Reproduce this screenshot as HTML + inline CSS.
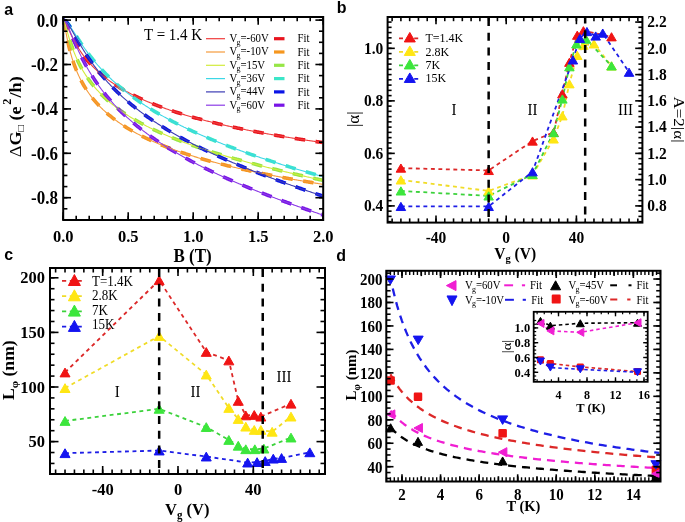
<!DOCTYPE html>
<html><head><meta charset="utf-8"><style>
html,body{margin:0;padding:0;background:#fff;overflow:hidden;}
svg{display:block;will-change:transform;}
</style></head><body>
<svg width="685" height="522" viewBox="0 0 685 522">
<rect width="685" height="522" fill="#fff"/>
<clipPath id="clipA"><rect x="64" y="18" width="258.5" height="201"/></clipPath>
<g clip-path="url(#clipA)">
<polyline points="63.27,20.1 64.13,20.6 65,21.78 65.87,23.37 66.74,25.18 67.61,27.09 68.48,29.03 69.35,30.96 70.22,32.85 71.09,34.7 71.96,36.5 72.83,38.25 73.7,39.93 74.57,41.57 75.44,43.15 76.31,44.67 77.17,46.15 78.04,47.58 78.91,48.97 79.78,50.31 80.65,51.61 81.52,52.88 82.39,54.1 83.26,55.3 84.13,56.46 85,57.58 85.87,58.68 86.74,59.75 87.61,60.79 88.48,61.81 89.35,62.8 90.21,63.77 91.08,64.72 91.95,65.64 92.82,66.54 93.69,67.43 94.56,68.29 95.43,69.14 96.3,69.97 97.17,70.78 98.04,71.58 98.91,72.36 99.78,73.13 100.65,73.88 101.52,74.62 102.39,75.34 103.25,76.05 104.12,76.75 104.99,77.44 105.86,78.11 106.73,78.78 107.6,79.43 108.47,80.07 109.34,80.71 110.21,81.33 111.08,81.94 111.95,82.55 112.82,83.14 113.69,83.73 114.56,84.3 115.43,84.87 116.3,85.43 117.16,85.99 118.03,86.53 118.9,87.07 119.77,87.6 120.64,88.13 121.51,88.64 122.38,89.15 123.25,89.66 124.12,90.15 124.99,90.65 125.86,91.13 126.73,91.61 127.6,92.08 128.47,92.55 129.34,93.01 130.2,93.47 131.07,93.92 131.94,94.37 132.81,94.81 133.68,95.25 134.55,95.68 135.42,96.1 136.29,96.53 137.16,96.94 138.03,97.36 138.9,97.77 139.77,98.17 140.64,98.57 141.51,98.97 142.38,99.36 143.25,99.75 144.11,100.13 144.98,100.52 145.85,100.89 146.72,101.27 147.59,101.64 148.46,102 149.33,102.37 150.2,102.73 151.07,103.08 151.94,103.44 152.81,103.79 153.68,104.13 154.55,104.48 155.42,104.82 156.29,105.16 157.15,105.49 158.02,105.82 158.89,106.15 159.76,106.48 160.63,106.8 161.5,107.12 162.37,107.44 163.24,107.76 164.11,108.07 164.98,108.38 165.85,108.69 166.72,109 167.59,109.3 168.46,109.6 169.33,109.9 170.19,110.19 171.06,110.49 171.93,110.78 172.8,111.07 173.67,111.36 174.54,111.64 175.41,111.92 176.28,112.21 177.15,112.48 178.02,112.76 178.89,113.04 179.76,113.31 180.63,113.58 181.5,113.85 182.37,114.12 183.24,114.38 184.1,114.64 184.97,114.91 185.84,115.17 186.71,115.42 187.58,115.68 188.45,115.94 189.32,116.19 190.19,116.44 191.06,116.69 191.93,116.94 192.8,117.18 193.67,117.43 194.54,117.67 195.41,117.91 196.28,118.15 197.14,118.39 198.01,118.63 198.88,118.86 199.75,119.1 200.62,119.33 201.49,119.56 202.36,119.79 203.23,120.02 204.1,120.24 204.97,120.47 205.84,120.69 206.71,120.92 207.58,121.14 208.45,121.36 209.32,121.58 210.18,121.8 211.05,122.01 211.92,122.23 212.79,122.44 213.66,122.65 214.53,122.86 215.4,123.07 216.27,123.28 217.14,123.49 218.01,123.7 218.88,123.9 219.75,124.11 220.62,124.31 221.49,124.51 222.36,124.71 223.23,124.91 224.09,125.11 224.96,125.31 225.83,125.51 226.7,125.7 227.57,125.9 228.44,126.09 229.31,126.28 230.18,126.47 231.05,126.66 231.92,126.85 232.79,127.04 233.66,127.23 234.53,127.42 235.4,127.6 236.27,127.79 237.13,127.97 238,128.15 238.87,128.33 239.74,128.51 240.61,128.69 241.48,128.87 242.35,129.05 243.22,129.23 244.09,129.41 244.96,129.58 245.83,129.76 246.7,129.93 247.57,130.1 248.44,130.28 249.31,130.45 250.17,130.62 251.04,130.79 251.91,130.96 252.78,131.12 253.65,131.29 254.52,131.46 255.39,131.62 256.26,131.79 257.13,131.95 258,132.12 258.87,132.28 259.74,132.44 260.61,132.6 261.48,132.76 262.35,132.92 263.21,133.08 264.08,133.24 264.95,133.4 265.82,133.55 266.69,133.71 267.56,133.87 268.43,134.02 269.3,134.17 270.17,134.33 271.04,134.48 271.91,134.63 272.78,134.78 273.65,134.93 274.52,135.08 275.39,135.23 276.26,135.38 277.12,135.53 277.99,135.68 278.86,135.83 279.73,135.97 280.6,136.12 281.47,136.26 282.34,136.41 283.21,136.55 284.08,136.69 284.95,136.84 285.82,136.98 286.69,137.12 287.56,137.26 288.43,137.4 289.3,137.54 290.16,137.68 291.03,137.82 291.9,137.96 292.77,138.09 293.64,138.23 294.51,138.37 295.38,138.5 296.25,138.64 297.12,138.77 297.99,138.91 298.86,139.04 299.73,139.17 300.6,139.3 301.47,139.44 302.34,139.57 303.2,139.7 304.07,139.83 304.94,139.96 305.81,140.09 306.68,140.22 307.55,140.35 308.42,140.47 309.29,140.6 310.16,140.73 311.03,140.85 311.9,140.98 312.77,141.11 313.64,141.23 314.51,141.36 315.38,141.48 316.25,141.6 317.11,141.73 317.98,141.85 318.85,141.97 319.72,142.09 320.59,142.21 321.46,142.33 322.33,142.45 323.2,142.57" fill="none" stroke="#e8141e" stroke-width="3.6" stroke-dasharray="10.5,10.5" stroke-linejoin="round" />
<polyline points="63.27,20.11 64.13,22.61 65,27.09 65.87,31.88 66.74,36.47 67.61,40.75 68.48,44.71 69.35,48.37 70.22,51.76 71.09,54.91 71.96,57.85 72.83,60.61 73.7,63.2 74.57,65.65 75.44,67.96 76.31,70.15 77.17,72.23 78.04,74.22 78.91,76.12 79.78,77.93 80.65,79.67 81.52,81.34 82.39,82.95 83.26,84.49 84.13,85.98 85,87.42 85.87,88.81 86.74,90.16 87.61,91.47 88.48,92.73 89.35,93.96 90.21,95.15 91.08,96.31 91.95,97.44 92.82,98.54 93.69,99.61 94.56,100.65 95.43,101.67 96.3,102.66 97.17,103.63 98.04,104.58 98.91,105.5 99.78,106.41 100.65,107.3 101.52,108.16 102.39,109.01 103.25,109.85 104.12,110.66 104.99,111.47 105.86,112.25 106.73,113.02 107.6,113.78 108.47,114.52 109.34,115.26 110.21,115.97 111.08,116.68 111.95,117.37 112.82,118.06 113.69,118.73 114.56,119.39 115.43,120.04 116.3,120.68 117.16,121.31 118.03,121.93 118.9,122.54 119.77,123.15 120.64,123.74 121.51,124.33 122.38,124.9 123.25,125.47 124.12,126.04 124.99,126.59 125.86,127.14 126.73,127.68 127.6,128.21 128.47,128.74 129.34,129.26 130.2,129.77 131.07,130.28 131.94,130.78 132.81,131.27 133.68,131.76 134.55,132.25 135.42,132.72 136.29,133.2 137.16,133.66 138.03,134.13 138.9,134.58 139.77,135.03 140.64,135.48 141.51,135.92 142.38,136.36 143.25,136.79 144.11,137.22 144.98,137.65 145.85,138.07 146.72,138.48 147.59,138.89 148.46,139.3 149.33,139.7 150.2,140.1 151.07,140.5 151.94,140.89 152.81,141.28 153.68,141.66 154.55,142.04 155.42,142.42 156.29,142.8 157.15,143.17 158.02,143.53 158.89,143.9 159.76,144.26 160.63,144.62 161.5,144.97 162.37,145.33 163.24,145.67 164.11,146.02 164.98,146.36 165.85,146.7 166.72,147.04 167.59,147.38 168.46,147.71 169.33,148.04 170.19,148.37 171.06,148.69 171.93,149.01 172.8,149.33 173.67,149.65 174.54,149.96 175.41,150.27 176.28,150.58 177.15,150.89 178.02,151.2 178.89,151.5 179.76,151.8 180.63,152.1 181.5,152.4 182.37,152.69 183.24,152.98 184.1,153.27 184.97,153.56 185.84,153.85 186.71,154.13 187.58,154.42 188.45,154.7 189.32,154.97 190.19,155.25 191.06,155.53 191.93,155.8 192.8,156.07 193.67,156.34 194.54,156.61 195.41,156.87 196.28,157.14 197.14,157.4 198.01,157.66 198.88,157.92 199.75,158.18 200.62,158.44 201.49,158.69 202.36,158.94 203.23,159.19 204.1,159.44 204.97,159.69 205.84,159.94 206.71,160.19 207.58,160.43 208.45,160.67 209.32,160.91 210.18,161.15 211.05,161.39 211.92,161.63 212.79,161.87 213.66,162.1 214.53,162.33 215.4,162.57 216.27,162.8 217.14,163.03 218.01,163.25 218.88,163.48 219.75,163.71 220.62,163.93 221.49,164.15 222.36,164.38 223.23,164.6 224.09,164.82 224.96,165.03 225.83,165.25 226.7,165.47 227.57,165.68 228.44,165.9 229.31,166.11 230.18,166.32 231.05,166.53 231.92,166.74 232.79,166.95 233.66,167.16 234.53,167.36 235.4,167.57 236.27,167.77 237.13,167.98 238,168.18 238.87,168.38 239.74,168.58 240.61,168.78 241.48,168.98 242.35,169.18 243.22,169.37 244.09,169.57 244.96,169.76 245.83,169.96 246.7,170.15 247.57,170.34 248.44,170.53 249.31,170.73 250.17,170.91 251.04,171.1 251.91,171.29 252.78,171.48 253.65,171.66 254.52,171.85 255.39,172.03 256.26,172.22 257.13,172.4 258,172.58 258.87,172.76 259.74,172.94 260.61,173.12 261.48,173.3 262.35,173.48 263.21,173.66 264.08,173.83 264.95,174.01 265.82,174.19 266.69,174.36 267.56,174.53 268.43,174.71 269.3,174.88 270.17,175.05 271.04,175.22 271.91,175.39 272.78,175.56 273.65,175.73 274.52,175.9 275.39,176.06 276.26,176.23 277.12,176.4 277.99,176.56 278.86,176.73 279.73,176.89 280.6,177.06 281.47,177.22 282.34,177.38 283.21,177.54 284.08,177.7 284.95,177.86 285.82,178.02 286.69,178.18 287.56,178.34 288.43,178.5 289.3,178.65 290.16,178.81 291.03,178.97 291.9,179.12 292.77,179.28 293.64,179.43 294.51,179.59 295.38,179.74 296.25,179.89 297.12,180.04 297.99,180.2 298.86,180.35 299.73,180.5 300.6,180.65 301.47,180.8 302.34,180.94 303.2,181.09 304.07,181.24 304.94,181.39 305.81,181.53 306.68,181.68 307.55,181.83 308.42,181.97 309.29,182.12 310.16,182.26 311.03,182.4 311.9,182.55 312.77,182.69 313.64,182.83 314.51,182.97 315.38,183.12 316.25,183.26 317.11,183.4 317.98,183.54 318.85,183.68 319.72,183.81 320.59,183.95 321.46,184.09 322.33,184.23 323.2,184.37" fill="none" stroke="#f5961e" stroke-width="3.6" stroke-dasharray="10.5,10.5" stroke-linejoin="round" />
<polyline points="63.27,20.11 64.13,21.22 65,23.62 65.87,26.57 66.74,29.69 67.61,32.79 68.48,35.81 69.35,38.72 70.22,41.49 71.09,44.14 71.96,46.66 72.83,49.06 73.7,51.35 74.57,53.54 75.44,55.63 76.31,57.64 77.17,59.56 78.04,61.41 78.91,63.18 79.78,64.89 80.65,66.54 81.52,68.13 82.39,69.67 83.26,71.16 84.13,72.6 85,73.99 85.87,75.35 86.74,76.66 87.61,77.94 88.48,79.18 89.35,80.39 90.21,81.57 91.08,82.72 91.95,83.84 92.82,84.93 93.69,86 94.56,87.04 95.43,88.06 96.3,89.06 97.17,90.03 98.04,90.98 98.91,91.92 99.78,92.83 100.65,93.73 101.52,94.61 102.39,95.48 103.25,96.32 104.12,97.15 104.99,97.97 105.86,98.77 106.73,99.56 107.6,100.34 108.47,101.1 109.34,101.85 110.21,102.59 111.08,103.31 111.95,104.03 112.82,104.73 113.69,105.42 114.56,106.11 115.43,106.78 116.3,107.44 117.16,108.1 118.03,108.74 118.9,109.38 119.77,110 120.64,110.62 121.51,111.23 122.38,111.84 123.25,112.43 124.12,113.02 124.99,113.6 125.86,114.17 126.73,114.74 127.6,115.3 128.47,115.85 129.34,116.4 130.2,116.94 131.07,117.47 131.94,118 132.81,118.52 133.68,119.04 134.55,119.55 135.42,120.06 136.29,120.56 137.16,121.05 138.03,121.54 138.9,122.03 139.77,122.51 140.64,122.98 141.51,123.46 142.38,123.92 143.25,124.38 144.11,124.84 144.98,125.3 145.85,125.74 146.72,126.19 147.59,126.63 148.46,127.07 149.33,127.5 150.2,127.93 151.07,128.36 151.94,128.78 152.81,129.2 153.68,129.61 154.55,130.03 155.42,130.43 156.29,130.84 157.15,131.24 158.02,131.64 158.89,132.03 159.76,132.43 160.63,132.82 161.5,133.2 162.37,133.59 163.24,133.97 164.11,134.35 164.98,134.72 165.85,135.09 166.72,135.46 167.59,135.83 168.46,136.19 169.33,136.56 170.19,136.92 171.06,137.27 171.93,137.63 172.8,137.98 173.67,138.33 174.54,138.68 175.41,139.02 176.28,139.37 177.15,139.71 178.02,140.05 178.89,140.38 179.76,140.72 180.63,141.05 181.5,141.38 182.37,141.71 183.24,142.04 184.1,142.36 184.97,142.68 185.84,143 186.71,143.32 187.58,143.64 188.45,143.95 189.32,144.27 190.19,144.58 191.06,144.89 191.93,145.2 192.8,145.5 193.67,145.81 194.54,146.11 195.41,146.41 196.28,146.71 197.14,147.01 198.01,147.31 198.88,147.61 199.75,147.9 200.62,148.19 201.49,148.48 202.36,148.77 203.23,149.06 204.1,149.35 204.97,149.63 205.84,149.92 206.71,150.2 207.58,150.48 208.45,150.76 209.32,151.04 210.18,151.32 211.05,151.59 211.92,151.87 212.79,152.14 213.66,152.41 214.53,152.68 215.4,152.95 216.27,153.22 217.14,153.49 218.01,153.76 218.88,154.02 219.75,154.29 220.62,154.55 221.49,154.81 222.36,155.07 223.23,155.33 224.09,155.59 224.96,155.85 225.83,156.11 226.7,156.36 227.57,156.62 228.44,156.87 229.31,157.12 230.18,157.38 231.05,157.63 231.92,157.88 232.79,158.13 233.66,158.37 234.53,158.62 235.4,158.87 236.27,159.11 237.13,159.36 238,159.6 238.87,159.84 239.74,160.09 240.61,160.33 241.48,160.57 242.35,160.81 243.22,161.04 244.09,161.28 244.96,161.52 245.83,161.76 246.7,161.99 247.57,162.23 248.44,162.46 249.31,162.69 250.17,162.92 251.04,163.16 251.91,163.39 252.78,163.62 253.65,163.85 254.52,164.08 255.39,164.3 256.26,164.53 257.13,164.76 258,164.98 258.87,165.21 259.74,165.43 260.61,165.66 261.48,165.88 262.35,166.1 263.21,166.33 264.08,166.55 264.95,166.77 265.82,166.99 266.69,167.21 267.56,167.43 268.43,167.64 269.3,167.86 270.17,168.08 271.04,168.3 271.91,168.51 272.78,168.73 273.65,168.94 274.52,169.16 275.39,169.37 276.26,169.58 277.12,169.8 277.99,170.01 278.86,170.22 279.73,170.43 280.6,170.64 281.47,170.85 282.34,171.06 283.21,171.27 284.08,171.48 284.95,171.69 285.82,171.9 286.69,172.1 287.56,172.31 288.43,172.52 289.3,172.72 290.16,172.93 291.03,173.13 291.9,173.34 292.77,173.54 293.64,173.74 294.51,173.95 295.38,174.15 296.25,174.35 297.12,174.55 297.99,174.75 298.86,174.95 299.73,175.16 300.6,175.36 301.47,175.56 302.34,175.75 303.2,175.95 304.07,176.15 304.94,176.35 305.81,176.55 306.68,176.74 307.55,176.94 308.42,177.14 309.29,177.33 310.16,177.53 311.03,177.73 311.9,177.92 312.77,178.12 313.64,178.31 314.51,178.5 315.38,178.7 316.25,178.89 317.11,179.08 317.98,179.28 318.85,179.47 319.72,179.66 320.59,179.85 321.46,180.04 322.33,180.24 323.2,180.43" fill="none" stroke="#96e646" stroke-width="3.6" stroke-dasharray="10.5,10.5" stroke-linejoin="round" />
<polyline points="63.27,20.1 64.13,20.26 65,20.67 65.87,21.31 66.74,22.13 67.61,23.1 68.48,24.18 69.35,25.35 70.22,26.59 71.09,27.88 71.96,29.2 72.83,30.54 73.7,31.9 74.57,33.26 75.44,34.62 76.31,35.99 77.17,37.34 78.04,38.69 78.91,40.02 79.78,41.35 80.65,42.66 81.52,43.95 82.39,45.23 83.26,46.49 84.13,47.74 85,48.97 85.87,50.18 86.74,51.38 87.61,52.55 88.48,53.72 89.35,54.86 90.21,55.99 91.08,57.11 91.95,58.21 92.82,59.29 93.69,60.36 94.56,61.41 95.43,62.45 96.3,63.48 97.17,64.49 98.04,65.49 98.91,66.47 99.78,67.44 100.65,68.4 101.52,69.35 102.39,70.28 103.25,71.2 104.12,72.11 104.99,73.01 105.86,73.9 106.73,74.77 107.6,75.64 108.47,76.5 109.34,77.34 110.21,78.18 111.08,79 111.95,79.82 112.82,80.62 113.69,81.42 114.56,82.21 115.43,82.99 116.3,83.76 117.16,84.53 118.03,85.28 118.9,86.03 119.77,86.77 120.64,87.5 121.51,88.22 122.38,88.94 123.25,89.65 124.12,90.35 124.99,91.05 125.86,91.73 126.73,92.42 127.6,93.09 128.47,93.76 129.34,94.42 130.2,95.08 131.07,95.73 131.94,96.37 132.81,97.01 133.68,97.64 134.55,98.27 135.42,98.89 136.29,99.51 137.16,100.12 138.03,100.73 138.9,101.33 139.77,101.92 140.64,102.51 141.51,103.1 142.38,103.68 143.25,104.26 144.11,104.83 144.98,105.39 145.85,105.96 146.72,106.52 147.59,107.07 148.46,107.62 149.33,108.16 150.2,108.71 151.07,109.24 151.94,109.78 152.81,110.31 153.68,110.83 154.55,111.35 155.42,111.87 156.29,112.39 157.15,112.9 158.02,113.4 158.89,113.91 159.76,114.41 160.63,114.9 161.5,115.4 162.37,115.89 163.24,116.38 164.11,116.86 164.98,117.34 165.85,117.82 166.72,118.29 167.59,118.76 168.46,119.23 169.33,119.7 170.19,120.16 171.06,120.62 171.93,121.08 172.8,121.53 173.67,121.98 174.54,122.43 175.41,122.88 176.28,123.32 177.15,123.76 178.02,124.2 178.89,124.63 179.76,125.07 180.63,125.5 181.5,125.93 182.37,126.35 183.24,126.77 184.1,127.2 184.97,127.61 185.84,128.03 186.71,128.45 187.58,128.86 188.45,129.27 189.32,129.68 190.19,130.08 191.06,130.48 191.93,130.89 192.8,131.28 193.67,131.68 194.54,132.08 195.41,132.47 196.28,132.86 197.14,133.25 198.01,133.64 198.88,134.02 199.75,134.41 200.62,134.79 201.49,135.17 202.36,135.55 203.23,135.93 204.1,136.3 204.97,136.67 205.84,137.04 206.71,137.41 207.58,137.78 208.45,138.15 209.32,138.51 210.18,138.88 211.05,139.24 211.92,139.6 212.79,139.95 213.66,140.31 214.53,140.67 215.4,141.02 216.27,141.37 217.14,141.72 218.01,142.07 218.88,142.42 219.75,142.77 220.62,143.11 221.49,143.45 222.36,143.8 223.23,144.14 224.09,144.47 224.96,144.81 225.83,145.15 226.7,145.48 227.57,145.82 228.44,146.15 229.31,146.48 230.18,146.81 231.05,147.14 231.92,147.47 232.79,147.79 233.66,148.12 234.53,148.44 235.4,148.77 236.27,149.09 237.13,149.41 238,149.73 238.87,150.05 239.74,150.36 240.61,150.68 241.48,150.99 242.35,151.31 243.22,151.62 244.09,151.93 244.96,152.24 245.83,152.55 246.7,152.86 247.57,153.16 248.44,153.47 249.31,153.78 250.17,154.08 251.04,154.38 251.91,154.68 252.78,154.99 253.65,155.29 254.52,155.59 255.39,155.88 256.26,156.18 257.13,156.48 258,156.77 258.87,157.07 259.74,157.36 260.61,157.65 261.48,157.95 262.35,158.24 263.21,158.53 264.08,158.82 264.95,159.1 265.82,159.39 266.69,159.68 267.56,159.96 268.43,160.25 269.3,160.53 270.17,160.82 271.04,161.1 271.91,161.38 272.78,161.66 273.65,161.94 274.52,162.22 275.39,162.5 276.26,162.78 277.12,163.05 277.99,163.33 278.86,163.6 279.73,163.88 280.6,164.15 281.47,164.43 282.34,164.7 283.21,164.97 284.08,165.24 284.95,165.51 285.82,165.78 286.69,166.05 287.56,166.32 288.43,166.59 289.3,166.85 290.16,167.12 291.03,167.39 291.9,167.65 292.77,167.92 293.64,168.18 294.51,168.44 295.38,168.71 296.25,168.97 297.12,169.23 297.99,169.49 298.86,169.75 299.73,170.01 300.6,170.27 301.47,170.53 302.34,170.78 303.2,171.04 304.07,171.3 304.94,171.55 305.81,171.81 306.68,172.06 307.55,172.32 308.42,172.57 309.29,172.82 310.16,173.08 311.03,173.33 311.9,173.58 312.77,173.83 313.64,174.08 314.51,174.33 315.38,174.58 316.25,174.83 317.11,175.08 317.98,175.32 318.85,175.57 319.72,175.82 320.59,176.06 321.46,176.31 322.33,176.55 323.2,176.8" fill="none" stroke="#3ce6c8" stroke-width="3.6" stroke-dasharray="10.5,10.5" stroke-linejoin="round" />
<polyline points="63.27,20.1 64.13,20.28 65,20.75 65.87,21.48 66.74,22.41 67.61,23.51 68.48,24.74 69.35,26.07 70.22,27.46 71.09,28.91 71.96,30.39 72.83,31.9 73.7,33.42 74.57,34.95 75.44,36.48 76.31,38 77.17,39.52 78.04,41.02 78.91,42.51 79.78,43.99 80.65,45.45 81.52,46.89 82.39,48.31 83.26,49.72 84.13,51.11 85,52.47 85.87,53.82 86.74,55.15 87.61,56.46 88.48,57.75 89.35,59.03 90.21,60.28 91.08,61.52 91.95,62.74 92.82,63.94 93.69,65.13 94.56,66.3 95.43,67.45 96.3,68.58 97.17,69.71 98.04,70.81 98.91,71.9 99.78,72.98 100.65,74.04 101.52,75.09 102.39,76.12 103.25,77.14 104.12,78.15 104.99,79.15 105.86,80.13 106.73,81.1 107.6,82.06 108.47,83.01 109.34,83.95 110.21,84.87 111.08,85.79 111.95,86.69 112.82,87.58 113.69,88.47 114.56,89.34 115.43,90.21 116.3,91.06 117.16,91.91 118.03,92.74 118.9,93.57 119.77,94.39 120.64,95.2 121.51,96 122.38,96.8 123.25,97.58 124.12,98.36 124.99,99.13 125.86,99.89 126.73,100.65 127.6,101.4 128.47,102.14 129.34,102.87 130.2,103.6 131.07,104.32 131.94,105.04 132.81,105.75 133.68,106.45 134.55,107.14 135.42,107.83 136.29,108.52 137.16,109.2 138.03,109.87 138.9,110.54 139.77,111.2 140.64,111.85 141.51,112.5 142.38,113.15 143.25,113.79 144.11,114.42 144.98,115.05 145.85,115.68 146.72,116.3 147.59,116.92 148.46,117.53 149.33,118.13 150.2,118.74 151.07,119.33 151.94,119.93 152.81,120.52 153.68,121.1 154.55,121.68 155.42,122.26 156.29,122.83 157.15,123.4 158.02,123.97 158.89,124.53 159.76,125.08 160.63,125.64 161.5,126.19 162.37,126.73 163.24,127.28 164.11,127.82 164.98,128.35 165.85,128.89 166.72,129.42 167.59,129.94 168.46,130.46 169.33,130.98 170.19,131.5 171.06,132.01 171.93,132.52 172.8,133.03 173.67,133.54 174.54,134.04 175.41,134.54 176.28,135.03 177.15,135.53 178.02,136.02 178.89,136.5 179.76,136.99 180.63,137.47 181.5,137.95 182.37,138.43 183.24,138.9 184.1,139.37 184.97,139.84 185.84,140.31 186.71,140.78 187.58,141.24 188.45,141.7 189.32,142.16 190.19,142.61 191.06,143.06 191.93,143.51 192.8,143.96 193.67,144.41 194.54,144.85 195.41,145.3 196.28,145.74 197.14,146.17 198.01,146.61 198.88,147.04 199.75,147.48 200.62,147.91 201.49,148.33 202.36,148.76 203.23,149.19 204.1,149.61 204.97,150.03 205.84,150.45 206.71,150.86 207.58,151.28 208.45,151.69 209.32,152.1 210.18,152.51 211.05,152.92 211.92,153.33 212.79,153.73 213.66,154.14 214.53,154.54 215.4,154.94 216.27,155.34 217.14,155.73 218.01,156.13 218.88,156.52 219.75,156.91 220.62,157.31 221.49,157.69 222.36,158.08 223.23,158.47 224.09,158.85 224.96,159.24 225.83,159.62 226.7,160 227.57,160.38 228.44,160.76 229.31,161.13 230.18,161.51 231.05,161.88 231.92,162.25 232.79,162.63 233.66,163 234.53,163.36 235.4,163.73 236.27,164.1 237.13,164.46 238,164.83 238.87,165.19 239.74,165.55 240.61,165.91 241.48,166.27 242.35,166.63 243.22,166.99 244.09,167.34 244.96,167.7 245.83,168.05 246.7,168.4 247.57,168.75 248.44,169.1 249.31,169.45 250.17,169.8 251.04,170.15 251.91,170.5 252.78,170.84 253.65,171.18 254.52,171.53 255.39,171.87 256.26,172.21 257.13,172.55 258,172.89 258.87,173.23 259.74,173.57 260.61,173.9 261.48,174.24 262.35,174.57 263.21,174.91 264.08,175.24 264.95,175.57 265.82,175.9 266.69,176.23 267.56,176.56 268.43,176.89 269.3,177.22 270.17,177.55 271.04,177.87 271.91,178.2 272.78,178.52 273.65,178.85 274.52,179.17 275.39,179.49 276.26,179.81 277.12,180.13 277.99,180.45 278.86,180.77 279.73,181.09 280.6,181.41 281.47,181.72 282.34,182.04 283.21,182.36 284.08,182.67 284.95,182.98 285.82,183.3 286.69,183.61 287.56,183.92 288.43,184.23 289.3,184.54 290.16,184.85 291.03,185.16 291.9,185.47 292.77,185.78 293.64,186.09 294.51,186.39 295.38,186.7 296.25,187 297.12,187.31 297.99,187.61 298.86,187.92 299.73,188.22 300.6,188.52 301.47,188.82 302.34,189.12 303.2,189.43 304.07,189.73 304.94,190.02 305.81,190.32 306.68,190.62 307.55,190.92 308.42,191.22 309.29,191.51 310.16,191.81 311.03,192.11 311.9,192.4 312.77,192.7 313.64,192.99 314.51,193.28 315.38,193.58 316.25,193.87 317.11,194.16 317.98,194.45 318.85,194.74 319.72,195.03 320.59,195.32 321.46,195.61 322.33,195.9 323.2,196.19" fill="none" stroke="#0a14e6" stroke-width="3.6" stroke-dasharray="10.5,10.5" stroke-linejoin="round" />
<polyline points="63.27,20.1 64.13,20.43 65,21.29 65.87,22.55 66.74,24.11 67.61,25.88 68.48,27.78 69.35,29.78 70.22,31.82 71.09,33.89 71.96,35.96 72.83,38.03 73.7,40.08 74.57,42.1 75.44,44.1 76.31,46.07 77.17,48 78.04,49.89 78.91,51.75 79.78,53.58 80.65,55.37 81.52,57.12 82.39,58.84 83.26,60.53 84.13,62.18 85,63.8 85.87,65.38 86.74,66.94 87.61,68.47 88.48,69.96 89.35,71.43 90.21,72.87 91.08,74.29 91.95,75.68 92.82,77.05 93.69,78.39 94.56,79.71 95.43,81 96.3,82.28 97.17,83.53 98.04,84.76 98.91,85.97 99.78,87.17 100.65,88.34 101.52,89.5 102.39,90.64 103.25,91.76 104.12,92.87 104.99,93.96 105.86,95.03 106.73,96.09 107.6,97.13 108.47,98.16 109.34,99.18 110.21,100.18 111.08,101.17 111.95,102.14 112.82,103.11 113.69,104.06 114.56,105 115.43,105.92 116.3,106.84 117.16,107.75 118.03,108.64 118.9,109.52 119.77,110.4 120.64,111.26 121.51,112.11 122.38,112.96 123.25,113.79 124.12,114.62 124.99,115.44 125.86,116.24 126.73,117.04 127.6,117.84 128.47,118.62 129.34,119.39 130.2,120.16 131.07,120.92 131.94,121.67 132.81,122.42 133.68,123.16 134.55,123.89 135.42,124.61 136.29,125.33 137.16,126.04 138.03,126.75 138.9,127.44 139.77,128.13 140.64,128.82 141.51,129.5 142.38,130.17 143.25,130.84 144.11,131.5 144.98,132.16 145.85,132.81 146.72,133.46 147.59,134.1 148.46,134.74 149.33,135.37 150.2,135.99 151.07,136.61 151.94,137.23 152.81,137.84 153.68,138.45 154.55,139.05 155.42,139.65 156.29,140.24 157.15,140.83 158.02,141.41 158.89,142 159.76,142.57 160.63,143.14 161.5,143.71 162.37,144.28 163.24,144.84 164.11,145.4 164.98,145.95 165.85,146.5 166.72,147.04 167.59,147.59 168.46,148.13 169.33,148.66 170.19,149.19 171.06,149.72 171.93,150.25 172.8,150.77 173.67,151.29 174.54,151.8 175.41,152.32 176.28,152.83 177.15,153.33 178.02,153.84 178.89,154.34 179.76,154.84 180.63,155.33 181.5,155.82 182.37,156.31 183.24,156.8 184.1,157.28 184.97,157.76 185.84,158.24 186.71,158.72 187.58,159.19 188.45,159.67 189.32,160.13 190.19,160.6 191.06,161.06 191.93,161.53 192.8,161.99 193.67,162.44 194.54,162.9 195.41,163.35 196.28,163.8 197.14,164.25 198.01,164.69 198.88,165.14 199.75,165.58 200.62,166.02 201.49,166.46 202.36,166.89 203.23,167.32 204.1,167.76 204.97,168.18 205.84,168.61 206.71,169.04 207.58,169.46 208.45,169.88 209.32,170.3 210.18,170.72 211.05,171.14 211.92,171.55 212.79,171.97 213.66,172.38 214.53,172.79 215.4,173.19 216.27,173.6 217.14,174.01 218.01,174.41 218.88,174.81 219.75,175.21 220.62,175.61 221.49,176 222.36,176.4 223.23,176.79 224.09,177.18 224.96,177.58 225.83,177.96 226.7,178.35 227.57,178.74 228.44,179.12 229.31,179.51 230.18,179.89 231.05,180.27 231.92,180.65 232.79,181.03 233.66,181.4 234.53,181.78 235.4,182.15 236.27,182.52 237.13,182.9 238,183.27 238.87,183.64 239.74,184 240.61,184.37 241.48,184.73 242.35,185.1 243.22,185.46 244.09,185.82 244.96,186.18 245.83,186.54 246.7,186.9 247.57,187.26 248.44,187.62 249.31,187.97 250.17,188.32 251.04,188.68 251.91,189.03 252.78,189.38 253.65,189.73 254.52,190.08 255.39,190.43 256.26,190.77 257.13,191.12 258,191.46 258.87,191.81 259.74,192.15 260.61,192.49 261.48,192.83 262.35,193.17 263.21,193.51 264.08,193.85 264.95,194.19 265.82,194.53 266.69,194.86 267.56,195.2 268.43,195.53 269.3,195.86 270.17,196.19 271.04,196.53 271.91,196.86 272.78,197.19 273.65,197.51 274.52,197.84 275.39,198.17 276.26,198.5 277.12,198.82 277.99,199.15 278.86,199.47 279.73,199.79 280.6,200.12 281.47,200.44 282.34,200.76 283.21,201.08 284.08,201.4 284.95,201.72 285.82,202.04 286.69,202.35 287.56,202.67 288.43,202.99 289.3,203.3 290.16,203.62 291.03,203.93 291.9,204.25 292.77,204.56 293.64,204.87 294.51,205.18 295.38,205.49 296.25,205.8 297.12,206.11 297.99,206.42 298.86,206.73 299.73,207.04 300.6,207.34 301.47,207.65 302.34,207.96 303.2,208.26 304.07,208.57 304.94,208.87 305.81,209.18 306.68,209.48 307.55,209.78 308.42,210.08 309.29,210.38 310.16,210.69 311.03,210.99 311.9,211.29 312.77,211.59 313.64,211.88 314.51,212.18 315.38,212.48 316.25,212.78 317.11,213.07 317.98,213.37 318.85,213.67 319.72,213.96 320.59,214.26 321.46,214.55 322.33,214.84 323.2,215.14" fill="none" stroke="#7814e6" stroke-width="3.6" stroke-dasharray="10.5,10.5" stroke-linejoin="round" />
<polyline points="63.27,20.1 64.13,20.6 65,21.78 65.87,23.37 66.74,25.18 67.61,27.09 68.48,29.03 69.35,30.96 70.22,32.85 71.09,34.7 71.96,36.5 72.83,38.25 73.7,39.93 74.57,41.57 75.44,43.15 76.31,44.67 77.17,46.15 78.04,47.58 78.91,48.97 79.78,50.31 80.65,51.61 81.52,52.88 82.39,54.1 83.26,55.3 84.13,56.46 85,57.58 85.87,58.68 86.74,59.75 87.61,60.79 88.48,61.81 89.35,62.8 90.21,63.77 91.08,64.72 91.95,65.64 92.82,66.54 93.69,67.43 94.56,68.29 95.43,69.14 96.3,69.97 97.17,70.78 98.04,71.58 98.91,72.36 99.78,73.13 100.65,73.88 101.52,74.62 102.39,75.34 103.25,76.05 104.12,76.75 104.99,77.44 105.86,78.11 106.73,78.78 107.6,79.43 108.47,80.07 109.34,80.71 110.21,81.33 111.08,81.94 111.95,82.55 112.82,83.14 113.69,83.73 114.56,84.3 115.43,84.87 116.3,85.43 117.16,85.99 118.03,86.53 118.9,87.07 119.77,87.6 120.64,88.13 121.51,88.64 122.38,89.15 123.25,89.66 124.12,90.15 124.99,90.65 125.86,91.13 126.73,91.61 127.6,92.08 128.47,92.55 129.34,93.01 130.2,93.47 131.07,93.92 131.94,94.37 132.81,94.81 133.68,95.25 134.55,95.68 135.42,96.1 136.29,96.53 137.16,96.94 138.03,97.36 138.9,97.77 139.77,98.17 140.64,98.57 141.51,98.97 142.38,99.36 143.25,99.75 144.11,100.13 144.98,100.52 145.85,100.89 146.72,101.27 147.59,101.64 148.46,102 149.33,102.37 150.2,102.73 151.07,103.08 151.94,103.44 152.81,103.79 153.68,104.13 154.55,104.48 155.42,104.82 156.29,105.16 157.15,105.49 158.02,105.82 158.89,106.15 159.76,106.48 160.63,106.8 161.5,107.12 162.37,107.44 163.24,107.76 164.11,108.07 164.98,108.38 165.85,108.69 166.72,109 167.59,109.3 168.46,109.6 169.33,109.9 170.19,110.19 171.06,110.49 171.93,110.78 172.8,111.07 173.67,111.36 174.54,111.64 175.41,111.92 176.28,112.21 177.15,112.48 178.02,112.76 178.89,113.04 179.76,113.31 180.63,113.58 181.5,113.85 182.37,114.12 183.24,114.38 184.1,114.64 184.97,114.91 185.84,115.17 186.71,115.42 187.58,115.68 188.45,115.94 189.32,116.19 190.19,116.44 191.06,116.69 191.93,116.94 192.8,117.18 193.67,117.43 194.54,117.67 195.41,117.91 196.28,118.15 197.14,118.39 198.01,118.63 198.88,118.86 199.75,119.1 200.62,119.33 201.49,119.56 202.36,119.79 203.23,120.02 204.1,120.24 204.97,120.47 205.84,120.69 206.71,120.92 207.58,121.14 208.45,121.36 209.32,121.58 210.18,121.8 211.05,122.01 211.92,122.23 212.79,122.44 213.66,122.65 214.53,122.86 215.4,123.07 216.27,123.28 217.14,123.49 218.01,123.7 218.88,123.9 219.75,124.11 220.62,124.31 221.49,124.51 222.36,124.71 223.23,124.91 224.09,125.11 224.96,125.31 225.83,125.51 226.7,125.7 227.57,125.9 228.44,126.09 229.31,126.28 230.18,126.47 231.05,126.66 231.92,126.85 232.79,127.04 233.66,127.23 234.53,127.42 235.4,127.6 236.27,127.79 237.13,127.97 238,128.15 238.87,128.33 239.74,128.51 240.61,128.69 241.48,128.87 242.35,129.05 243.22,129.23 244.09,129.41 244.96,129.58 245.83,129.76 246.7,129.93 247.57,130.1 248.44,130.28 249.31,130.45 250.17,130.62 251.04,130.79 251.91,130.96 252.78,131.12 253.65,131.29 254.52,131.46 255.39,131.62 256.26,131.79 257.13,131.95 258,132.12 258.87,132.28 259.74,132.44 260.61,132.6 261.48,132.76 262.35,132.92 263.21,133.08 264.08,133.24 264.95,133.4 265.82,133.55 266.69,133.71 267.56,133.87 268.43,134.02 269.3,134.17 270.17,134.33 271.04,134.48 271.91,134.63 272.78,134.78 273.65,134.93 274.52,135.08 275.39,135.23 276.26,135.38 277.12,135.53 277.99,135.68 278.86,135.83 279.73,135.97 280.6,136.12 281.47,136.26 282.34,136.41 283.21,136.55 284.08,136.69 284.95,136.84 285.82,136.98 286.69,137.12 287.56,137.26 288.43,137.4 289.3,137.54 290.16,137.68 291.03,137.82 291.9,137.96 292.77,138.09 293.64,138.23 294.51,138.37 295.38,138.5 296.25,138.64 297.12,138.77 297.99,138.91 298.86,139.04 299.73,139.17 300.6,139.3 301.47,139.44 302.34,139.57 303.2,139.7 304.07,139.83 304.94,139.96 305.81,140.09 306.68,140.22 307.55,140.35 308.42,140.47 309.29,140.6 310.16,140.73 311.03,140.85 311.9,140.98 312.77,141.11 313.64,141.23 314.51,141.36 315.38,141.48 316.25,141.6 317.11,141.73 317.98,141.85 318.85,141.97 319.72,142.09 320.59,142.21 321.46,142.33 322.33,142.45 323.2,142.57" fill="none" stroke="#f03c3c" stroke-width="1.1" stroke-linejoin="round" />
<polyline points="63.27,20.11 64.13,22.61 65,27.09 65.87,31.88 66.74,36.47 67.61,40.75 68.48,44.71 69.35,48.37 70.22,51.76 71.09,54.91 71.96,57.85 72.83,60.61 73.7,63.2 74.57,65.65 75.44,67.96 76.31,70.15 77.17,72.23 78.04,74.22 78.91,76.12 79.78,77.93 80.65,79.67 81.52,81.34 82.39,82.95 83.26,84.49 84.13,85.98 85,87.42 85.87,88.81 86.74,90.16 87.61,91.47 88.48,92.73 89.35,93.96 90.21,95.15 91.08,96.31 91.95,97.44 92.82,98.54 93.69,99.61 94.56,100.65 95.43,101.67 96.3,102.66 97.17,103.63 98.04,104.58 98.91,105.5 99.78,106.41 100.65,107.3 101.52,108.16 102.39,109.01 103.25,109.85 104.12,110.66 104.99,111.47 105.86,112.25 106.73,113.02 107.6,113.78 108.47,114.52 109.34,115.26 110.21,115.97 111.08,116.68 111.95,117.37 112.82,118.06 113.69,118.73 114.56,119.39 115.43,120.04 116.3,120.68 117.16,121.31 118.03,121.93 118.9,122.54 119.77,123.15 120.64,123.74 121.51,124.33 122.38,124.9 123.25,125.47 124.12,126.04 124.99,126.59 125.86,127.14 126.73,127.68 127.6,128.21 128.47,128.74 129.34,129.26 130.2,129.77 131.07,130.28 131.94,130.78 132.81,131.27 133.68,131.76 134.55,132.25 135.42,132.72 136.29,133.2 137.16,133.66 138.03,134.13 138.9,134.58 139.77,135.03 140.64,135.48 141.51,135.92 142.38,136.36 143.25,136.79 144.11,137.22 144.98,137.65 145.85,138.07 146.72,138.48 147.59,138.89 148.46,139.3 149.33,139.7 150.2,140.1 151.07,140.5 151.94,140.89 152.81,141.28 153.68,141.66 154.55,142.04 155.42,142.42 156.29,142.8 157.15,143.17 158.02,143.53 158.89,143.9 159.76,144.26 160.63,144.62 161.5,144.97 162.37,145.33 163.24,145.67 164.11,146.02 164.98,146.36 165.85,146.7 166.72,147.04 167.59,147.38 168.46,147.71 169.33,148.04 170.19,148.37 171.06,148.69 171.93,149.01 172.8,149.33 173.67,149.65 174.54,149.96 175.41,150.27 176.28,150.58 177.15,150.89 178.02,151.2 178.89,151.5 179.76,151.8 180.63,152.1 181.5,152.4 182.37,152.69 183.24,152.98 184.1,153.27 184.97,153.56 185.84,153.85 186.71,154.13 187.58,154.42 188.45,154.7 189.32,154.97 190.19,155.25 191.06,155.53 191.93,155.8 192.8,156.07 193.67,156.34 194.54,156.61 195.41,156.87 196.28,157.14 197.14,157.4 198.01,157.66 198.88,157.92 199.75,158.18 200.62,158.44 201.49,158.69 202.36,158.94 203.23,159.19 204.1,159.44 204.97,159.69 205.84,159.94 206.71,160.19 207.58,160.43 208.45,160.67 209.32,160.91 210.18,161.15 211.05,161.39 211.92,161.63 212.79,161.87 213.66,162.1 214.53,162.33 215.4,162.57 216.27,162.8 217.14,163.03 218.01,163.25 218.88,163.48 219.75,163.71 220.62,163.93 221.49,164.15 222.36,164.38 223.23,164.6 224.09,164.82 224.96,165.03 225.83,165.25 226.7,165.47 227.57,165.68 228.44,165.9 229.31,166.11 230.18,166.32 231.05,166.53 231.92,166.74 232.79,166.95 233.66,167.16 234.53,167.36 235.4,167.57 236.27,167.77 237.13,167.98 238,168.18 238.87,168.38 239.74,168.58 240.61,168.78 241.48,168.98 242.35,169.18 243.22,169.37 244.09,169.57 244.96,169.76 245.83,169.96 246.7,170.15 247.57,170.34 248.44,170.53 249.31,170.73 250.17,170.91 251.04,171.1 251.91,171.29 252.78,171.48 253.65,171.66 254.52,171.85 255.39,172.03 256.26,172.22 257.13,172.4 258,172.58 258.87,172.76 259.74,172.94 260.61,173.12 261.48,173.3 262.35,173.48 263.21,173.66 264.08,173.83 264.95,174.01 265.82,174.19 266.69,174.36 267.56,174.53 268.43,174.71 269.3,174.88 270.17,175.05 271.04,175.22 271.91,175.39 272.78,175.56 273.65,175.73 274.52,175.9 275.39,176.06 276.26,176.23 277.12,176.4 277.99,176.56 278.86,176.73 279.73,176.89 280.6,177.06 281.47,177.22 282.34,177.38 283.21,177.54 284.08,177.7 284.95,177.86 285.82,178.02 286.69,178.18 287.56,178.34 288.43,178.5 289.3,178.65 290.16,178.81 291.03,178.97 291.9,179.12 292.77,179.28 293.64,179.43 294.51,179.59 295.38,179.74 296.25,179.89 297.12,180.04 297.99,180.2 298.86,180.35 299.73,180.5 300.6,180.65 301.47,180.8 302.34,180.94 303.2,181.09 304.07,181.24 304.94,181.39 305.81,181.53 306.68,181.68 307.55,181.83 308.42,181.97 309.29,182.12 310.16,182.26 311.03,182.4 311.9,182.55 312.77,182.69 313.64,182.83 314.51,182.97 315.38,183.12 316.25,183.26 317.11,183.4 317.98,183.54 318.85,183.68 319.72,183.81 320.59,183.95 321.46,184.09 322.33,184.23 323.2,184.37" fill="none" stroke="#f59b3c" stroke-width="1.1" stroke-linejoin="round" />
<polyline points="63.27,20.11 64.13,21.22 65,23.62 65.87,26.57 66.74,29.69 67.61,32.79 68.48,35.81 69.35,38.72 70.22,41.49 71.09,44.14 71.96,46.66 72.83,49.06 73.7,51.35 74.57,53.54 75.44,55.63 76.31,57.64 77.17,59.56 78.04,61.41 78.91,63.18 79.78,64.89 80.65,66.54 81.52,68.13 82.39,69.67 83.26,71.16 84.13,72.6 85,73.99 85.87,75.35 86.74,76.66 87.61,77.94 88.48,79.18 89.35,80.39 90.21,81.57 91.08,82.72 91.95,83.84 92.82,84.93 93.69,86 94.56,87.04 95.43,88.06 96.3,89.06 97.17,90.03 98.04,90.98 98.91,91.92 99.78,92.83 100.65,93.73 101.52,94.61 102.39,95.48 103.25,96.32 104.12,97.15 104.99,97.97 105.86,98.77 106.73,99.56 107.6,100.34 108.47,101.1 109.34,101.85 110.21,102.59 111.08,103.31 111.95,104.03 112.82,104.73 113.69,105.42 114.56,106.11 115.43,106.78 116.3,107.44 117.16,108.1 118.03,108.74 118.9,109.38 119.77,110 120.64,110.62 121.51,111.23 122.38,111.84 123.25,112.43 124.12,113.02 124.99,113.6 125.86,114.17 126.73,114.74 127.6,115.3 128.47,115.85 129.34,116.4 130.2,116.94 131.07,117.47 131.94,118 132.81,118.52 133.68,119.04 134.55,119.55 135.42,120.06 136.29,120.56 137.16,121.05 138.03,121.54 138.9,122.03 139.77,122.51 140.64,122.98 141.51,123.46 142.38,123.92 143.25,124.38 144.11,124.84 144.98,125.3 145.85,125.74 146.72,126.19 147.59,126.63 148.46,127.07 149.33,127.5 150.2,127.93 151.07,128.36 151.94,128.78 152.81,129.2 153.68,129.61 154.55,130.03 155.42,130.43 156.29,130.84 157.15,131.24 158.02,131.64 158.89,132.03 159.76,132.43 160.63,132.82 161.5,133.2 162.37,133.59 163.24,133.97 164.11,134.35 164.98,134.72 165.85,135.09 166.72,135.46 167.59,135.83 168.46,136.19 169.33,136.56 170.19,136.92 171.06,137.27 171.93,137.63 172.8,137.98 173.67,138.33 174.54,138.68 175.41,139.02 176.28,139.37 177.15,139.71 178.02,140.05 178.89,140.38 179.76,140.72 180.63,141.05 181.5,141.38 182.37,141.71 183.24,142.04 184.1,142.36 184.97,142.68 185.84,143 186.71,143.32 187.58,143.64 188.45,143.95 189.32,144.27 190.19,144.58 191.06,144.89 191.93,145.2 192.8,145.5 193.67,145.81 194.54,146.11 195.41,146.41 196.28,146.71 197.14,147.01 198.01,147.31 198.88,147.61 199.75,147.9 200.62,148.19 201.49,148.48 202.36,148.77 203.23,149.06 204.1,149.35 204.97,149.63 205.84,149.92 206.71,150.2 207.58,150.48 208.45,150.76 209.32,151.04 210.18,151.32 211.05,151.59 211.92,151.87 212.79,152.14 213.66,152.41 214.53,152.68 215.4,152.95 216.27,153.22 217.14,153.49 218.01,153.76 218.88,154.02 219.75,154.29 220.62,154.55 221.49,154.81 222.36,155.07 223.23,155.33 224.09,155.59 224.96,155.85 225.83,156.11 226.7,156.36 227.57,156.62 228.44,156.87 229.31,157.12 230.18,157.38 231.05,157.63 231.92,157.88 232.79,158.13 233.66,158.37 234.53,158.62 235.4,158.87 236.27,159.11 237.13,159.36 238,159.6 238.87,159.84 239.74,160.09 240.61,160.33 241.48,160.57 242.35,160.81 243.22,161.04 244.09,161.28 244.96,161.52 245.83,161.76 246.7,161.99 247.57,162.23 248.44,162.46 249.31,162.69 250.17,162.92 251.04,163.16 251.91,163.39 252.78,163.62 253.65,163.85 254.52,164.08 255.39,164.3 256.26,164.53 257.13,164.76 258,164.98 258.87,165.21 259.74,165.43 260.61,165.66 261.48,165.88 262.35,166.1 263.21,166.33 264.08,166.55 264.95,166.77 265.82,166.99 266.69,167.21 267.56,167.43 268.43,167.64 269.3,167.86 270.17,168.08 271.04,168.3 271.91,168.51 272.78,168.73 273.65,168.94 274.52,169.16 275.39,169.37 276.26,169.58 277.12,169.8 277.99,170.01 278.86,170.22 279.73,170.43 280.6,170.64 281.47,170.85 282.34,171.06 283.21,171.27 284.08,171.48 284.95,171.69 285.82,171.9 286.69,172.1 287.56,172.31 288.43,172.52 289.3,172.72 290.16,172.93 291.03,173.13 291.9,173.34 292.77,173.54 293.64,173.74 294.51,173.95 295.38,174.15 296.25,174.35 297.12,174.55 297.99,174.75 298.86,174.95 299.73,175.16 300.6,175.36 301.47,175.56 302.34,175.75 303.2,175.95 304.07,176.15 304.94,176.35 305.81,176.55 306.68,176.74 307.55,176.94 308.42,177.14 309.29,177.33 310.16,177.53 311.03,177.73 311.9,177.92 312.77,178.12 313.64,178.31 314.51,178.5 315.38,178.7 316.25,178.89 317.11,179.08 317.98,179.28 318.85,179.47 319.72,179.66 320.59,179.85 321.46,180.04 322.33,180.24 323.2,180.43" fill="none" stroke="#d2eb3c" stroke-width="1.1" stroke-linejoin="round" />
<polyline points="63.27,20.1 64.13,20.26 65,20.67 65.87,21.31 66.74,22.13 67.61,23.1 68.48,24.18 69.35,25.35 70.22,26.59 71.09,27.88 71.96,29.2 72.83,30.54 73.7,31.9 74.57,33.26 75.44,34.62 76.31,35.99 77.17,37.34 78.04,38.69 78.91,40.02 79.78,41.35 80.65,42.66 81.52,43.95 82.39,45.23 83.26,46.49 84.13,47.74 85,48.97 85.87,50.18 86.74,51.38 87.61,52.55 88.48,53.72 89.35,54.86 90.21,55.99 91.08,57.11 91.95,58.21 92.82,59.29 93.69,60.36 94.56,61.41 95.43,62.45 96.3,63.48 97.17,64.49 98.04,65.49 98.91,66.47 99.78,67.44 100.65,68.4 101.52,69.35 102.39,70.28 103.25,71.2 104.12,72.11 104.99,73.01 105.86,73.9 106.73,74.77 107.6,75.64 108.47,76.5 109.34,77.34 110.21,78.18 111.08,79 111.95,79.82 112.82,80.62 113.69,81.42 114.56,82.21 115.43,82.99 116.3,83.76 117.16,84.53 118.03,85.28 118.9,86.03 119.77,86.77 120.64,87.5 121.51,88.22 122.38,88.94 123.25,89.65 124.12,90.35 124.99,91.05 125.86,91.73 126.73,92.42 127.6,93.09 128.47,93.76 129.34,94.42 130.2,95.08 131.07,95.73 131.94,96.37 132.81,97.01 133.68,97.64 134.55,98.27 135.42,98.89 136.29,99.51 137.16,100.12 138.03,100.73 138.9,101.33 139.77,101.92 140.64,102.51 141.51,103.1 142.38,103.68 143.25,104.26 144.11,104.83 144.98,105.39 145.85,105.96 146.72,106.52 147.59,107.07 148.46,107.62 149.33,108.16 150.2,108.71 151.07,109.24 151.94,109.78 152.81,110.31 153.68,110.83 154.55,111.35 155.42,111.87 156.29,112.39 157.15,112.9 158.02,113.4 158.89,113.91 159.76,114.41 160.63,114.9 161.5,115.4 162.37,115.89 163.24,116.38 164.11,116.86 164.98,117.34 165.85,117.82 166.72,118.29 167.59,118.76 168.46,119.23 169.33,119.7 170.19,120.16 171.06,120.62 171.93,121.08 172.8,121.53 173.67,121.98 174.54,122.43 175.41,122.88 176.28,123.32 177.15,123.76 178.02,124.2 178.89,124.63 179.76,125.07 180.63,125.5 181.5,125.93 182.37,126.35 183.24,126.77 184.1,127.2 184.97,127.61 185.84,128.03 186.71,128.45 187.58,128.86 188.45,129.27 189.32,129.68 190.19,130.08 191.06,130.48 191.93,130.89 192.8,131.28 193.67,131.68 194.54,132.08 195.41,132.47 196.28,132.86 197.14,133.25 198.01,133.64 198.88,134.02 199.75,134.41 200.62,134.79 201.49,135.17 202.36,135.55 203.23,135.93 204.1,136.3 204.97,136.67 205.84,137.04 206.71,137.41 207.58,137.78 208.45,138.15 209.32,138.51 210.18,138.88 211.05,139.24 211.92,139.6 212.79,139.95 213.66,140.31 214.53,140.67 215.4,141.02 216.27,141.37 217.14,141.72 218.01,142.07 218.88,142.42 219.75,142.77 220.62,143.11 221.49,143.45 222.36,143.8 223.23,144.14 224.09,144.47 224.96,144.81 225.83,145.15 226.7,145.48 227.57,145.82 228.44,146.15 229.31,146.48 230.18,146.81 231.05,147.14 231.92,147.47 232.79,147.79 233.66,148.12 234.53,148.44 235.4,148.77 236.27,149.09 237.13,149.41 238,149.73 238.87,150.05 239.74,150.36 240.61,150.68 241.48,150.99 242.35,151.31 243.22,151.62 244.09,151.93 244.96,152.24 245.83,152.55 246.7,152.86 247.57,153.16 248.44,153.47 249.31,153.78 250.17,154.08 251.04,154.38 251.91,154.68 252.78,154.99 253.65,155.29 254.52,155.59 255.39,155.88 256.26,156.18 257.13,156.48 258,156.77 258.87,157.07 259.74,157.36 260.61,157.65 261.48,157.95 262.35,158.24 263.21,158.53 264.08,158.82 264.95,159.1 265.82,159.39 266.69,159.68 267.56,159.96 268.43,160.25 269.3,160.53 270.17,160.82 271.04,161.1 271.91,161.38 272.78,161.66 273.65,161.94 274.52,162.22 275.39,162.5 276.26,162.78 277.12,163.05 277.99,163.33 278.86,163.6 279.73,163.88 280.6,164.15 281.47,164.43 282.34,164.7 283.21,164.97 284.08,165.24 284.95,165.51 285.82,165.78 286.69,166.05 287.56,166.32 288.43,166.59 289.3,166.85 290.16,167.12 291.03,167.39 291.9,167.65 292.77,167.92 293.64,168.18 294.51,168.44 295.38,168.71 296.25,168.97 297.12,169.23 297.99,169.49 298.86,169.75 299.73,170.01 300.6,170.27 301.47,170.53 302.34,170.78 303.2,171.04 304.07,171.3 304.94,171.55 305.81,171.81 306.68,172.06 307.55,172.32 308.42,172.57 309.29,172.82 310.16,173.08 311.03,173.33 311.9,173.58 312.77,173.83 313.64,174.08 314.51,174.33 315.38,174.58 316.25,174.83 317.11,175.08 317.98,175.32 318.85,175.57 319.72,175.82 320.59,176.06 321.46,176.31 322.33,176.55 323.2,176.8" fill="none" stroke="#3cd7e6" stroke-width="1.1" stroke-linejoin="round" />
<polyline points="63.27,20.1 64.13,20.28 65,20.75 65.87,21.48 66.74,22.41 67.61,23.51 68.48,24.74 69.35,26.07 70.22,27.46 71.09,28.91 71.96,30.39 72.83,31.9 73.7,33.42 74.57,34.95 75.44,36.48 76.31,38 77.17,39.52 78.04,41.02 78.91,42.51 79.78,43.99 80.65,45.45 81.52,46.89 82.39,48.31 83.26,49.72 84.13,51.11 85,52.47 85.87,53.82 86.74,55.15 87.61,56.46 88.48,57.75 89.35,59.03 90.21,60.28 91.08,61.52 91.95,62.74 92.82,63.94 93.69,65.13 94.56,66.3 95.43,67.45 96.3,68.58 97.17,69.71 98.04,70.81 98.91,71.9 99.78,72.98 100.65,74.04 101.52,75.09 102.39,76.12 103.25,77.14 104.12,78.15 104.99,79.15 105.86,80.13 106.73,81.1 107.6,82.06 108.47,83.01 109.34,83.95 110.21,84.87 111.08,85.79 111.95,86.69 112.82,87.58 113.69,88.47 114.56,89.34 115.43,90.21 116.3,91.06 117.16,91.91 118.03,92.74 118.9,93.57 119.77,94.39 120.64,95.2 121.51,96 122.38,96.8 123.25,97.58 124.12,98.36 124.99,99.13 125.86,99.89 126.73,100.65 127.6,101.4 128.47,102.14 129.34,102.87 130.2,103.6 131.07,104.32 131.94,105.04 132.81,105.75 133.68,106.45 134.55,107.14 135.42,107.83 136.29,108.52 137.16,109.2 138.03,109.87 138.9,110.54 139.77,111.2 140.64,111.85 141.51,112.5 142.38,113.15 143.25,113.79 144.11,114.42 144.98,115.05 145.85,115.68 146.72,116.3 147.59,116.92 148.46,117.53 149.33,118.13 150.2,118.74 151.07,119.33 151.94,119.93 152.81,120.52 153.68,121.1 154.55,121.68 155.42,122.26 156.29,122.83 157.15,123.4 158.02,123.97 158.89,124.53 159.76,125.08 160.63,125.64 161.5,126.19 162.37,126.73 163.24,127.28 164.11,127.82 164.98,128.35 165.85,128.89 166.72,129.42 167.59,129.94 168.46,130.46 169.33,130.98 170.19,131.5 171.06,132.01 171.93,132.52 172.8,133.03 173.67,133.54 174.54,134.04 175.41,134.54 176.28,135.03 177.15,135.53 178.02,136.02 178.89,136.5 179.76,136.99 180.63,137.47 181.5,137.95 182.37,138.43 183.24,138.9 184.1,139.37 184.97,139.84 185.84,140.31 186.71,140.78 187.58,141.24 188.45,141.7 189.32,142.16 190.19,142.61 191.06,143.06 191.93,143.51 192.8,143.96 193.67,144.41 194.54,144.85 195.41,145.3 196.28,145.74 197.14,146.17 198.01,146.61 198.88,147.04 199.75,147.48 200.62,147.91 201.49,148.33 202.36,148.76 203.23,149.19 204.1,149.61 204.97,150.03 205.84,150.45 206.71,150.86 207.58,151.28 208.45,151.69 209.32,152.1 210.18,152.51 211.05,152.92 211.92,153.33 212.79,153.73 213.66,154.14 214.53,154.54 215.4,154.94 216.27,155.34 217.14,155.73 218.01,156.13 218.88,156.52 219.75,156.91 220.62,157.31 221.49,157.69 222.36,158.08 223.23,158.47 224.09,158.85 224.96,159.24 225.83,159.62 226.7,160 227.57,160.38 228.44,160.76 229.31,161.13 230.18,161.51 231.05,161.88 231.92,162.25 232.79,162.63 233.66,163 234.53,163.36 235.4,163.73 236.27,164.1 237.13,164.46 238,164.83 238.87,165.19 239.74,165.55 240.61,165.91 241.48,166.27 242.35,166.63 243.22,166.99 244.09,167.34 244.96,167.7 245.83,168.05 246.7,168.4 247.57,168.75 248.44,169.1 249.31,169.45 250.17,169.8 251.04,170.15 251.91,170.5 252.78,170.84 253.65,171.18 254.52,171.53 255.39,171.87 256.26,172.21 257.13,172.55 258,172.89 258.87,173.23 259.74,173.57 260.61,173.9 261.48,174.24 262.35,174.57 263.21,174.91 264.08,175.24 264.95,175.57 265.82,175.9 266.69,176.23 267.56,176.56 268.43,176.89 269.3,177.22 270.17,177.55 271.04,177.87 271.91,178.2 272.78,178.52 273.65,178.85 274.52,179.17 275.39,179.49 276.26,179.81 277.12,180.13 277.99,180.45 278.86,180.77 279.73,181.09 280.6,181.41 281.47,181.72 282.34,182.04 283.21,182.36 284.08,182.67 284.95,182.98 285.82,183.3 286.69,183.61 287.56,183.92 288.43,184.23 289.3,184.54 290.16,184.85 291.03,185.16 291.9,185.47 292.77,185.78 293.64,186.09 294.51,186.39 295.38,186.7 296.25,187 297.12,187.31 297.99,187.61 298.86,187.92 299.73,188.22 300.6,188.52 301.47,188.82 302.34,189.12 303.2,189.43 304.07,189.73 304.94,190.02 305.81,190.32 306.68,190.62 307.55,190.92 308.42,191.22 309.29,191.51 310.16,191.81 311.03,192.11 311.9,192.4 312.77,192.7 313.64,192.99 314.51,193.28 315.38,193.58 316.25,193.87 317.11,194.16 317.98,194.45 318.85,194.74 319.72,195.03 320.59,195.32 321.46,195.61 322.33,195.9 323.2,196.19" fill="none" stroke="#3c3cb4" stroke-width="1.1" stroke-linejoin="round" />
<polyline points="63.27,20.1 64.13,20.43 65,21.29 65.87,22.55 66.74,24.11 67.61,25.88 68.48,27.78 69.35,29.78 70.22,31.82 71.09,33.89 71.96,35.96 72.83,38.03 73.7,40.08 74.57,42.1 75.44,44.1 76.31,46.07 77.17,48 78.04,49.89 78.91,51.75 79.78,53.58 80.65,55.37 81.52,57.12 82.39,58.84 83.26,60.53 84.13,62.18 85,63.8 85.87,65.38 86.74,66.94 87.61,68.47 88.48,69.96 89.35,71.43 90.21,72.87 91.08,74.29 91.95,75.68 92.82,77.05 93.69,78.39 94.56,79.71 95.43,81 96.3,82.28 97.17,83.53 98.04,84.76 98.91,85.97 99.78,87.17 100.65,88.34 101.52,89.5 102.39,90.64 103.25,91.76 104.12,92.87 104.99,93.96 105.86,95.03 106.73,96.09 107.6,97.13 108.47,98.16 109.34,99.18 110.21,100.18 111.08,101.17 111.95,102.14 112.82,103.11 113.69,104.06 114.56,105 115.43,105.92 116.3,106.84 117.16,107.75 118.03,108.64 118.9,109.52 119.77,110.4 120.64,111.26 121.51,112.11 122.38,112.96 123.25,113.79 124.12,114.62 124.99,115.44 125.86,116.24 126.73,117.04 127.6,117.84 128.47,118.62 129.34,119.39 130.2,120.16 131.07,120.92 131.94,121.67 132.81,122.42 133.68,123.16 134.55,123.89 135.42,124.61 136.29,125.33 137.16,126.04 138.03,126.75 138.9,127.44 139.77,128.13 140.64,128.82 141.51,129.5 142.38,130.17 143.25,130.84 144.11,131.5 144.98,132.16 145.85,132.81 146.72,133.46 147.59,134.1 148.46,134.74 149.33,135.37 150.2,135.99 151.07,136.61 151.94,137.23 152.81,137.84 153.68,138.45 154.55,139.05 155.42,139.65 156.29,140.24 157.15,140.83 158.02,141.41 158.89,142 159.76,142.57 160.63,143.14 161.5,143.71 162.37,144.28 163.24,144.84 164.11,145.4 164.98,145.95 165.85,146.5 166.72,147.04 167.59,147.59 168.46,148.13 169.33,148.66 170.19,149.19 171.06,149.72 171.93,150.25 172.8,150.77 173.67,151.29 174.54,151.8 175.41,152.32 176.28,152.83 177.15,153.33 178.02,153.84 178.89,154.34 179.76,154.84 180.63,155.33 181.5,155.82 182.37,156.31 183.24,156.8 184.1,157.28 184.97,157.76 185.84,158.24 186.71,158.72 187.58,159.19 188.45,159.67 189.32,160.13 190.19,160.6 191.06,161.06 191.93,161.53 192.8,161.99 193.67,162.44 194.54,162.9 195.41,163.35 196.28,163.8 197.14,164.25 198.01,164.69 198.88,165.14 199.75,165.58 200.62,166.02 201.49,166.46 202.36,166.89 203.23,167.32 204.1,167.76 204.97,168.18 205.84,168.61 206.71,169.04 207.58,169.46 208.45,169.88 209.32,170.3 210.18,170.72 211.05,171.14 211.92,171.55 212.79,171.97 213.66,172.38 214.53,172.79 215.4,173.19 216.27,173.6 217.14,174.01 218.01,174.41 218.88,174.81 219.75,175.21 220.62,175.61 221.49,176 222.36,176.4 223.23,176.79 224.09,177.18 224.96,177.58 225.83,177.96 226.7,178.35 227.57,178.74 228.44,179.12 229.31,179.51 230.18,179.89 231.05,180.27 231.92,180.65 232.79,181.03 233.66,181.4 234.53,181.78 235.4,182.15 236.27,182.52 237.13,182.9 238,183.27 238.87,183.64 239.74,184 240.61,184.37 241.48,184.73 242.35,185.1 243.22,185.46 244.09,185.82 244.96,186.18 245.83,186.54 246.7,186.9 247.57,187.26 248.44,187.62 249.31,187.97 250.17,188.32 251.04,188.68 251.91,189.03 252.78,189.38 253.65,189.73 254.52,190.08 255.39,190.43 256.26,190.77 257.13,191.12 258,191.46 258.87,191.81 259.74,192.15 260.61,192.49 261.48,192.83 262.35,193.17 263.21,193.51 264.08,193.85 264.95,194.19 265.82,194.53 266.69,194.86 267.56,195.2 268.43,195.53 269.3,195.86 270.17,196.19 271.04,196.53 271.91,196.86 272.78,197.19 273.65,197.51 274.52,197.84 275.39,198.17 276.26,198.5 277.12,198.82 277.99,199.15 278.86,199.47 279.73,199.79 280.6,200.12 281.47,200.44 282.34,200.76 283.21,201.08 284.08,201.4 284.95,201.72 285.82,202.04 286.69,202.35 287.56,202.67 288.43,202.99 289.3,203.3 290.16,203.62 291.03,203.93 291.9,204.25 292.77,204.56 293.64,204.87 294.51,205.18 295.38,205.49 296.25,205.8 297.12,206.11 297.99,206.42 298.86,206.73 299.73,207.04 300.6,207.34 301.47,207.65 302.34,207.96 303.2,208.26 304.07,208.57 304.94,208.87 305.81,209.18 306.68,209.48 307.55,209.78 308.42,210.08 309.29,210.38 310.16,210.69 311.03,210.99 311.9,211.29 312.77,211.59 313.64,211.88 314.51,212.18 315.38,212.48 316.25,212.78 317.11,213.07 317.98,213.37 318.85,213.67 319.72,213.96 320.59,214.26 321.46,214.55 322.33,214.84 323.2,215.14" fill="none" stroke="#8c3ce6" stroke-width="1.1" stroke-linejoin="round" />
</g>
<rect x="63.2" y="17" width="260" height="203" fill="none" stroke="#000" stroke-width="2"/>
<line x1="63.2" y1="220" x2="63.2" y2="215.8" stroke="#000" stroke-width="1.6" />
<line x1="63.2" y1="17" x2="63.2" y2="21.2" stroke="#000" stroke-width="1.6" />
<line x1="76.2" y1="220" x2="76.2" y2="215.8" stroke="#000" stroke-width="1.6" />
<line x1="76.2" y1="17" x2="76.2" y2="21.2" stroke="#000" stroke-width="1.6" />
<line x1="89.2" y1="220" x2="89.2" y2="215.8" stroke="#000" stroke-width="1.6" />
<line x1="89.2" y1="17" x2="89.2" y2="21.2" stroke="#000" stroke-width="1.6" />
<line x1="102.2" y1="220" x2="102.2" y2="215.8" stroke="#000" stroke-width="1.6" />
<line x1="102.2" y1="17" x2="102.2" y2="21.2" stroke="#000" stroke-width="1.6" />
<line x1="115.2" y1="220" x2="115.2" y2="215.8" stroke="#000" stroke-width="1.6" />
<line x1="115.2" y1="17" x2="115.2" y2="21.2" stroke="#000" stroke-width="1.6" />
<line x1="128.2" y1="220" x2="128.2" y2="215.8" stroke="#000" stroke-width="1.6" />
<line x1="128.2" y1="17" x2="128.2" y2="21.2" stroke="#000" stroke-width="1.6" />
<line x1="141.2" y1="220" x2="141.2" y2="215.8" stroke="#000" stroke-width="1.6" />
<line x1="141.2" y1="17" x2="141.2" y2="21.2" stroke="#000" stroke-width="1.6" />
<line x1="154.2" y1="220" x2="154.2" y2="215.8" stroke="#000" stroke-width="1.6" />
<line x1="154.2" y1="17" x2="154.2" y2="21.2" stroke="#000" stroke-width="1.6" />
<line x1="167.2" y1="220" x2="167.2" y2="215.8" stroke="#000" stroke-width="1.6" />
<line x1="167.2" y1="17" x2="167.2" y2="21.2" stroke="#000" stroke-width="1.6" />
<line x1="180.2" y1="220" x2="180.2" y2="215.8" stroke="#000" stroke-width="1.6" />
<line x1="180.2" y1="17" x2="180.2" y2="21.2" stroke="#000" stroke-width="1.6" />
<line x1="193.2" y1="220" x2="193.2" y2="215.8" stroke="#000" stroke-width="1.6" />
<line x1="193.2" y1="17" x2="193.2" y2="21.2" stroke="#000" stroke-width="1.6" />
<line x1="206.2" y1="220" x2="206.2" y2="215.8" stroke="#000" stroke-width="1.6" />
<line x1="206.2" y1="17" x2="206.2" y2="21.2" stroke="#000" stroke-width="1.6" />
<line x1="219.2" y1="220" x2="219.2" y2="215.8" stroke="#000" stroke-width="1.6" />
<line x1="219.2" y1="17" x2="219.2" y2="21.2" stroke="#000" stroke-width="1.6" />
<line x1="232.2" y1="220" x2="232.2" y2="215.8" stroke="#000" stroke-width="1.6" />
<line x1="232.2" y1="17" x2="232.2" y2="21.2" stroke="#000" stroke-width="1.6" />
<line x1="245.2" y1="220" x2="245.2" y2="215.8" stroke="#000" stroke-width="1.6" />
<line x1="245.2" y1="17" x2="245.2" y2="21.2" stroke="#000" stroke-width="1.6" />
<line x1="258.2" y1="220" x2="258.2" y2="215.8" stroke="#000" stroke-width="1.6" />
<line x1="258.2" y1="17" x2="258.2" y2="21.2" stroke="#000" stroke-width="1.6" />
<line x1="271.2" y1="220" x2="271.2" y2="215.8" stroke="#000" stroke-width="1.6" />
<line x1="271.2" y1="17" x2="271.2" y2="21.2" stroke="#000" stroke-width="1.6" />
<line x1="284.2" y1="220" x2="284.2" y2="215.8" stroke="#000" stroke-width="1.6" />
<line x1="284.2" y1="17" x2="284.2" y2="21.2" stroke="#000" stroke-width="1.6" />
<line x1="297.2" y1="220" x2="297.2" y2="215.8" stroke="#000" stroke-width="1.6" />
<line x1="297.2" y1="17" x2="297.2" y2="21.2" stroke="#000" stroke-width="1.6" />
<line x1="310.2" y1="220" x2="310.2" y2="215.8" stroke="#000" stroke-width="1.6" />
<line x1="310.2" y1="17" x2="310.2" y2="21.2" stroke="#000" stroke-width="1.6" />
<line x1="323.2" y1="220" x2="323.2" y2="215.8" stroke="#000" stroke-width="1.6" />
<line x1="323.2" y1="17" x2="323.2" y2="21.2" stroke="#000" stroke-width="1.6" />
<line x1="63.2" y1="220" x2="63.2" y2="212.2" stroke="#000" stroke-width="1.6" />
<line x1="63.2" y1="17" x2="63.2" y2="24.8" stroke="#000" stroke-width="1.6" />
<line x1="128.2" y1="220" x2="128.2" y2="212.2" stroke="#000" stroke-width="1.6" />
<line x1="128.2" y1="17" x2="128.2" y2="24.8" stroke="#000" stroke-width="1.6" />
<line x1="193.2" y1="220" x2="193.2" y2="212.2" stroke="#000" stroke-width="1.6" />
<line x1="193.2" y1="17" x2="193.2" y2="24.8" stroke="#000" stroke-width="1.6" />
<line x1="258.2" y1="220" x2="258.2" y2="212.2" stroke="#000" stroke-width="1.6" />
<line x1="258.2" y1="17" x2="258.2" y2="24.8" stroke="#000" stroke-width="1.6" />
<line x1="323.2" y1="220" x2="323.2" y2="212.2" stroke="#000" stroke-width="1.6" />
<line x1="323.2" y1="17" x2="323.2" y2="24.8" stroke="#000" stroke-width="1.6" />
<line x1="63.2" y1="219.9" x2="67.4" y2="219.9" stroke="#000" stroke-width="1.6" />
<line x1="323.2" y1="219.9" x2="319" y2="219.9" stroke="#000" stroke-width="1.6" />
<line x1="63.2" y1="208.8" x2="67.4" y2="208.8" stroke="#000" stroke-width="1.6" />
<line x1="323.2" y1="208.8" x2="319" y2="208.8" stroke="#000" stroke-width="1.6" />
<line x1="63.2" y1="197.7" x2="67.4" y2="197.7" stroke="#000" stroke-width="1.6" />
<line x1="323.2" y1="197.7" x2="319" y2="197.7" stroke="#000" stroke-width="1.6" />
<line x1="63.2" y1="186.6" x2="67.4" y2="186.6" stroke="#000" stroke-width="1.6" />
<line x1="323.2" y1="186.6" x2="319" y2="186.6" stroke="#000" stroke-width="1.6" />
<line x1="63.2" y1="175.5" x2="67.4" y2="175.5" stroke="#000" stroke-width="1.6" />
<line x1="323.2" y1="175.5" x2="319" y2="175.5" stroke="#000" stroke-width="1.6" />
<line x1="63.2" y1="164.4" x2="67.4" y2="164.4" stroke="#000" stroke-width="1.6" />
<line x1="323.2" y1="164.4" x2="319" y2="164.4" stroke="#000" stroke-width="1.6" />
<line x1="63.2" y1="153.3" x2="67.4" y2="153.3" stroke="#000" stroke-width="1.6" />
<line x1="323.2" y1="153.3" x2="319" y2="153.3" stroke="#000" stroke-width="1.6" />
<line x1="63.2" y1="142.2" x2="67.4" y2="142.2" stroke="#000" stroke-width="1.6" />
<line x1="323.2" y1="142.2" x2="319" y2="142.2" stroke="#000" stroke-width="1.6" />
<line x1="63.2" y1="131.1" x2="67.4" y2="131.1" stroke="#000" stroke-width="1.6" />
<line x1="323.2" y1="131.1" x2="319" y2="131.1" stroke="#000" stroke-width="1.6" />
<line x1="63.2" y1="120" x2="67.4" y2="120" stroke="#000" stroke-width="1.6" />
<line x1="323.2" y1="120" x2="319" y2="120" stroke="#000" stroke-width="1.6" />
<line x1="63.2" y1="108.9" x2="67.4" y2="108.9" stroke="#000" stroke-width="1.6" />
<line x1="323.2" y1="108.9" x2="319" y2="108.9" stroke="#000" stroke-width="1.6" />
<line x1="63.2" y1="97.8" x2="67.4" y2="97.8" stroke="#000" stroke-width="1.6" />
<line x1="323.2" y1="97.8" x2="319" y2="97.8" stroke="#000" stroke-width="1.6" />
<line x1="63.2" y1="86.7" x2="67.4" y2="86.7" stroke="#000" stroke-width="1.6" />
<line x1="323.2" y1="86.7" x2="319" y2="86.7" stroke="#000" stroke-width="1.6" />
<line x1="63.2" y1="75.6" x2="67.4" y2="75.6" stroke="#000" stroke-width="1.6" />
<line x1="323.2" y1="75.6" x2="319" y2="75.6" stroke="#000" stroke-width="1.6" />
<line x1="63.2" y1="64.5" x2="67.4" y2="64.5" stroke="#000" stroke-width="1.6" />
<line x1="323.2" y1="64.5" x2="319" y2="64.5" stroke="#000" stroke-width="1.6" />
<line x1="63.2" y1="53.4" x2="67.4" y2="53.4" stroke="#000" stroke-width="1.6" />
<line x1="323.2" y1="53.4" x2="319" y2="53.4" stroke="#000" stroke-width="1.6" />
<line x1="63.2" y1="42.3" x2="67.4" y2="42.3" stroke="#000" stroke-width="1.6" />
<line x1="323.2" y1="42.3" x2="319" y2="42.3" stroke="#000" stroke-width="1.6" />
<line x1="63.2" y1="31.2" x2="67.4" y2="31.2" stroke="#000" stroke-width="1.6" />
<line x1="323.2" y1="31.2" x2="319" y2="31.2" stroke="#000" stroke-width="1.6" />
<line x1="63.2" y1="20.1" x2="67.4" y2="20.1" stroke="#000" stroke-width="1.6" />
<line x1="323.2" y1="20.1" x2="319" y2="20.1" stroke="#000" stroke-width="1.6" />
<line x1="63.2" y1="197.7" x2="71" y2="197.7" stroke="#000" stroke-width="1.6" />
<line x1="323.2" y1="197.7" x2="315.4" y2="197.7" stroke="#000" stroke-width="1.6" />
<line x1="63.2" y1="153.3" x2="71" y2="153.3" stroke="#000" stroke-width="1.6" />
<line x1="323.2" y1="153.3" x2="315.4" y2="153.3" stroke="#000" stroke-width="1.6" />
<line x1="63.2" y1="108.9" x2="71" y2="108.9" stroke="#000" stroke-width="1.6" />
<line x1="323.2" y1="108.9" x2="315.4" y2="108.9" stroke="#000" stroke-width="1.6" />
<line x1="63.2" y1="64.5" x2="71" y2="64.5" stroke="#000" stroke-width="1.6" />
<line x1="323.2" y1="64.5" x2="315.4" y2="64.5" stroke="#000" stroke-width="1.6" />
<line x1="63.2" y1="20.1" x2="71" y2="20.1" stroke="#000" stroke-width="1.6" />
<line x1="323.2" y1="20.1" x2="315.4" y2="20.1" stroke="#000" stroke-width="1.6" />
<text transform="translate(58,26.6) scale(1,1.07)" font-family="'Liberation Serif', serif" font-size="17" font-weight="bold" text-anchor="end" fill="#000" >0.0</text>
<text transform="translate(58,71) scale(1,1.07)" font-family="'Liberation Serif', serif" font-size="17" font-weight="bold" text-anchor="end" fill="#000" >-0.2</text>
<text transform="translate(58,115.4) scale(1,1.07)" font-family="'Liberation Serif', serif" font-size="17" font-weight="bold" text-anchor="end" fill="#000" >-0.4</text>
<text transform="translate(58,159.8) scale(1,1.07)" font-family="'Liberation Serif', serif" font-size="17" font-weight="bold" text-anchor="end" fill="#000" >-0.6</text>
<text transform="translate(58,204.2) scale(1,1.07)" font-family="'Liberation Serif', serif" font-size="17" font-weight="bold" text-anchor="end" fill="#000" >-0.8</text>
<text transform="translate(63.2,241.6) scale(1,1.07)" font-family="'Liberation Serif', serif" font-size="16.5" font-weight="bold" text-anchor="middle" fill="#000" >0.0</text>
<text transform="translate(128.2,241.6) scale(1,1.07)" font-family="'Liberation Serif', serif" font-size="16.5" font-weight="bold" text-anchor="middle" fill="#000" >0.5</text>
<text transform="translate(193.2,241.6) scale(1,1.07)" font-family="'Liberation Serif', serif" font-size="16.5" font-weight="bold" text-anchor="middle" fill="#000" >1.0</text>
<text transform="translate(258.2,241.6) scale(1,1.07)" font-family="'Liberation Serif', serif" font-size="16.5" font-weight="bold" text-anchor="middle" fill="#000" >1.5</text>
<text transform="translate(323.2,241.6) scale(1,1.07)" font-family="'Liberation Serif', serif" font-size="16.5" font-weight="bold" text-anchor="middle" fill="#000" >2.0</text>
<text transform="translate(192.6,262) scale(1,1.07)" font-family="'Liberation Serif', serif" font-size="17" font-weight="bold" text-anchor="middle" fill="#000" >B (T)</text>
<text transform="translate(20.8,116.8) rotate(-90) scale(1.07,1)" font-family="'Liberation Serif', serif" font-size="17" font-weight="bold" text-anchor="middle"><tspan font-weight="normal">&#916;</tspan>G<tspan font-size="10" dy="3" font-weight="normal">&#9633;</tspan><tspan dy="-3"> (e</tspan><tspan font-size="11.5" dy="-10" dx="1.5">2</tspan><tspan dy="10" dx="1">/h)</tspan></text>
<text transform="translate(144,40.2) scale(1,1.07)" font-family="'Liberation Serif', serif" font-size="15" font-weight="normal" text-anchor="start" fill="#000" >T = 1.4 K</text>
<line x1="206" y1="38.7" x2="225" y2="38.7" stroke="#f03c3c" stroke-width="1.2" />
<text transform="translate(229.5,42.1) scale(1,1.07)" font-family="'Liberation Serif', serif" font-size="10.8">V<tspan font-size="8" dy="2.5" dx="-0.8">g</tspan><tspan dy="-2.5">=-60V</tspan></text>
<line x1="274" y1="38.7" x2="284.5" y2="38.7" stroke="#e8141e" stroke-width="3.2" />
<text transform="translate(297.5,42.3) scale(1,1.07)" font-family="'Liberation Serif', serif" font-size="10.8" font-weight="normal" text-anchor="start" fill="#000" >Fit</text>
<line x1="206" y1="52" x2="225" y2="52" stroke="#f59b3c" stroke-width="1.2" />
<text transform="translate(229.5,55.4) scale(1,1.07)" font-family="'Liberation Serif', serif" font-size="10.8">V<tspan font-size="8" dy="2.5" dx="-0.8">g</tspan><tspan dy="-2.5">=-10V</tspan></text>
<line x1="274" y1="52" x2="284.5" y2="52" stroke="#f5961e" stroke-width="3.2" />
<text transform="translate(297.5,55.6) scale(1,1.07)" font-family="'Liberation Serif', serif" font-size="10.8" font-weight="normal" text-anchor="start" fill="#000" >Fit</text>
<line x1="206" y1="65.3" x2="225" y2="65.3" stroke="#d2eb3c" stroke-width="1.2" />
<text transform="translate(229.5,68.7) scale(1,1.07)" font-family="'Liberation Serif', serif" font-size="10.8">V<tspan font-size="8" dy="2.5" dx="-0.8">g</tspan><tspan dy="-2.5">=15V</tspan></text>
<line x1="274" y1="65.3" x2="284.5" y2="65.3" stroke="#96e646" stroke-width="3.2" />
<text transform="translate(297.5,68.9) scale(1,1.07)" font-family="'Liberation Serif', serif" font-size="10.8" font-weight="normal" text-anchor="start" fill="#000" >Fit</text>
<line x1="206" y1="78.6" x2="225" y2="78.6" stroke="#3cd7e6" stroke-width="1.2" />
<text transform="translate(229.5,82) scale(1,1.07)" font-family="'Liberation Serif', serif" font-size="10.8">V<tspan font-size="8" dy="2.5" dx="-0.8">g</tspan><tspan dy="-2.5">=36V</tspan></text>
<line x1="274" y1="78.6" x2="284.5" y2="78.6" stroke="#3ce6c8" stroke-width="3.2" />
<text transform="translate(297.5,82.2) scale(1,1.07)" font-family="'Liberation Serif', serif" font-size="10.8" font-weight="normal" text-anchor="start" fill="#000" >Fit</text>
<line x1="206" y1="91.9" x2="225" y2="91.9" stroke="#3c3cb4" stroke-width="1.2" />
<text transform="translate(229.5,95.3) scale(1,1.07)" font-family="'Liberation Serif', serif" font-size="10.8">V<tspan font-size="8" dy="2.5" dx="-0.8">g</tspan><tspan dy="-2.5">=44V</tspan></text>
<line x1="274" y1="91.9" x2="284.5" y2="91.9" stroke="#0a14e6" stroke-width="3.2" />
<text transform="translate(297.5,95.5) scale(1,1.07)" font-family="'Liberation Serif', serif" font-size="10.8" font-weight="normal" text-anchor="start" fill="#000" >Fit</text>
<line x1="206" y1="105.2" x2="225" y2="105.2" stroke="#8c3ce6" stroke-width="1.2" />
<text transform="translate(229.5,108.6) scale(1,1.07)" font-family="'Liberation Serif', serif" font-size="10.8">V<tspan font-size="8" dy="2.5" dx="-0.8">g</tspan><tspan dy="-2.5">=60V</tspan></text>
<line x1="274" y1="105.2" x2="284.5" y2="105.2" stroke="#7814e6" stroke-width="3.2" />
<text transform="translate(297.5,108.8) scale(1,1.07)" font-family="'Liberation Serif', serif" font-size="10.8" font-weight="normal" text-anchor="start" fill="#000" >Fit</text>
<polyline points="400.9,168.09 488.65,170.45 532.52,141.04 553.59,132.37 562.36,93.77 569.38,62.26 577.28,35.21 583.42,30.75 611.5,36.79" fill="none" stroke="#dc2828" stroke-width="1.8" stroke-dasharray="3.9,3.6" stroke-linejoin="round" />
<polyline points="400.9,179.9 488.65,190.93 532.52,174.91 553.59,138.94 562.36,115.83 569.38,83.79 577.28,55.43 583.42,45.19 593.95,43.88 611.5,65.93" fill="none" stroke="#f0dc28" stroke-width="1.8" stroke-dasharray="3.9,3.6" stroke-linejoin="round" />
<polyline points="400.9,190.93 488.65,195.92 532.52,174.39 553.59,132.63 562.36,99.02 569.38,66.72 576.4,43.88 586.05,39.15 611.5,65.93" fill="none" stroke="#3cd23c" stroke-width="1.8" stroke-dasharray="3.9,3.6" stroke-linejoin="round" />
<polyline points="400.9,206.43 488.65,206.43 532.52,171.76 572.89,59.89 579.91,38.36 586.93,31.53 595.7,36 602.73,33.11 629.05,72.24" fill="none" stroke="#1e1ee6" stroke-width="1.8" stroke-dasharray="3.9,3.6" stroke-linejoin="round" />
<polygon points="396.15,172.19 405.65,172.19 400.9,163.99" fill="#f01414" stroke="#f01414" stroke-width="1" stroke-linejoin="round"/>
<polygon points="483.9,174.55 493.4,174.55 488.65,166.35" fill="#f01414" stroke="#f01414" stroke-width="1" stroke-linejoin="round"/>
<polygon points="527.77,145.14 537.27,145.14 532.52,136.94" fill="#f01414" stroke="#f01414" stroke-width="1" stroke-linejoin="round"/>
<polygon points="548.84,136.47 558.34,136.47 553.59,128.27" fill="#f01414" stroke="#f01414" stroke-width="1" stroke-linejoin="round"/>
<polygon points="557.61,97.87 567.11,97.87 562.36,89.67" fill="#f01414" stroke="#f01414" stroke-width="1" stroke-linejoin="round"/>
<polygon points="564.63,66.36 574.13,66.36 569.38,58.16" fill="#f01414" stroke="#f01414" stroke-width="1" stroke-linejoin="round"/>
<polygon points="572.53,39.31 582.03,39.31 577.28,31.11" fill="#f01414" stroke="#f01414" stroke-width="1" stroke-linejoin="round"/>
<polygon points="578.67,34.85 588.17,34.85 583.42,26.65" fill="#f01414" stroke="#f01414" stroke-width="1" stroke-linejoin="round"/>
<polygon points="606.75,40.89 616.25,40.89 611.5,32.69" fill="#f01414" stroke="#f01414" stroke-width="1" stroke-linejoin="round"/>
<polygon points="396.15,184 405.65,184 400.9,175.8" fill="#ffe614" stroke="#ffe614" stroke-width="1" stroke-linejoin="round"/>
<polygon points="483.9,195.03 493.4,195.03 488.65,186.83" fill="#ffe614" stroke="#ffe614" stroke-width="1" stroke-linejoin="round"/>
<polygon points="527.77,179.01 537.27,179.01 532.52,170.81" fill="#ffe614" stroke="#ffe614" stroke-width="1" stroke-linejoin="round"/>
<polygon points="548.84,143.04 558.34,143.04 553.59,134.84" fill="#ffe614" stroke="#ffe614" stroke-width="1" stroke-linejoin="round"/>
<polygon points="557.61,119.93 567.11,119.93 562.36,111.73" fill="#ffe614" stroke="#ffe614" stroke-width="1" stroke-linejoin="round"/>
<polygon points="564.63,87.89 574.13,87.89 569.38,79.69" fill="#ffe614" stroke="#ffe614" stroke-width="1" stroke-linejoin="round"/>
<polygon points="572.53,59.53 582.03,59.53 577.28,51.33" fill="#ffe614" stroke="#ffe614" stroke-width="1" stroke-linejoin="round"/>
<polygon points="578.67,49.29 588.17,49.29 583.42,41.09" fill="#ffe614" stroke="#ffe614" stroke-width="1" stroke-linejoin="round"/>
<polygon points="589.2,47.98 598.7,47.98 593.95,39.78" fill="#ffe614" stroke="#ffe614" stroke-width="1" stroke-linejoin="round"/>
<polygon points="606.75,70.03 616.25,70.03 611.5,61.83" fill="#ffe614" stroke="#ffe614" stroke-width="1" stroke-linejoin="round"/>
<polygon points="396.15,195.03 405.65,195.03 400.9,186.83" fill="#3ce63c" stroke="#3ce63c" stroke-width="1" stroke-linejoin="round"/>
<polygon points="483.9,200.02 493.4,200.02 488.65,191.82" fill="#3ce63c" stroke="#3ce63c" stroke-width="1" stroke-linejoin="round"/>
<polygon points="527.77,178.49 537.27,178.49 532.52,170.29" fill="#3ce63c" stroke="#3ce63c" stroke-width="1" stroke-linejoin="round"/>
<polygon points="548.84,136.73 558.34,136.73 553.59,128.53" fill="#3ce63c" stroke="#3ce63c" stroke-width="1" stroke-linejoin="round"/>
<polygon points="557.61,103.12 567.11,103.12 562.36,94.92" fill="#3ce63c" stroke="#3ce63c" stroke-width="1" stroke-linejoin="round"/>
<polygon points="564.63,70.82 574.13,70.82 569.38,62.62" fill="#3ce63c" stroke="#3ce63c" stroke-width="1" stroke-linejoin="round"/>
<polygon points="571.65,47.98 581.15,47.98 576.4,39.78" fill="#3ce63c" stroke="#3ce63c" stroke-width="1" stroke-linejoin="round"/>
<polygon points="581.3,43.25 590.8,43.25 586.05,35.05" fill="#3ce63c" stroke="#3ce63c" stroke-width="1" stroke-linejoin="round"/>
<polygon points="606.75,70.03 616.25,70.03 611.5,61.83" fill="#3ce63c" stroke="#3ce63c" stroke-width="1" stroke-linejoin="round"/>
<polygon points="396.15,210.53 405.65,210.53 400.9,202.33" fill="#1414f0" stroke="#1414f0" stroke-width="1" stroke-linejoin="round"/>
<polygon points="483.9,210.53 493.4,210.53 488.65,202.33" fill="#1414f0" stroke="#1414f0" stroke-width="1" stroke-linejoin="round"/>
<polygon points="527.77,175.86 537.27,175.86 532.52,167.66" fill="#1414f0" stroke="#1414f0" stroke-width="1" stroke-linejoin="round"/>
<polygon points="568.14,63.99 577.64,63.99 572.89,55.79" fill="#1414f0" stroke="#1414f0" stroke-width="1" stroke-linejoin="round"/>
<polygon points="575.16,42.46 584.66,42.46 579.91,34.26" fill="#1414f0" stroke="#1414f0" stroke-width="1" stroke-linejoin="round"/>
<polygon points="582.18,35.63 591.68,35.63 586.93,27.43" fill="#1414f0" stroke="#1414f0" stroke-width="1" stroke-linejoin="round"/>
<polygon points="590.95,40.1 600.45,40.1 595.7,31.9" fill="#1414f0" stroke="#1414f0" stroke-width="1" stroke-linejoin="round"/>
<polygon points="597.98,37.21 607.48,37.21 602.73,29.01" fill="#1414f0" stroke="#1414f0" stroke-width="1" stroke-linejoin="round"/>
<polygon points="624.3,76.34 633.8,76.34 629.05,68.14" fill="#1414f0" stroke="#1414f0" stroke-width="1" stroke-linejoin="round"/>
<line x1="488.65" y1="18" x2="488.65" y2="221.6" stroke="#000" stroke-width="2.5" stroke-dasharray="8,6.7"/>
<line x1="585.17" y1="18" x2="585.17" y2="221.6" stroke="#000" stroke-width="2.5" stroke-dasharray="8,6.7" stroke-dashoffset="2.5"/>
<rect x="387.6" y="17" width="254.8" height="205.6" fill="none" stroke="#000" stroke-width="2"/>
<line x1="392.12" y1="222.6" x2="392.12" y2="218.4" stroke="#000" stroke-width="1.6" />
<line x1="392.12" y1="17" x2="392.12" y2="21.2" stroke="#000" stroke-width="1.6" />
<line x1="400.9" y1="222.6" x2="400.9" y2="218.4" stroke="#000" stroke-width="1.6" />
<line x1="400.9" y1="17" x2="400.9" y2="21.2" stroke="#000" stroke-width="1.6" />
<line x1="409.68" y1="222.6" x2="409.68" y2="218.4" stroke="#000" stroke-width="1.6" />
<line x1="409.68" y1="17" x2="409.68" y2="21.2" stroke="#000" stroke-width="1.6" />
<line x1="418.45" y1="222.6" x2="418.45" y2="218.4" stroke="#000" stroke-width="1.6" />
<line x1="418.45" y1="17" x2="418.45" y2="21.2" stroke="#000" stroke-width="1.6" />
<line x1="427.23" y1="222.6" x2="427.23" y2="218.4" stroke="#000" stroke-width="1.6" />
<line x1="427.23" y1="17" x2="427.23" y2="21.2" stroke="#000" stroke-width="1.6" />
<line x1="436" y1="222.6" x2="436" y2="218.4" stroke="#000" stroke-width="1.6" />
<line x1="436" y1="17" x2="436" y2="21.2" stroke="#000" stroke-width="1.6" />
<line x1="444.77" y1="222.6" x2="444.77" y2="218.4" stroke="#000" stroke-width="1.6" />
<line x1="444.77" y1="17" x2="444.77" y2="21.2" stroke="#000" stroke-width="1.6" />
<line x1="453.55" y1="222.6" x2="453.55" y2="218.4" stroke="#000" stroke-width="1.6" />
<line x1="453.55" y1="17" x2="453.55" y2="21.2" stroke="#000" stroke-width="1.6" />
<line x1="462.32" y1="222.6" x2="462.32" y2="218.4" stroke="#000" stroke-width="1.6" />
<line x1="462.32" y1="17" x2="462.32" y2="21.2" stroke="#000" stroke-width="1.6" />
<line x1="471.1" y1="222.6" x2="471.1" y2="218.4" stroke="#000" stroke-width="1.6" />
<line x1="471.1" y1="17" x2="471.1" y2="21.2" stroke="#000" stroke-width="1.6" />
<line x1="479.88" y1="222.6" x2="479.88" y2="218.4" stroke="#000" stroke-width="1.6" />
<line x1="479.88" y1="17" x2="479.88" y2="21.2" stroke="#000" stroke-width="1.6" />
<line x1="488.65" y1="222.6" x2="488.65" y2="218.4" stroke="#000" stroke-width="1.6" />
<line x1="488.65" y1="17" x2="488.65" y2="21.2" stroke="#000" stroke-width="1.6" />
<line x1="497.43" y1="222.6" x2="497.43" y2="218.4" stroke="#000" stroke-width="1.6" />
<line x1="497.43" y1="17" x2="497.43" y2="21.2" stroke="#000" stroke-width="1.6" />
<line x1="506.2" y1="222.6" x2="506.2" y2="218.4" stroke="#000" stroke-width="1.6" />
<line x1="506.2" y1="17" x2="506.2" y2="21.2" stroke="#000" stroke-width="1.6" />
<line x1="514.98" y1="222.6" x2="514.98" y2="218.4" stroke="#000" stroke-width="1.6" />
<line x1="514.98" y1="17" x2="514.98" y2="21.2" stroke="#000" stroke-width="1.6" />
<line x1="523.75" y1="222.6" x2="523.75" y2="218.4" stroke="#000" stroke-width="1.6" />
<line x1="523.75" y1="17" x2="523.75" y2="21.2" stroke="#000" stroke-width="1.6" />
<line x1="532.52" y1="222.6" x2="532.52" y2="218.4" stroke="#000" stroke-width="1.6" />
<line x1="532.52" y1="17" x2="532.52" y2="21.2" stroke="#000" stroke-width="1.6" />
<line x1="541.3" y1="222.6" x2="541.3" y2="218.4" stroke="#000" stroke-width="1.6" />
<line x1="541.3" y1="17" x2="541.3" y2="21.2" stroke="#000" stroke-width="1.6" />
<line x1="550.08" y1="222.6" x2="550.08" y2="218.4" stroke="#000" stroke-width="1.6" />
<line x1="550.08" y1="17" x2="550.08" y2="21.2" stroke="#000" stroke-width="1.6" />
<line x1="558.85" y1="222.6" x2="558.85" y2="218.4" stroke="#000" stroke-width="1.6" />
<line x1="558.85" y1="17" x2="558.85" y2="21.2" stroke="#000" stroke-width="1.6" />
<line x1="567.62" y1="222.6" x2="567.62" y2="218.4" stroke="#000" stroke-width="1.6" />
<line x1="567.62" y1="17" x2="567.62" y2="21.2" stroke="#000" stroke-width="1.6" />
<line x1="576.4" y1="222.6" x2="576.4" y2="218.4" stroke="#000" stroke-width="1.6" />
<line x1="576.4" y1="17" x2="576.4" y2="21.2" stroke="#000" stroke-width="1.6" />
<line x1="585.17" y1="222.6" x2="585.17" y2="218.4" stroke="#000" stroke-width="1.6" />
<line x1="585.17" y1="17" x2="585.17" y2="21.2" stroke="#000" stroke-width="1.6" />
<line x1="593.95" y1="222.6" x2="593.95" y2="218.4" stroke="#000" stroke-width="1.6" />
<line x1="593.95" y1="17" x2="593.95" y2="21.2" stroke="#000" stroke-width="1.6" />
<line x1="602.73" y1="222.6" x2="602.73" y2="218.4" stroke="#000" stroke-width="1.6" />
<line x1="602.73" y1="17" x2="602.73" y2="21.2" stroke="#000" stroke-width="1.6" />
<line x1="611.5" y1="222.6" x2="611.5" y2="218.4" stroke="#000" stroke-width="1.6" />
<line x1="611.5" y1="17" x2="611.5" y2="21.2" stroke="#000" stroke-width="1.6" />
<line x1="620.27" y1="222.6" x2="620.27" y2="218.4" stroke="#000" stroke-width="1.6" />
<line x1="620.27" y1="17" x2="620.27" y2="21.2" stroke="#000" stroke-width="1.6" />
<line x1="629.05" y1="222.6" x2="629.05" y2="218.4" stroke="#000" stroke-width="1.6" />
<line x1="629.05" y1="17" x2="629.05" y2="21.2" stroke="#000" stroke-width="1.6" />
<line x1="637.83" y1="222.6" x2="637.83" y2="218.4" stroke="#000" stroke-width="1.6" />
<line x1="637.83" y1="17" x2="637.83" y2="21.2" stroke="#000" stroke-width="1.6" />
<line x1="436" y1="222.6" x2="436" y2="215.4" stroke="#000" stroke-width="1.6" />
<line x1="436" y1="17" x2="436" y2="24.2" stroke="#000" stroke-width="1.6" />
<line x1="506.2" y1="222.6" x2="506.2" y2="215.4" stroke="#000" stroke-width="1.6" />
<line x1="506.2" y1="17" x2="506.2" y2="24.2" stroke="#000" stroke-width="1.6" />
<line x1="576.4" y1="222.6" x2="576.4" y2="215.4" stroke="#000" stroke-width="1.6" />
<line x1="576.4" y1="17" x2="576.4" y2="24.2" stroke="#000" stroke-width="1.6" />
<line x1="387.6" y1="221.66" x2="391.6" y2="221.66" stroke="#000" stroke-width="1.6" />
<line x1="642.4" y1="221.66" x2="638.4" y2="221.66" stroke="#000" stroke-width="1.6" />
<line x1="387.6" y1="216.4" x2="391.6" y2="216.4" stroke="#000" stroke-width="1.6" />
<line x1="642.4" y1="216.4" x2="638.4" y2="216.4" stroke="#000" stroke-width="1.6" />
<line x1="387.6" y1="211.15" x2="391.6" y2="211.15" stroke="#000" stroke-width="1.6" />
<line x1="642.4" y1="211.15" x2="638.4" y2="211.15" stroke="#000" stroke-width="1.6" />
<line x1="387.6" y1="205.9" x2="391.6" y2="205.9" stroke="#000" stroke-width="1.6" />
<line x1="642.4" y1="205.9" x2="638.4" y2="205.9" stroke="#000" stroke-width="1.6" />
<line x1="387.6" y1="200.65" x2="391.6" y2="200.65" stroke="#000" stroke-width="1.6" />
<line x1="642.4" y1="200.65" x2="638.4" y2="200.65" stroke="#000" stroke-width="1.6" />
<line x1="387.6" y1="195.4" x2="391.6" y2="195.4" stroke="#000" stroke-width="1.6" />
<line x1="642.4" y1="195.4" x2="638.4" y2="195.4" stroke="#000" stroke-width="1.6" />
<line x1="387.6" y1="190.14" x2="391.6" y2="190.14" stroke="#000" stroke-width="1.6" />
<line x1="642.4" y1="190.14" x2="638.4" y2="190.14" stroke="#000" stroke-width="1.6" />
<line x1="387.6" y1="184.89" x2="391.6" y2="184.89" stroke="#000" stroke-width="1.6" />
<line x1="642.4" y1="184.89" x2="638.4" y2="184.89" stroke="#000" stroke-width="1.6" />
<line x1="387.6" y1="179.64" x2="391.6" y2="179.64" stroke="#000" stroke-width="1.6" />
<line x1="642.4" y1="179.64" x2="638.4" y2="179.64" stroke="#000" stroke-width="1.6" />
<line x1="387.6" y1="174.39" x2="391.6" y2="174.39" stroke="#000" stroke-width="1.6" />
<line x1="642.4" y1="174.39" x2="638.4" y2="174.39" stroke="#000" stroke-width="1.6" />
<line x1="387.6" y1="169.14" x2="391.6" y2="169.14" stroke="#000" stroke-width="1.6" />
<line x1="642.4" y1="169.14" x2="638.4" y2="169.14" stroke="#000" stroke-width="1.6" />
<line x1="387.6" y1="163.88" x2="391.6" y2="163.88" stroke="#000" stroke-width="1.6" />
<line x1="642.4" y1="163.88" x2="638.4" y2="163.88" stroke="#000" stroke-width="1.6" />
<line x1="387.6" y1="158.63" x2="391.6" y2="158.63" stroke="#000" stroke-width="1.6" />
<line x1="642.4" y1="158.63" x2="638.4" y2="158.63" stroke="#000" stroke-width="1.6" />
<line x1="387.6" y1="153.38" x2="391.6" y2="153.38" stroke="#000" stroke-width="1.6" />
<line x1="642.4" y1="153.38" x2="638.4" y2="153.38" stroke="#000" stroke-width="1.6" />
<line x1="387.6" y1="148.13" x2="391.6" y2="148.13" stroke="#000" stroke-width="1.6" />
<line x1="642.4" y1="148.13" x2="638.4" y2="148.13" stroke="#000" stroke-width="1.6" />
<line x1="387.6" y1="142.88" x2="391.6" y2="142.88" stroke="#000" stroke-width="1.6" />
<line x1="642.4" y1="142.88" x2="638.4" y2="142.88" stroke="#000" stroke-width="1.6" />
<line x1="387.6" y1="137.62" x2="391.6" y2="137.62" stroke="#000" stroke-width="1.6" />
<line x1="642.4" y1="137.62" x2="638.4" y2="137.62" stroke="#000" stroke-width="1.6" />
<line x1="387.6" y1="132.37" x2="391.6" y2="132.37" stroke="#000" stroke-width="1.6" />
<line x1="642.4" y1="132.37" x2="638.4" y2="132.37" stroke="#000" stroke-width="1.6" />
<line x1="387.6" y1="127.12" x2="391.6" y2="127.12" stroke="#000" stroke-width="1.6" />
<line x1="642.4" y1="127.12" x2="638.4" y2="127.12" stroke="#000" stroke-width="1.6" />
<line x1="387.6" y1="121.87" x2="391.6" y2="121.87" stroke="#000" stroke-width="1.6" />
<line x1="642.4" y1="121.87" x2="638.4" y2="121.87" stroke="#000" stroke-width="1.6" />
<line x1="387.6" y1="116.62" x2="391.6" y2="116.62" stroke="#000" stroke-width="1.6" />
<line x1="642.4" y1="116.62" x2="638.4" y2="116.62" stroke="#000" stroke-width="1.6" />
<line x1="387.6" y1="111.36" x2="391.6" y2="111.36" stroke="#000" stroke-width="1.6" />
<line x1="642.4" y1="111.36" x2="638.4" y2="111.36" stroke="#000" stroke-width="1.6" />
<line x1="387.6" y1="106.11" x2="391.6" y2="106.11" stroke="#000" stroke-width="1.6" />
<line x1="642.4" y1="106.11" x2="638.4" y2="106.11" stroke="#000" stroke-width="1.6" />
<line x1="387.6" y1="100.86" x2="391.6" y2="100.86" stroke="#000" stroke-width="1.6" />
<line x1="642.4" y1="100.86" x2="638.4" y2="100.86" stroke="#000" stroke-width="1.6" />
<line x1="387.6" y1="95.61" x2="391.6" y2="95.61" stroke="#000" stroke-width="1.6" />
<line x1="642.4" y1="95.61" x2="638.4" y2="95.61" stroke="#000" stroke-width="1.6" />
<line x1="387.6" y1="90.36" x2="391.6" y2="90.36" stroke="#000" stroke-width="1.6" />
<line x1="642.4" y1="90.36" x2="638.4" y2="90.36" stroke="#000" stroke-width="1.6" />
<line x1="387.6" y1="85.1" x2="391.6" y2="85.1" stroke="#000" stroke-width="1.6" />
<line x1="642.4" y1="85.1" x2="638.4" y2="85.1" stroke="#000" stroke-width="1.6" />
<line x1="387.6" y1="79.85" x2="391.6" y2="79.85" stroke="#000" stroke-width="1.6" />
<line x1="642.4" y1="79.85" x2="638.4" y2="79.85" stroke="#000" stroke-width="1.6" />
<line x1="387.6" y1="74.6" x2="391.6" y2="74.6" stroke="#000" stroke-width="1.6" />
<line x1="642.4" y1="74.6" x2="638.4" y2="74.6" stroke="#000" stroke-width="1.6" />
<line x1="387.6" y1="69.35" x2="391.6" y2="69.35" stroke="#000" stroke-width="1.6" />
<line x1="642.4" y1="69.35" x2="638.4" y2="69.35" stroke="#000" stroke-width="1.6" />
<line x1="387.6" y1="64.1" x2="391.6" y2="64.1" stroke="#000" stroke-width="1.6" />
<line x1="642.4" y1="64.1" x2="638.4" y2="64.1" stroke="#000" stroke-width="1.6" />
<line x1="387.6" y1="58.84" x2="391.6" y2="58.84" stroke="#000" stroke-width="1.6" />
<line x1="642.4" y1="58.84" x2="638.4" y2="58.84" stroke="#000" stroke-width="1.6" />
<line x1="387.6" y1="53.59" x2="391.6" y2="53.59" stroke="#000" stroke-width="1.6" />
<line x1="642.4" y1="53.59" x2="638.4" y2="53.59" stroke="#000" stroke-width="1.6" />
<line x1="387.6" y1="48.34" x2="391.6" y2="48.34" stroke="#000" stroke-width="1.6" />
<line x1="642.4" y1="48.34" x2="638.4" y2="48.34" stroke="#000" stroke-width="1.6" />
<line x1="387.6" y1="43.09" x2="391.6" y2="43.09" stroke="#000" stroke-width="1.6" />
<line x1="642.4" y1="43.09" x2="638.4" y2="43.09" stroke="#000" stroke-width="1.6" />
<line x1="387.6" y1="37.84" x2="391.6" y2="37.84" stroke="#000" stroke-width="1.6" />
<line x1="642.4" y1="37.84" x2="638.4" y2="37.84" stroke="#000" stroke-width="1.6" />
<line x1="387.6" y1="32.58" x2="391.6" y2="32.58" stroke="#000" stroke-width="1.6" />
<line x1="642.4" y1="32.58" x2="638.4" y2="32.58" stroke="#000" stroke-width="1.6" />
<line x1="387.6" y1="27.33" x2="391.6" y2="27.33" stroke="#000" stroke-width="1.6" />
<line x1="642.4" y1="27.33" x2="638.4" y2="27.33" stroke="#000" stroke-width="1.6" />
<line x1="387.6" y1="22.08" x2="391.6" y2="22.08" stroke="#000" stroke-width="1.6" />
<line x1="642.4" y1="22.08" x2="638.4" y2="22.08" stroke="#000" stroke-width="1.6" />
<line x1="387.6" y1="205.9" x2="394.8" y2="205.9" stroke="#000" stroke-width="1.6" />
<line x1="387.6" y1="153.38" x2="394.8" y2="153.38" stroke="#000" stroke-width="1.6" />
<line x1="387.6" y1="100.86" x2="394.8" y2="100.86" stroke="#000" stroke-width="1.6" />
<line x1="387.6" y1="48.34" x2="394.8" y2="48.34" stroke="#000" stroke-width="1.6" />
<line x1="642.4" y1="205.9" x2="635.2" y2="205.9" stroke="#000" stroke-width="1.6" />
<line x1="642.4" y1="179.64" x2="635.2" y2="179.64" stroke="#000" stroke-width="1.6" />
<line x1="642.4" y1="153.38" x2="635.2" y2="153.38" stroke="#000" stroke-width="1.6" />
<line x1="642.4" y1="127.12" x2="635.2" y2="127.12" stroke="#000" stroke-width="1.6" />
<line x1="642.4" y1="100.86" x2="635.2" y2="100.86" stroke="#000" stroke-width="1.6" />
<line x1="642.4" y1="74.6" x2="635.2" y2="74.6" stroke="#000" stroke-width="1.6" />
<line x1="642.4" y1="48.34" x2="635.2" y2="48.34" stroke="#000" stroke-width="1.6" />
<line x1="642.4" y1="22.08" x2="635.2" y2="22.08" stroke="#000" stroke-width="1.6" />
<text transform="translate(383.3,211.1) scale(1,1.07)" font-family="'Liberation Serif', serif" font-size="15.5" font-weight="bold" text-anchor="end" fill="#000" >0.4</text>
<text transform="translate(383.3,158.58) scale(1,1.07)" font-family="'Liberation Serif', serif" font-size="15.5" font-weight="bold" text-anchor="end" fill="#000" >0.6</text>
<text transform="translate(383.3,106.06) scale(1,1.07)" font-family="'Liberation Serif', serif" font-size="15.5" font-weight="bold" text-anchor="end" fill="#000" >0.8</text>
<text transform="translate(383.3,53.54) scale(1,1.07)" font-family="'Liberation Serif', serif" font-size="15.5" font-weight="bold" text-anchor="end" fill="#000" >1.0</text>
<text transform="translate(647.3,211.1) scale(1,1.07)" font-family="'Liberation Serif', serif" font-size="15.5" font-weight="bold" text-anchor="start" fill="#000" >0.8</text>
<text transform="translate(647.3,184.84) scale(1,1.07)" font-family="'Liberation Serif', serif" font-size="15.5" font-weight="bold" text-anchor="start" fill="#000" >1.0</text>
<text transform="translate(647.3,158.58) scale(1,1.07)" font-family="'Liberation Serif', serif" font-size="15.5" font-weight="bold" text-anchor="start" fill="#000" >1.2</text>
<text transform="translate(647.3,132.32) scale(1,1.07)" font-family="'Liberation Serif', serif" font-size="15.5" font-weight="bold" text-anchor="start" fill="#000" >1.4</text>
<text transform="translate(647.3,106.06) scale(1,1.07)" font-family="'Liberation Serif', serif" font-size="15.5" font-weight="bold" text-anchor="start" fill="#000" >1.6</text>
<text transform="translate(647.3,79.8) scale(1,1.07)" font-family="'Liberation Serif', serif" font-size="15.5" font-weight="bold" text-anchor="start" fill="#000" >1.8</text>
<text transform="translate(647.3,53.54) scale(1,1.07)" font-family="'Liberation Serif', serif" font-size="15.5" font-weight="bold" text-anchor="start" fill="#000" >2.0</text>
<text transform="translate(647.3,27.28) scale(1,1.07)" font-family="'Liberation Serif', serif" font-size="15.5" font-weight="bold" text-anchor="start" fill="#000" >2.2</text>
<text transform="translate(436,242.5) scale(1,1.07)" font-family="'Liberation Serif', serif" font-size="15.5" font-weight="bold" text-anchor="middle" fill="#000" >-40</text>
<text transform="translate(506.2,242.5) scale(1,1.07)" font-family="'Liberation Serif', serif" font-size="15.5" font-weight="bold" text-anchor="middle" fill="#000" >0</text>
<text transform="translate(576.4,242.5) scale(1,1.07)" font-family="'Liberation Serif', serif" font-size="15.5" font-weight="bold" text-anchor="middle" fill="#000" >40</text>
<text transform="translate(515.2,258.7) scale(1,1.07)" font-family="'Liberation Serif', serif" font-size="15.5" font-weight="bold" text-anchor="middle">V<tspan font-size="10.5" dy="3.5">g</tspan><tspan dy="-3.5"> (V)</tspan></text>
<text transform="translate(358.5,119.2) rotate(-90) scale(1.07,1)" font-family="'Liberation Serif', serif" font-size="16" font-weight="normal" text-anchor="middle">|&#945;|</text>
<text transform="translate(674.3,119.5) rotate(90) scale(1.1,1)" font-family="'Liberation Serif', serif" font-size="15.5" font-weight="normal" text-anchor="middle">A=2|&#945;|</text>
<text transform="translate(454.1,114.8) scale(1,1.07)" font-family="'Liberation Serif', serif" font-size="15" font-weight="normal" text-anchor="middle" fill="#000" >I</text>
<text transform="translate(532.6,114.8) scale(1,1.07)" font-family="'Liberation Serif', serif" font-size="15" font-weight="normal" text-anchor="middle" fill="#000" >II</text>
<text transform="translate(625.6,114.8) scale(1,1.07)" font-family="'Liberation Serif', serif" font-size="15" font-weight="normal" text-anchor="middle" fill="#000" >III</text>
<line x1="399" y1="38.3" x2="418.5" y2="38.3" stroke="#dc2828" stroke-width="1.8" stroke-dasharray="4,3.6"/>
<polygon points="404.3,41.95 415.3,41.95 409.8,32.45" fill="#f01414" stroke="#f01414" stroke-width="1" stroke-linejoin="round"/>
<text transform="translate(425.5,42.4) scale(1,1.07)" font-family="'Liberation Serif', serif" font-size="12" font-weight="normal" text-anchor="start" fill="#000" >T=1.4K</text>
<line x1="399" y1="51.8" x2="418.5" y2="51.8" stroke="#f0dc28" stroke-width="1.8" stroke-dasharray="4,3.6"/>
<polygon points="404.3,55.45 415.3,55.45 409.8,45.95" fill="#ffe614" stroke="#ffe614" stroke-width="1" stroke-linejoin="round"/>
<text transform="translate(425.5,55.6) scale(1,1.07)" font-family="'Liberation Serif', serif" font-size="12" font-weight="normal" text-anchor="start" fill="#000" >2.8K</text>
<line x1="399" y1="65.3" x2="418.5" y2="65.3" stroke="#3cd23c" stroke-width="1.8" stroke-dasharray="4,3.6"/>
<polygon points="404.3,68.95 415.3,68.95 409.8,59.45" fill="#3ce63c" stroke="#3ce63c" stroke-width="1" stroke-linejoin="round"/>
<text transform="translate(425.5,68.8) scale(1,1.07)" font-family="'Liberation Serif', serif" font-size="12" font-weight="normal" text-anchor="start" fill="#000" >7K</text>
<line x1="399" y1="78.8" x2="418.5" y2="78.8" stroke="#1e1ee6" stroke-width="1.8" stroke-dasharray="4,3.6"/>
<polygon points="404.3,82.45 415.3,82.45 409.8,72.95" fill="#1414f0" stroke="#1414f0" stroke-width="1" stroke-linejoin="round"/>
<text transform="translate(425.5,82) scale(1,1.07)" font-family="'Liberation Serif', serif" font-size="12" font-weight="normal" text-anchor="start" fill="#000" >15K</text>
<polyline points="65.02,372.48 159.17,280.2 206.25,351.95 228.84,360.46 238.26,400.87 245.79,415.39 254.26,414.96 260.85,416.59 290.98,403.71" fill="none" stroke="#dc2828" stroke-width="1.8" stroke-dasharray="3.9,3.6" stroke-linejoin="round" />
<polyline points="65.02,388.09 159.17,336 206.25,374.55 228.84,407.97 238.26,419 245.79,426.64 254.26,429.92 260.85,429.92 272.15,431.77 290.98,416.59" fill="none" stroke="#f0dc28" stroke-width="1.8" stroke-dasharray="3.9,3.6" stroke-linejoin="round" />
<polyline points="65.02,420.96 159.17,408.84 206.25,427.08 228.84,439.96 238.26,445.75 245.79,449.24 254.83,449.24 263.86,448.59 290.98,437.56" fill="none" stroke="#3cd23c" stroke-width="1.8" stroke-dasharray="3.9,3.6" stroke-linejoin="round" />
<polyline points="65.02,453.18 159.17,450.55 206.25,456.56 247.67,462.57 257.09,462.13 265.18,461.04 273.28,458.64 281.56,457.98 309.81,452.3" fill="none" stroke="#1e1ee6" stroke-width="1.8" stroke-dasharray="3.9,3.6" stroke-linejoin="round" />
<polygon points="60.02,376.88 70.02,376.88 65.02,368.08" fill="#f01414" stroke="#f01414" stroke-width="1" stroke-linejoin="round"/>
<polygon points="154.17,284.6 164.17,284.6 159.17,275.8" fill="#f01414" stroke="#f01414" stroke-width="1" stroke-linejoin="round"/>
<polygon points="201.25,356.35 211.25,356.35 206.25,347.55" fill="#f01414" stroke="#f01414" stroke-width="1" stroke-linejoin="round"/>
<polygon points="223.84,364.86 233.84,364.86 228.84,356.06" fill="#f01414" stroke="#f01414" stroke-width="1" stroke-linejoin="round"/>
<polygon points="233.26,405.27 243.26,405.27 238.26,396.47" fill="#f01414" stroke="#f01414" stroke-width="1" stroke-linejoin="round"/>
<polygon points="240.79,419.79 250.79,419.79 245.79,410.99" fill="#f01414" stroke="#f01414" stroke-width="1" stroke-linejoin="round"/>
<polygon points="249.26,419.36 259.26,419.36 254.26,410.56" fill="#f01414" stroke="#f01414" stroke-width="1" stroke-linejoin="round"/>
<polygon points="255.85,420.99 265.85,420.99 260.85,412.19" fill="#f01414" stroke="#f01414" stroke-width="1" stroke-linejoin="round"/>
<polygon points="285.98,408.11 295.98,408.11 290.98,399.31" fill="#f01414" stroke="#f01414" stroke-width="1" stroke-linejoin="round"/>
<polygon points="60.02,392.49 70.02,392.49 65.02,383.69" fill="#ffe614" stroke="#ffe614" stroke-width="1" stroke-linejoin="round"/>
<polygon points="154.17,340.4 164.17,340.4 159.17,331.6" fill="#ffe614" stroke="#ffe614" stroke-width="1" stroke-linejoin="round"/>
<polygon points="201.25,378.95 211.25,378.95 206.25,370.15" fill="#ffe614" stroke="#ffe614" stroke-width="1" stroke-linejoin="round"/>
<polygon points="223.84,412.37 233.84,412.37 228.84,403.57" fill="#ffe614" stroke="#ffe614" stroke-width="1" stroke-linejoin="round"/>
<polygon points="233.26,423.4 243.26,423.4 238.26,414.6" fill="#ffe614" stroke="#ffe614" stroke-width="1" stroke-linejoin="round"/>
<polygon points="240.79,431.04 250.79,431.04 245.79,422.24" fill="#ffe614" stroke="#ffe614" stroke-width="1" stroke-linejoin="round"/>
<polygon points="249.26,434.32 259.26,434.32 254.26,425.52" fill="#ffe614" stroke="#ffe614" stroke-width="1" stroke-linejoin="round"/>
<polygon points="255.85,434.32 265.85,434.32 260.85,425.52" fill="#ffe614" stroke="#ffe614" stroke-width="1" stroke-linejoin="round"/>
<polygon points="267.15,436.17 277.15,436.17 272.15,427.37" fill="#ffe614" stroke="#ffe614" stroke-width="1" stroke-linejoin="round"/>
<polygon points="285.98,420.99 295.98,420.99 290.98,412.19" fill="#ffe614" stroke="#ffe614" stroke-width="1" stroke-linejoin="round"/>
<polygon points="60.02,425.36 70.02,425.36 65.02,416.56" fill="#3ce63c" stroke="#3ce63c" stroke-width="1" stroke-linejoin="round"/>
<polygon points="154.17,413.24 164.17,413.24 159.17,404.44" fill="#3ce63c" stroke="#3ce63c" stroke-width="1" stroke-linejoin="round"/>
<polygon points="201.25,431.48 211.25,431.48 206.25,422.68" fill="#3ce63c" stroke="#3ce63c" stroke-width="1" stroke-linejoin="round"/>
<polygon points="223.84,444.36 233.84,444.36 228.84,435.56" fill="#3ce63c" stroke="#3ce63c" stroke-width="1" stroke-linejoin="round"/>
<polygon points="233.26,450.15 243.26,450.15 238.26,441.35" fill="#3ce63c" stroke="#3ce63c" stroke-width="1" stroke-linejoin="round"/>
<polygon points="240.79,453.64 250.79,453.64 245.79,444.84" fill="#3ce63c" stroke="#3ce63c" stroke-width="1" stroke-linejoin="round"/>
<polygon points="249.83,453.64 259.83,453.64 254.83,444.84" fill="#3ce63c" stroke="#3ce63c" stroke-width="1" stroke-linejoin="round"/>
<polygon points="258.86,452.99 268.86,452.99 263.86,444.19" fill="#3ce63c" stroke="#3ce63c" stroke-width="1" stroke-linejoin="round"/>
<polygon points="285.98,441.96 295.98,441.96 290.98,433.16" fill="#3ce63c" stroke="#3ce63c" stroke-width="1" stroke-linejoin="round"/>
<polygon points="60.02,457.58 70.02,457.58 65.02,448.78" fill="#1414f0" stroke="#1414f0" stroke-width="1" stroke-linejoin="round"/>
<polygon points="154.17,454.95 164.17,454.95 159.17,446.15" fill="#1414f0" stroke="#1414f0" stroke-width="1" stroke-linejoin="round"/>
<polygon points="201.25,460.96 211.25,460.96 206.25,452.16" fill="#1414f0" stroke="#1414f0" stroke-width="1" stroke-linejoin="round"/>
<polygon points="242.67,466.97 252.67,466.97 247.67,458.17" fill="#1414f0" stroke="#1414f0" stroke-width="1" stroke-linejoin="round"/>
<polygon points="252.09,466.53 262.09,466.53 257.09,457.73" fill="#1414f0" stroke="#1414f0" stroke-width="1" stroke-linejoin="round"/>
<polygon points="260.18,465.44 270.18,465.44 265.18,456.64" fill="#1414f0" stroke="#1414f0" stroke-width="1" stroke-linejoin="round"/>
<polygon points="268.28,463.04 278.28,463.04 273.28,454.24" fill="#1414f0" stroke="#1414f0" stroke-width="1" stroke-linejoin="round"/>
<polygon points="276.56,462.38 286.56,462.38 281.56,453.58" fill="#1414f0" stroke="#1414f0" stroke-width="1" stroke-linejoin="round"/>
<polygon points="304.81,456.7 314.81,456.7 309.81,447.9" fill="#1414f0" stroke="#1414f0" stroke-width="1" stroke-linejoin="round"/>
<line x1="159.17" y1="269" x2="159.17" y2="473" stroke="#000" stroke-width="2.5" stroke-dasharray="8,6.7"/>
<line x1="262.74" y1="269" x2="262.74" y2="473" stroke="#000" stroke-width="2.5" stroke-dasharray="8,6.7"/>
<rect x="50" y="268" width="275" height="206" fill="none" stroke="#000" stroke-width="2"/>
<line x1="55.61" y1="474" x2="55.61" y2="469.5" stroke="#000" stroke-width="1.6" />
<line x1="55.61" y1="268" x2="55.61" y2="272.5" stroke="#000" stroke-width="1.6" />
<line x1="65.02" y1="474" x2="65.02" y2="469.5" stroke="#000" stroke-width="1.6" />
<line x1="65.02" y1="268" x2="65.02" y2="272.5" stroke="#000" stroke-width="1.6" />
<line x1="74.44" y1="474" x2="74.44" y2="469.5" stroke="#000" stroke-width="1.6" />
<line x1="74.44" y1="268" x2="74.44" y2="272.5" stroke="#000" stroke-width="1.6" />
<line x1="83.85" y1="474" x2="83.85" y2="469.5" stroke="#000" stroke-width="1.6" />
<line x1="83.85" y1="268" x2="83.85" y2="272.5" stroke="#000" stroke-width="1.6" />
<line x1="93.27" y1="474" x2="93.27" y2="469.5" stroke="#000" stroke-width="1.6" />
<line x1="93.27" y1="268" x2="93.27" y2="272.5" stroke="#000" stroke-width="1.6" />
<line x1="102.68" y1="474" x2="102.68" y2="469.5" stroke="#000" stroke-width="1.6" />
<line x1="102.68" y1="268" x2="102.68" y2="272.5" stroke="#000" stroke-width="1.6" />
<line x1="112.09" y1="474" x2="112.09" y2="469.5" stroke="#000" stroke-width="1.6" />
<line x1="112.09" y1="268" x2="112.09" y2="272.5" stroke="#000" stroke-width="1.6" />
<line x1="121.51" y1="474" x2="121.51" y2="469.5" stroke="#000" stroke-width="1.6" />
<line x1="121.51" y1="268" x2="121.51" y2="272.5" stroke="#000" stroke-width="1.6" />
<line x1="130.93" y1="474" x2="130.93" y2="469.5" stroke="#000" stroke-width="1.6" />
<line x1="130.93" y1="268" x2="130.93" y2="272.5" stroke="#000" stroke-width="1.6" />
<line x1="140.34" y1="474" x2="140.34" y2="469.5" stroke="#000" stroke-width="1.6" />
<line x1="140.34" y1="268" x2="140.34" y2="272.5" stroke="#000" stroke-width="1.6" />
<line x1="149.75" y1="474" x2="149.75" y2="469.5" stroke="#000" stroke-width="1.6" />
<line x1="149.75" y1="268" x2="149.75" y2="272.5" stroke="#000" stroke-width="1.6" />
<line x1="159.17" y1="474" x2="159.17" y2="469.5" stroke="#000" stroke-width="1.6" />
<line x1="159.17" y1="268" x2="159.17" y2="272.5" stroke="#000" stroke-width="1.6" />
<line x1="168.59" y1="474" x2="168.59" y2="469.5" stroke="#000" stroke-width="1.6" />
<line x1="168.59" y1="268" x2="168.59" y2="272.5" stroke="#000" stroke-width="1.6" />
<line x1="178" y1="474" x2="178" y2="469.5" stroke="#000" stroke-width="1.6" />
<line x1="178" y1="268" x2="178" y2="272.5" stroke="#000" stroke-width="1.6" />
<line x1="187.41" y1="474" x2="187.41" y2="469.5" stroke="#000" stroke-width="1.6" />
<line x1="187.41" y1="268" x2="187.41" y2="272.5" stroke="#000" stroke-width="1.6" />
<line x1="196.83" y1="474" x2="196.83" y2="469.5" stroke="#000" stroke-width="1.6" />
<line x1="196.83" y1="268" x2="196.83" y2="272.5" stroke="#000" stroke-width="1.6" />
<line x1="206.25" y1="474" x2="206.25" y2="469.5" stroke="#000" stroke-width="1.6" />
<line x1="206.25" y1="268" x2="206.25" y2="272.5" stroke="#000" stroke-width="1.6" />
<line x1="215.66" y1="474" x2="215.66" y2="469.5" stroke="#000" stroke-width="1.6" />
<line x1="215.66" y1="268" x2="215.66" y2="272.5" stroke="#000" stroke-width="1.6" />
<line x1="225.07" y1="474" x2="225.07" y2="469.5" stroke="#000" stroke-width="1.6" />
<line x1="225.07" y1="268" x2="225.07" y2="272.5" stroke="#000" stroke-width="1.6" />
<line x1="234.49" y1="474" x2="234.49" y2="469.5" stroke="#000" stroke-width="1.6" />
<line x1="234.49" y1="268" x2="234.49" y2="272.5" stroke="#000" stroke-width="1.6" />
<line x1="243.91" y1="474" x2="243.91" y2="469.5" stroke="#000" stroke-width="1.6" />
<line x1="243.91" y1="268" x2="243.91" y2="272.5" stroke="#000" stroke-width="1.6" />
<line x1="253.32" y1="474" x2="253.32" y2="469.5" stroke="#000" stroke-width="1.6" />
<line x1="253.32" y1="268" x2="253.32" y2="272.5" stroke="#000" stroke-width="1.6" />
<line x1="262.74" y1="474" x2="262.74" y2="469.5" stroke="#000" stroke-width="1.6" />
<line x1="262.74" y1="268" x2="262.74" y2="272.5" stroke="#000" stroke-width="1.6" />
<line x1="272.15" y1="474" x2="272.15" y2="469.5" stroke="#000" stroke-width="1.6" />
<line x1="272.15" y1="268" x2="272.15" y2="272.5" stroke="#000" stroke-width="1.6" />
<line x1="281.56" y1="474" x2="281.56" y2="469.5" stroke="#000" stroke-width="1.6" />
<line x1="281.56" y1="268" x2="281.56" y2="272.5" stroke="#000" stroke-width="1.6" />
<line x1="290.98" y1="474" x2="290.98" y2="469.5" stroke="#000" stroke-width="1.6" />
<line x1="290.98" y1="268" x2="290.98" y2="272.5" stroke="#000" stroke-width="1.6" />
<line x1="300.39" y1="474" x2="300.39" y2="469.5" stroke="#000" stroke-width="1.6" />
<line x1="300.39" y1="268" x2="300.39" y2="272.5" stroke="#000" stroke-width="1.6" />
<line x1="309.81" y1="474" x2="309.81" y2="469.5" stroke="#000" stroke-width="1.6" />
<line x1="309.81" y1="268" x2="309.81" y2="272.5" stroke="#000" stroke-width="1.6" />
<line x1="319.23" y1="474" x2="319.23" y2="469.5" stroke="#000" stroke-width="1.6" />
<line x1="319.23" y1="268" x2="319.23" y2="272.5" stroke="#000" stroke-width="1.6" />
<line x1="102.68" y1="474" x2="102.68" y2="466" stroke="#000" stroke-width="1.6" />
<line x1="102.68" y1="268" x2="102.68" y2="276" stroke="#000" stroke-width="1.6" />
<line x1="178" y1="474" x2="178" y2="466" stroke="#000" stroke-width="1.6" />
<line x1="178" y1="268" x2="178" y2="276" stroke="#000" stroke-width="1.6" />
<line x1="253.32" y1="474" x2="253.32" y2="466" stroke="#000" stroke-width="1.6" />
<line x1="253.32" y1="268" x2="253.32" y2="276" stroke="#000" stroke-width="1.6" />
<line x1="50" y1="463.44" x2="54.5" y2="463.44" stroke="#000" stroke-width="1.6" />
<line x1="325" y1="463.44" x2="320.5" y2="463.44" stroke="#000" stroke-width="1.6" />
<line x1="50" y1="452.52" x2="54.5" y2="452.52" stroke="#000" stroke-width="1.6" />
<line x1="325" y1="452.52" x2="320.5" y2="452.52" stroke="#000" stroke-width="1.6" />
<line x1="50" y1="441.6" x2="54.5" y2="441.6" stroke="#000" stroke-width="1.6" />
<line x1="325" y1="441.6" x2="320.5" y2="441.6" stroke="#000" stroke-width="1.6" />
<line x1="50" y1="430.68" x2="54.5" y2="430.68" stroke="#000" stroke-width="1.6" />
<line x1="325" y1="430.68" x2="320.5" y2="430.68" stroke="#000" stroke-width="1.6" />
<line x1="50" y1="419.76" x2="54.5" y2="419.76" stroke="#000" stroke-width="1.6" />
<line x1="325" y1="419.76" x2="320.5" y2="419.76" stroke="#000" stroke-width="1.6" />
<line x1="50" y1="408.84" x2="54.5" y2="408.84" stroke="#000" stroke-width="1.6" />
<line x1="325" y1="408.84" x2="320.5" y2="408.84" stroke="#000" stroke-width="1.6" />
<line x1="50" y1="397.92" x2="54.5" y2="397.92" stroke="#000" stroke-width="1.6" />
<line x1="325" y1="397.92" x2="320.5" y2="397.92" stroke="#000" stroke-width="1.6" />
<line x1="50" y1="387" x2="54.5" y2="387" stroke="#000" stroke-width="1.6" />
<line x1="325" y1="387" x2="320.5" y2="387" stroke="#000" stroke-width="1.6" />
<line x1="50" y1="376.08" x2="54.5" y2="376.08" stroke="#000" stroke-width="1.6" />
<line x1="325" y1="376.08" x2="320.5" y2="376.08" stroke="#000" stroke-width="1.6" />
<line x1="50" y1="365.16" x2="54.5" y2="365.16" stroke="#000" stroke-width="1.6" />
<line x1="325" y1="365.16" x2="320.5" y2="365.16" stroke="#000" stroke-width="1.6" />
<line x1="50" y1="354.24" x2="54.5" y2="354.24" stroke="#000" stroke-width="1.6" />
<line x1="325" y1="354.24" x2="320.5" y2="354.24" stroke="#000" stroke-width="1.6" />
<line x1="50" y1="343.32" x2="54.5" y2="343.32" stroke="#000" stroke-width="1.6" />
<line x1="325" y1="343.32" x2="320.5" y2="343.32" stroke="#000" stroke-width="1.6" />
<line x1="50" y1="332.4" x2="54.5" y2="332.4" stroke="#000" stroke-width="1.6" />
<line x1="325" y1="332.4" x2="320.5" y2="332.4" stroke="#000" stroke-width="1.6" />
<line x1="50" y1="321.48" x2="54.5" y2="321.48" stroke="#000" stroke-width="1.6" />
<line x1="325" y1="321.48" x2="320.5" y2="321.48" stroke="#000" stroke-width="1.6" />
<line x1="50" y1="310.56" x2="54.5" y2="310.56" stroke="#000" stroke-width="1.6" />
<line x1="325" y1="310.56" x2="320.5" y2="310.56" stroke="#000" stroke-width="1.6" />
<line x1="50" y1="299.64" x2="54.5" y2="299.64" stroke="#000" stroke-width="1.6" />
<line x1="325" y1="299.64" x2="320.5" y2="299.64" stroke="#000" stroke-width="1.6" />
<line x1="50" y1="288.72" x2="54.5" y2="288.72" stroke="#000" stroke-width="1.6" />
<line x1="325" y1="288.72" x2="320.5" y2="288.72" stroke="#000" stroke-width="1.6" />
<line x1="50" y1="277.8" x2="54.5" y2="277.8" stroke="#000" stroke-width="1.6" />
<line x1="325" y1="277.8" x2="320.5" y2="277.8" stroke="#000" stroke-width="1.6" />
<line x1="50" y1="441.6" x2="58.5" y2="441.6" stroke="#000" stroke-width="1.6" />
<line x1="325" y1="441.6" x2="316.5" y2="441.6" stroke="#000" stroke-width="1.6" />
<line x1="50" y1="387" x2="58.5" y2="387" stroke="#000" stroke-width="1.6" />
<line x1="325" y1="387" x2="316.5" y2="387" stroke="#000" stroke-width="1.6" />
<line x1="50" y1="332.4" x2="58.5" y2="332.4" stroke="#000" stroke-width="1.6" />
<line x1="325" y1="332.4" x2="316.5" y2="332.4" stroke="#000" stroke-width="1.6" />
<line x1="50" y1="277.8" x2="58.5" y2="277.8" stroke="#000" stroke-width="1.6" />
<line x1="325" y1="277.8" x2="316.5" y2="277.8" stroke="#000" stroke-width="1.6" />
<text transform="translate(45,447.2) scale(1,1.07)" font-family="'Liberation Serif', serif" font-size="16.5" font-weight="bold" text-anchor="end" fill="#000" >50</text>
<text transform="translate(45,392.6) scale(1,1.07)" font-family="'Liberation Serif', serif" font-size="16.5" font-weight="bold" text-anchor="end" fill="#000" >100</text>
<text transform="translate(45,338) scale(1,1.07)" font-family="'Liberation Serif', serif" font-size="16.5" font-weight="bold" text-anchor="end" fill="#000" >150</text>
<text transform="translate(45,283.4) scale(1,1.07)" font-family="'Liberation Serif', serif" font-size="16.5" font-weight="bold" text-anchor="end" fill="#000" >200</text>
<text transform="translate(102.68,494.8) scale(1,1.07)" font-family="'Liberation Serif', serif" font-size="16.5" font-weight="bold" text-anchor="middle" fill="#000" >-40</text>
<text transform="translate(178,494.8) scale(1,1.07)" font-family="'Liberation Serif', serif" font-size="16.5" font-weight="bold" text-anchor="middle" fill="#000" >0</text>
<text transform="translate(253.32,494.8) scale(1,1.07)" font-family="'Liberation Serif', serif" font-size="16.5" font-weight="bold" text-anchor="middle" fill="#000" >40</text>
<text transform="translate(187.2,515) scale(1,1.07)" font-family="'Liberation Serif', serif" font-size="16.5" font-weight="bold" text-anchor="middle">V<tspan font-size="11" dy="3.8">g</tspan><tspan dy="-3.8"> (V)</tspan></text>
<text transform="translate(14,370.2) rotate(-90) scale(1.07,1)" font-family="'Liberation Serif', serif" font-size="16.5" font-weight="bold" text-anchor="middle">L<tspan font-size="11" dy="4">&#966;</tspan><tspan dy="-4"> (nm)</tspan></text>
<text transform="translate(117.2,396.7) scale(1,1.07)" font-family="'Liberation Serif', serif" font-size="15" font-weight="normal" text-anchor="middle" fill="#000" >I</text>
<text transform="translate(195.4,396.7) scale(1,1.07)" font-family="'Liberation Serif', serif" font-size="15" font-weight="normal" text-anchor="middle" fill="#000" >II</text>
<text transform="translate(284,381.6) scale(1,1.07)" font-family="'Liberation Serif', serif" font-size="15" font-weight="normal" text-anchor="middle" fill="#000" >III</text>
<line x1="62" y1="280.8" x2="83.3" y2="280.8" stroke="#dc2828" stroke-width="1.8" stroke-dasharray="4.2,3.6"/>
<polygon points="68.4,285.5 80.4,285.5 74.4,274.5" fill="#f01414" stroke="#f01414" stroke-width="1" stroke-linejoin="round"/>
<text transform="translate(92,285.5) scale(1,1.07)" font-family="'Liberation Serif', serif" font-size="13" font-weight="normal" text-anchor="start" fill="#000" >T=1.4K</text>
<line x1="62" y1="296.1" x2="83.3" y2="296.1" stroke="#f0dc28" stroke-width="1.8" stroke-dasharray="4.2,3.6"/>
<polygon points="68.4,300.8 80.4,300.8 74.4,289.8" fill="#ffe614" stroke="#ffe614" stroke-width="1" stroke-linejoin="round"/>
<text transform="translate(92,300.1) scale(1,1.07)" font-family="'Liberation Serif', serif" font-size="13" font-weight="normal" text-anchor="start" fill="#000" >2.8K</text>
<line x1="62" y1="311.4" x2="83.3" y2="311.4" stroke="#3cd23c" stroke-width="1.8" stroke-dasharray="4.2,3.6"/>
<polygon points="68.4,316.1 80.4,316.1 74.4,305.1" fill="#3ce63c" stroke="#3ce63c" stroke-width="1" stroke-linejoin="round"/>
<text transform="translate(92,314.7) scale(1,1.07)" font-family="'Liberation Serif', serif" font-size="13" font-weight="normal" text-anchor="start" fill="#000" >7K</text>
<line x1="62" y1="326.7" x2="83.3" y2="326.7" stroke="#1e1ee6" stroke-width="1.8" stroke-dasharray="4.2,3.6"/>
<polygon points="68.4,331.4 80.4,331.4 74.4,320.4" fill="#1414f0" stroke="#1414f0" stroke-width="1" stroke-linejoin="round"/>
<text transform="translate(92,329.3) scale(1,1.07)" font-family="'Liberation Serif', serif" font-size="13" font-weight="normal" text-anchor="start" fill="#000" >15K</text>
<clipPath id="clipD"><rect x="387.5" y="272" width="272" height="208.5"/></clipPath>
<g clip-path="url(#clipD)">
<polyline points="392.75,288.54 395,297.81 397.26,306.1 399.52,313.56 401.77,320.33 404.03,326.5 406.29,332.15 408.54,337.36 410.8,342.17 413.06,346.64 415.31,350.8 417.57,354.68 419.83,358.32 422.09,361.74 424.34,364.95 426.6,367.99 428.86,370.86 431.11,373.58 433.37,376.16 435.63,378.61 437.88,380.95 440.14,383.18 442.4,385.31 444.65,387.34 446.91,389.29 449.17,391.15 451.42,392.95 453.68,394.67 455.94,396.32 458.2,397.91 460.45,399.45 462.71,400.93 464.97,402.35 467.22,403.73 469.48,405.06 471.74,406.35 473.99,407.6 476.25,408.81 478.51,409.98 480.76,411.11 483.02,412.21 485.28,413.28 487.54,414.32 489.79,415.33 492.05,416.31 494.31,417.27 496.56,418.2 498.82,419.1 501.08,419.99 503.33,420.85 505.59,421.68 507.85,422.5 510.1,423.3 512.36,424.08 514.62,424.84 516.87,425.58 519.13,426.31 521.39,427.02 523.65,427.71 525.9,428.39 528.16,429.05 530.42,429.7 532.67,430.34 534.93,430.96 537.19,431.57 539.44,432.17 541.7,432.76 543.96,433.33 546.21,433.9 548.47,434.45 550.73,434.99 552.99,435.52 555.24,436.05 557.5,436.56 559.76,437.06 562.01,437.56 564.27,438.04 566.53,438.52 568.78,438.99 571.04,439.45 573.3,439.9 575.55,440.35 577.81,440.79 580.07,441.22 582.32,441.64 584.58,442.06 586.84,442.47 589.1,442.88 591.35,443.27 593.61,443.67 595.87,444.05 598.12,444.43 600.38,444.81 602.64,445.18 604.89,445.54 607.15,445.9 609.41,446.25 611.66,446.6 613.92,446.94 616.18,447.28 618.44,447.61 620.69,447.94 622.95,448.27 625.21,448.59 627.46,448.9 629.72,449.21 631.98,449.52 634.23,449.82 636.49,450.12 638.75,450.42 641,450.71 643.26,451 645.52,451.28 647.77,451.57 650.03,451.84 652.29,452.12 654.55,452.39 656.8,452.66 659.06,452.92 661.32,453.18" fill="none" stroke="#1e1ee6" stroke-width="2.3" stroke-dasharray="8,6" stroke-linejoin="round" />
<polyline points="390.43,374.27 392.71,378.49 394.98,382.28 397.26,385.72 399.54,388.84 401.81,391.71 404.09,394.35 406.37,396.79 408.64,399.07 410.92,401.18 413.2,403.17 415.47,405.03 417.75,406.78 420.02,408.44 422.3,410 424.58,411.48 426.85,412.89 429.13,414.23 431.41,415.51 433.68,416.73 435.96,417.9 438.24,419.02 440.51,420.09 442.79,421.12 445.06,422.11 447.34,423.06 449.62,423.98 451.89,424.86 454.17,425.71 456.45,426.54 458.72,427.33 461,428.1 463.27,428.85 465.55,429.57 467.83,430.27 470.1,430.95 472.38,431.61 474.66,432.26 476.93,432.88 479.21,433.49 481.49,434.08 483.76,434.65 486.04,435.21 488.31,435.76 490.59,436.29 492.87,436.81 495.14,437.32 497.42,437.82 499.7,438.3 501.97,438.77 504.25,439.23 506.53,439.69 508.8,440.13 511.08,440.56 513.35,440.98 515.63,441.4 517.91,441.81 520.18,442.2 522.46,442.59 524.74,442.98 527.01,443.35 529.29,443.72 531.56,444.08 533.84,444.43 536.12,444.78 538.39,445.12 540.67,445.46 542.95,445.79 545.22,446.11 547.5,446.43 549.78,446.75 552.05,447.05 554.33,447.36 556.6,447.65 558.88,447.95 561.16,448.24 563.43,448.52 565.71,448.8 567.99,449.07 570.26,449.34 572.54,449.61 574.82,449.87 577.09,450.13 579.37,450.39 581.64,450.64 583.92,450.89 586.2,451.13 588.47,451.37 590.75,451.61 593.03,451.84 595.3,452.08 597.58,452.3 599.85,452.53 602.13,452.75 604.41,452.97 606.68,453.19 608.96,453.4 611.24,453.61 613.51,453.82 615.79,454.02 618.07,454.23 620.34,454.43 622.62,454.63 624.89,454.82 627.17,455.02 629.45,455.21 631.72,455.4 634,455.58 636.28,455.77 638.55,455.95 640.83,456.13 643.11,456.31 645.38,456.48 647.66,456.66 649.93,456.83 652.21,457 654.49,457.17 656.76,457.34 659.04,457.5 661.32,457.66" fill="none" stroke="#dc2828" stroke-width="2.3" stroke-dasharray="8,6" stroke-linejoin="round" />
<polyline points="390.43,410.81 392.71,413.61 394.98,416.13 397.26,418.42 399.54,420.51 401.81,422.44 404.09,424.21 406.37,425.86 408.64,427.39 410.92,428.82 413.2,430.17 415.47,431.43 417.75,432.62 420.02,433.75 422.3,434.81 424.58,435.83 426.85,436.79 429.13,437.71 431.41,438.59 433.68,439.42 435.96,440.23 438.24,441 440.51,441.73 442.79,442.44 445.06,443.13 447.34,443.79 449.62,444.42 451.89,445.03 454.17,445.62 456.45,446.2 458.72,446.75 461,447.29 463.27,447.81 465.55,448.31 467.83,448.8 470.1,449.27 472.38,449.74 474.66,450.18 476.93,450.62 479.21,451.05 481.49,451.46 483.76,451.86 486.04,452.26 488.31,452.64 490.59,453.02 492.87,453.38 495.14,453.74 497.42,454.09 499.7,454.43 501.97,454.76 504.25,455.09 506.53,455.41 508.8,455.72 511.08,456.03 513.35,456.33 515.63,456.62 517.91,456.91 520.18,457.19 522.46,457.47 524.74,457.74 527.01,458 529.29,458.27 531.56,458.52 533.84,458.77 536.12,459.02 538.39,459.27 540.67,459.5 542.95,459.74 545.22,459.97 547.5,460.2 549.78,460.42 552.05,460.64 554.33,460.86 556.6,461.07 558.88,461.28 561.16,461.49 563.43,461.69 565.71,461.89 567.99,462.09 570.26,462.28 572.54,462.47 574.82,462.66 577.09,462.85 579.37,463.03 581.64,463.21 583.92,463.39 586.2,463.56 588.47,463.74 590.75,463.91 593.03,464.08 595.3,464.24 597.58,464.41 599.85,464.57 602.13,464.73 604.41,464.89 606.68,465.04 608.96,465.2 611.24,465.35 613.51,465.5 615.79,465.65 618.07,465.79 620.34,465.94 622.62,466.08 624.89,466.22 627.17,466.36 629.45,466.5 631.72,466.64 634,466.77 636.28,466.91 638.55,467.04 640.83,467.17 643.11,467.3 645.38,467.43 647.66,467.55 649.93,467.68 652.21,467.8 654.49,467.93 656.76,468.05 659.04,468.17 661.32,468.29" fill="none" stroke="#f01ed2" stroke-width="2.3" stroke-dasharray="8,6" stroke-linejoin="round" />
<polyline points="390.43,427.41 392.71,429.8 394.98,431.95 397.26,433.9 399.54,435.68 401.81,437.32 404.09,438.83 406.37,440.23 408.64,441.53 410.92,442.75 413.2,443.89 415.47,444.97 417.75,445.98 420.02,446.94 422.3,447.84 424.58,448.7 426.85,449.52 429.13,450.3 431.41,451.04 433.68,451.76 435.96,452.44 438.24,453.09 440.51,453.72 442.79,454.32 445.06,454.9 447.34,455.45 449.62,455.99 451.89,456.51 454.17,457.01 456.45,457.5 458.72,457.97 461,458.42 463.27,458.86 465.55,459.29 467.83,459.7 470.1,460.1 472.38,460.49 474.66,460.87 476.93,461.24 479.21,461.6 481.49,461.95 483.76,462.29 486.04,462.63 488.31,462.95 490.59,463.27 492.87,463.58 495.14,463.88 497.42,464.17 499.7,464.46 501.97,464.74 504.25,465.02 506.53,465.29 508.8,465.55 511.08,465.81 513.35,466.07 515.63,466.31 517.91,466.56 520.18,466.79 522.46,467.03 524.74,467.26 527.01,467.48 529.29,467.7 531.56,467.92 533.84,468.13 536.12,468.34 538.39,468.55 540.67,468.75 542.95,468.95 545.22,469.14 547.5,469.33 549.78,469.52 552.05,469.71 554.33,469.89 556.6,470.07 558.88,470.25 561.16,470.42 563.43,470.59 565.71,470.76 567.99,470.93 570.26,471.09 572.54,471.25 574.82,471.41 577.09,471.57 579.37,471.72 581.64,471.87 583.92,472.02 586.2,472.17 588.47,472.32 590.75,472.46 593.03,472.6 595.3,472.74 597.58,472.88 599.85,473.02 602.13,473.15 604.41,473.29 606.68,473.42 608.96,473.55 611.24,473.68 613.51,473.8 615.79,473.93 618.07,474.05 620.34,474.17 622.62,474.29 624.89,474.41 627.17,474.53 629.45,474.65 631.72,474.76 634,474.88 636.28,474.99 638.55,475.1 640.83,475.21 643.11,475.32 645.38,475.43 647.66,475.53 649.93,475.64 652.21,475.74 654.49,475.84 656.76,475.95 659.04,476.05 661.32,476.15" fill="none" stroke="#000" stroke-width="2.3" stroke-dasharray="8,6" stroke-linejoin="round" />
</g>
<polygon points="386.12,431.76 395.12,431.76 390.62,423.76" fill="#000000" stroke="#000000" stroke-width="1" stroke-linejoin="round"/>
<polygon points="413.5,445.36 422.5,445.36 418,437.36" fill="#000000" stroke="#000000" stroke-width="1" stroke-linejoin="round"/>
<polygon points="498.14,464.95 507.14,464.95 502.64,456.95" fill="#000000" stroke="#000000" stroke-width="1" stroke-linejoin="round"/>
<polygon points="651.42,481.26 660.42,481.26 655.92,473.26" fill="#000000" stroke="#000000" stroke-width="1" stroke-linejoin="round"/>
<rect x="386.37" y="376.23" width="8.5" height="8.5" rx="1.2" fill="#f01414"/>
<rect x="413.75" y="392.54" width="8.5" height="8.5" rx="1.2" fill="#f01414"/>
<rect x="498.39" y="428.9" width="8.5" height="8.5" rx="1.2" fill="#f01414"/>
<rect x="651.67" y="465.38" width="8.5" height="8.5" rx="1.2" fill="#f01414"/>
<polygon points="394.87,409.88 394.87,418.88 386.37,414.38" fill="#f01ed2" stroke="#f01ed2" stroke-width="1" stroke-linejoin="round"/>
<polygon points="422.45,423.49 422.45,432.49 413.95,427.99" fill="#f01ed2" stroke="#f01ed2" stroke-width="1" stroke-linejoin="round"/>
<polygon points="506.89,447.65 506.89,456.65 498.39,452.15" fill="#f01ed2" stroke="#f01ed2" stroke-width="1" stroke-linejoin="round"/>
<polygon points="660.17,469.24 660.17,478.24 651.67,473.74" fill="#f01ed2" stroke="#f01ed2" stroke-width="1" stroke-linejoin="round"/>
<polygon points="385.43,275.94 395.43,275.94 390.43,284.44" fill="#1414f0" stroke="#1414f0" stroke-width="1" stroke-linejoin="round"/>
<polygon points="413.2,336.12 423.2,336.12 418.2,344.62" fill="#1414f0" stroke="#1414f0" stroke-width="1" stroke-linejoin="round"/>
<polygon points="497.64,415.88 507.64,415.88 502.64,424.38" fill="#1414f0" stroke="#1414f0" stroke-width="1" stroke-linejoin="round"/>
<polygon points="650.92,460.69 660.92,460.69 655.92,469.19" fill="#1414f0" stroke="#1414f0" stroke-width="1" stroke-linejoin="round"/>
<rect x="386.3" y="270.8" width="274.2" height="210.7" fill="none" stroke="#000" stroke-width="2"/>
<line x1="386.58" y1="481.5" x2="386.58" y2="477.3" stroke="#000" stroke-width="1.4" />
<line x1="386.58" y1="270.8" x2="386.58" y2="275" stroke="#000" stroke-width="1.4" />
<line x1="390.43" y1="481.5" x2="390.43" y2="477.3" stroke="#000" stroke-width="1.4" />
<line x1="390.43" y1="270.8" x2="390.43" y2="275" stroke="#000" stroke-width="1.4" />
<line x1="394.29" y1="481.5" x2="394.29" y2="477.3" stroke="#000" stroke-width="1.4" />
<line x1="394.29" y1="270.8" x2="394.29" y2="275" stroke="#000" stroke-width="1.4" />
<line x1="398.14" y1="481.5" x2="398.14" y2="477.3" stroke="#000" stroke-width="1.4" />
<line x1="398.14" y1="270.8" x2="398.14" y2="275" stroke="#000" stroke-width="1.4" />
<line x1="402" y1="481.5" x2="402" y2="477.3" stroke="#000" stroke-width="1.4" />
<line x1="402" y1="270.8" x2="402" y2="275" stroke="#000" stroke-width="1.4" />
<line x1="405.86" y1="481.5" x2="405.86" y2="477.3" stroke="#000" stroke-width="1.4" />
<line x1="405.86" y1="270.8" x2="405.86" y2="275" stroke="#000" stroke-width="1.4" />
<line x1="409.71" y1="481.5" x2="409.71" y2="477.3" stroke="#000" stroke-width="1.4" />
<line x1="409.71" y1="270.8" x2="409.71" y2="275" stroke="#000" stroke-width="1.4" />
<line x1="413.57" y1="481.5" x2="413.57" y2="477.3" stroke="#000" stroke-width="1.4" />
<line x1="413.57" y1="270.8" x2="413.57" y2="275" stroke="#000" stroke-width="1.4" />
<line x1="417.42" y1="481.5" x2="417.42" y2="477.3" stroke="#000" stroke-width="1.4" />
<line x1="417.42" y1="270.8" x2="417.42" y2="275" stroke="#000" stroke-width="1.4" />
<line x1="421.28" y1="481.5" x2="421.28" y2="477.3" stroke="#000" stroke-width="1.4" />
<line x1="421.28" y1="270.8" x2="421.28" y2="275" stroke="#000" stroke-width="1.4" />
<line x1="425.14" y1="481.5" x2="425.14" y2="477.3" stroke="#000" stroke-width="1.4" />
<line x1="425.14" y1="270.8" x2="425.14" y2="275" stroke="#000" stroke-width="1.4" />
<line x1="428.99" y1="481.5" x2="428.99" y2="477.3" stroke="#000" stroke-width="1.4" />
<line x1="428.99" y1="270.8" x2="428.99" y2="275" stroke="#000" stroke-width="1.4" />
<line x1="432.85" y1="481.5" x2="432.85" y2="477.3" stroke="#000" stroke-width="1.4" />
<line x1="432.85" y1="270.8" x2="432.85" y2="275" stroke="#000" stroke-width="1.4" />
<line x1="436.7" y1="481.5" x2="436.7" y2="477.3" stroke="#000" stroke-width="1.4" />
<line x1="436.7" y1="270.8" x2="436.7" y2="275" stroke="#000" stroke-width="1.4" />
<line x1="440.56" y1="481.5" x2="440.56" y2="477.3" stroke="#000" stroke-width="1.4" />
<line x1="440.56" y1="270.8" x2="440.56" y2="275" stroke="#000" stroke-width="1.4" />
<line x1="444.42" y1="481.5" x2="444.42" y2="477.3" stroke="#000" stroke-width="1.4" />
<line x1="444.42" y1="270.8" x2="444.42" y2="275" stroke="#000" stroke-width="1.4" />
<line x1="448.27" y1="481.5" x2="448.27" y2="477.3" stroke="#000" stroke-width="1.4" />
<line x1="448.27" y1="270.8" x2="448.27" y2="275" stroke="#000" stroke-width="1.4" />
<line x1="452.13" y1="481.5" x2="452.13" y2="477.3" stroke="#000" stroke-width="1.4" />
<line x1="452.13" y1="270.8" x2="452.13" y2="275" stroke="#000" stroke-width="1.4" />
<line x1="455.98" y1="481.5" x2="455.98" y2="477.3" stroke="#000" stroke-width="1.4" />
<line x1="455.98" y1="270.8" x2="455.98" y2="275" stroke="#000" stroke-width="1.4" />
<line x1="459.84" y1="481.5" x2="459.84" y2="477.3" stroke="#000" stroke-width="1.4" />
<line x1="459.84" y1="270.8" x2="459.84" y2="275" stroke="#000" stroke-width="1.4" />
<line x1="463.7" y1="481.5" x2="463.7" y2="477.3" stroke="#000" stroke-width="1.4" />
<line x1="463.7" y1="270.8" x2="463.7" y2="275" stroke="#000" stroke-width="1.4" />
<line x1="467.55" y1="481.5" x2="467.55" y2="477.3" stroke="#000" stroke-width="1.4" />
<line x1="467.55" y1="270.8" x2="467.55" y2="275" stroke="#000" stroke-width="1.4" />
<line x1="471.41" y1="481.5" x2="471.41" y2="477.3" stroke="#000" stroke-width="1.4" />
<line x1="471.41" y1="270.8" x2="471.41" y2="275" stroke="#000" stroke-width="1.4" />
<line x1="475.26" y1="481.5" x2="475.26" y2="477.3" stroke="#000" stroke-width="1.4" />
<line x1="475.26" y1="270.8" x2="475.26" y2="275" stroke="#000" stroke-width="1.4" />
<line x1="479.12" y1="481.5" x2="479.12" y2="477.3" stroke="#000" stroke-width="1.4" />
<line x1="479.12" y1="270.8" x2="479.12" y2="275" stroke="#000" stroke-width="1.4" />
<line x1="482.98" y1="481.5" x2="482.98" y2="477.3" stroke="#000" stroke-width="1.4" />
<line x1="482.98" y1="270.8" x2="482.98" y2="275" stroke="#000" stroke-width="1.4" />
<line x1="486.83" y1="481.5" x2="486.83" y2="477.3" stroke="#000" stroke-width="1.4" />
<line x1="486.83" y1="270.8" x2="486.83" y2="275" stroke="#000" stroke-width="1.4" />
<line x1="490.69" y1="481.5" x2="490.69" y2="477.3" stroke="#000" stroke-width="1.4" />
<line x1="490.69" y1="270.8" x2="490.69" y2="275" stroke="#000" stroke-width="1.4" />
<line x1="494.54" y1="481.5" x2="494.54" y2="477.3" stroke="#000" stroke-width="1.4" />
<line x1="494.54" y1="270.8" x2="494.54" y2="275" stroke="#000" stroke-width="1.4" />
<line x1="498.4" y1="481.5" x2="498.4" y2="477.3" stroke="#000" stroke-width="1.4" />
<line x1="498.4" y1="270.8" x2="498.4" y2="275" stroke="#000" stroke-width="1.4" />
<line x1="502.26" y1="481.5" x2="502.26" y2="477.3" stroke="#000" stroke-width="1.4" />
<line x1="502.26" y1="270.8" x2="502.26" y2="275" stroke="#000" stroke-width="1.4" />
<line x1="506.11" y1="481.5" x2="506.11" y2="477.3" stroke="#000" stroke-width="1.4" />
<line x1="506.11" y1="270.8" x2="506.11" y2="275" stroke="#000" stroke-width="1.4" />
<line x1="509.97" y1="481.5" x2="509.97" y2="477.3" stroke="#000" stroke-width="1.4" />
<line x1="509.97" y1="270.8" x2="509.97" y2="275" stroke="#000" stroke-width="1.4" />
<line x1="513.82" y1="481.5" x2="513.82" y2="477.3" stroke="#000" stroke-width="1.4" />
<line x1="513.82" y1="270.8" x2="513.82" y2="275" stroke="#000" stroke-width="1.4" />
<line x1="517.68" y1="481.5" x2="517.68" y2="477.3" stroke="#000" stroke-width="1.4" />
<line x1="517.68" y1="270.8" x2="517.68" y2="275" stroke="#000" stroke-width="1.4" />
<line x1="521.54" y1="481.5" x2="521.54" y2="477.3" stroke="#000" stroke-width="1.4" />
<line x1="521.54" y1="270.8" x2="521.54" y2="275" stroke="#000" stroke-width="1.4" />
<line x1="525.39" y1="481.5" x2="525.39" y2="477.3" stroke="#000" stroke-width="1.4" />
<line x1="525.39" y1="270.8" x2="525.39" y2="275" stroke="#000" stroke-width="1.4" />
<line x1="529.25" y1="481.5" x2="529.25" y2="477.3" stroke="#000" stroke-width="1.4" />
<line x1="529.25" y1="270.8" x2="529.25" y2="275" stroke="#000" stroke-width="1.4" />
<line x1="533.1" y1="481.5" x2="533.1" y2="477.3" stroke="#000" stroke-width="1.4" />
<line x1="533.1" y1="270.8" x2="533.1" y2="275" stroke="#000" stroke-width="1.4" />
<line x1="536.96" y1="481.5" x2="536.96" y2="477.3" stroke="#000" stroke-width="1.4" />
<line x1="536.96" y1="270.8" x2="536.96" y2="275" stroke="#000" stroke-width="1.4" />
<line x1="540.82" y1="481.5" x2="540.82" y2="477.3" stroke="#000" stroke-width="1.4" />
<line x1="540.82" y1="270.8" x2="540.82" y2="275" stroke="#000" stroke-width="1.4" />
<line x1="544.67" y1="481.5" x2="544.67" y2="477.3" stroke="#000" stroke-width="1.4" />
<line x1="544.67" y1="270.8" x2="544.67" y2="275" stroke="#000" stroke-width="1.4" />
<line x1="548.53" y1="481.5" x2="548.53" y2="477.3" stroke="#000" stroke-width="1.4" />
<line x1="548.53" y1="270.8" x2="548.53" y2="275" stroke="#000" stroke-width="1.4" />
<line x1="552.38" y1="481.5" x2="552.38" y2="477.3" stroke="#000" stroke-width="1.4" />
<line x1="552.38" y1="270.8" x2="552.38" y2="275" stroke="#000" stroke-width="1.4" />
<line x1="556.24" y1="481.5" x2="556.24" y2="477.3" stroke="#000" stroke-width="1.4" />
<line x1="556.24" y1="270.8" x2="556.24" y2="275" stroke="#000" stroke-width="1.4" />
<line x1="560.1" y1="481.5" x2="560.1" y2="477.3" stroke="#000" stroke-width="1.4" />
<line x1="560.1" y1="270.8" x2="560.1" y2="275" stroke="#000" stroke-width="1.4" />
<line x1="563.95" y1="481.5" x2="563.95" y2="477.3" stroke="#000" stroke-width="1.4" />
<line x1="563.95" y1="270.8" x2="563.95" y2="275" stroke="#000" stroke-width="1.4" />
<line x1="567.81" y1="481.5" x2="567.81" y2="477.3" stroke="#000" stroke-width="1.4" />
<line x1="567.81" y1="270.8" x2="567.81" y2="275" stroke="#000" stroke-width="1.4" />
<line x1="571.66" y1="481.5" x2="571.66" y2="477.3" stroke="#000" stroke-width="1.4" />
<line x1="571.66" y1="270.8" x2="571.66" y2="275" stroke="#000" stroke-width="1.4" />
<line x1="575.52" y1="481.5" x2="575.52" y2="477.3" stroke="#000" stroke-width="1.4" />
<line x1="575.52" y1="270.8" x2="575.52" y2="275" stroke="#000" stroke-width="1.4" />
<line x1="579.38" y1="481.5" x2="579.38" y2="477.3" stroke="#000" stroke-width="1.4" />
<line x1="579.38" y1="270.8" x2="579.38" y2="275" stroke="#000" stroke-width="1.4" />
<line x1="583.23" y1="481.5" x2="583.23" y2="477.3" stroke="#000" stroke-width="1.4" />
<line x1="583.23" y1="270.8" x2="583.23" y2="275" stroke="#000" stroke-width="1.4" />
<line x1="587.09" y1="481.5" x2="587.09" y2="477.3" stroke="#000" stroke-width="1.4" />
<line x1="587.09" y1="270.8" x2="587.09" y2="275" stroke="#000" stroke-width="1.4" />
<line x1="590.94" y1="481.5" x2="590.94" y2="477.3" stroke="#000" stroke-width="1.4" />
<line x1="590.94" y1="270.8" x2="590.94" y2="275" stroke="#000" stroke-width="1.4" />
<line x1="594.8" y1="481.5" x2="594.8" y2="477.3" stroke="#000" stroke-width="1.4" />
<line x1="594.8" y1="270.8" x2="594.8" y2="275" stroke="#000" stroke-width="1.4" />
<line x1="598.66" y1="481.5" x2="598.66" y2="477.3" stroke="#000" stroke-width="1.4" />
<line x1="598.66" y1="270.8" x2="598.66" y2="275" stroke="#000" stroke-width="1.4" />
<line x1="602.51" y1="481.5" x2="602.51" y2="477.3" stroke="#000" stroke-width="1.4" />
<line x1="602.51" y1="270.8" x2="602.51" y2="275" stroke="#000" stroke-width="1.4" />
<line x1="606.37" y1="481.5" x2="606.37" y2="477.3" stroke="#000" stroke-width="1.4" />
<line x1="606.37" y1="270.8" x2="606.37" y2="275" stroke="#000" stroke-width="1.4" />
<line x1="610.22" y1="481.5" x2="610.22" y2="477.3" stroke="#000" stroke-width="1.4" />
<line x1="610.22" y1="270.8" x2="610.22" y2="275" stroke="#000" stroke-width="1.4" />
<line x1="614.08" y1="481.5" x2="614.08" y2="477.3" stroke="#000" stroke-width="1.4" />
<line x1="614.08" y1="270.8" x2="614.08" y2="275" stroke="#000" stroke-width="1.4" />
<line x1="617.94" y1="481.5" x2="617.94" y2="477.3" stroke="#000" stroke-width="1.4" />
<line x1="617.94" y1="270.8" x2="617.94" y2="275" stroke="#000" stroke-width="1.4" />
<line x1="621.79" y1="481.5" x2="621.79" y2="477.3" stroke="#000" stroke-width="1.4" />
<line x1="621.79" y1="270.8" x2="621.79" y2="275" stroke="#000" stroke-width="1.4" />
<line x1="625.65" y1="481.5" x2="625.65" y2="477.3" stroke="#000" stroke-width="1.4" />
<line x1="625.65" y1="270.8" x2="625.65" y2="275" stroke="#000" stroke-width="1.4" />
<line x1="629.5" y1="481.5" x2="629.5" y2="477.3" stroke="#000" stroke-width="1.4" />
<line x1="629.5" y1="270.8" x2="629.5" y2="275" stroke="#000" stroke-width="1.4" />
<line x1="633.36" y1="481.5" x2="633.36" y2="477.3" stroke="#000" stroke-width="1.4" />
<line x1="633.36" y1="270.8" x2="633.36" y2="275" stroke="#000" stroke-width="1.4" />
<line x1="637.22" y1="481.5" x2="637.22" y2="477.3" stroke="#000" stroke-width="1.4" />
<line x1="637.22" y1="270.8" x2="637.22" y2="275" stroke="#000" stroke-width="1.4" />
<line x1="641.07" y1="481.5" x2="641.07" y2="477.3" stroke="#000" stroke-width="1.4" />
<line x1="641.07" y1="270.8" x2="641.07" y2="275" stroke="#000" stroke-width="1.4" />
<line x1="644.93" y1="481.5" x2="644.93" y2="477.3" stroke="#000" stroke-width="1.4" />
<line x1="644.93" y1="270.8" x2="644.93" y2="275" stroke="#000" stroke-width="1.4" />
<line x1="648.78" y1="481.5" x2="648.78" y2="477.3" stroke="#000" stroke-width="1.4" />
<line x1="648.78" y1="270.8" x2="648.78" y2="275" stroke="#000" stroke-width="1.4" />
<line x1="652.64" y1="481.5" x2="652.64" y2="477.3" stroke="#000" stroke-width="1.4" />
<line x1="652.64" y1="270.8" x2="652.64" y2="275" stroke="#000" stroke-width="1.4" />
<line x1="656.5" y1="481.5" x2="656.5" y2="477.3" stroke="#000" stroke-width="1.4" />
<line x1="656.5" y1="270.8" x2="656.5" y2="275" stroke="#000" stroke-width="1.4" />
<line x1="660.35" y1="481.5" x2="660.35" y2="477.3" stroke="#000" stroke-width="1.4" />
<line x1="660.35" y1="270.8" x2="660.35" y2="275" stroke="#000" stroke-width="1.4" />
<line x1="402" y1="481.5" x2="402" y2="476.2" stroke="#000" stroke-width="1.6" />
<line x1="402" y1="270.8" x2="402" y2="276.1" stroke="#000" stroke-width="1.6" />
<line x1="421.28" y1="481.5" x2="421.28" y2="476.2" stroke="#000" stroke-width="1.6" />
<line x1="421.28" y1="270.8" x2="421.28" y2="276.1" stroke="#000" stroke-width="1.6" />
<line x1="440.56" y1="481.5" x2="440.56" y2="476.2" stroke="#000" stroke-width="1.6" />
<line x1="440.56" y1="270.8" x2="440.56" y2="276.1" stroke="#000" stroke-width="1.6" />
<line x1="459.84" y1="481.5" x2="459.84" y2="476.2" stroke="#000" stroke-width="1.6" />
<line x1="459.84" y1="270.8" x2="459.84" y2="276.1" stroke="#000" stroke-width="1.6" />
<line x1="479.12" y1="481.5" x2="479.12" y2="476.2" stroke="#000" stroke-width="1.6" />
<line x1="479.12" y1="270.8" x2="479.12" y2="276.1" stroke="#000" stroke-width="1.6" />
<line x1="498.4" y1="481.5" x2="498.4" y2="476.2" stroke="#000" stroke-width="1.6" />
<line x1="498.4" y1="270.8" x2="498.4" y2="276.1" stroke="#000" stroke-width="1.6" />
<line x1="517.68" y1="481.5" x2="517.68" y2="476.2" stroke="#000" stroke-width="1.6" />
<line x1="517.68" y1="270.8" x2="517.68" y2="276.1" stroke="#000" stroke-width="1.6" />
<line x1="536.96" y1="481.5" x2="536.96" y2="476.2" stroke="#000" stroke-width="1.6" />
<line x1="536.96" y1="270.8" x2="536.96" y2="276.1" stroke="#000" stroke-width="1.6" />
<line x1="556.24" y1="481.5" x2="556.24" y2="476.2" stroke="#000" stroke-width="1.6" />
<line x1="556.24" y1="270.8" x2="556.24" y2="276.1" stroke="#000" stroke-width="1.6" />
<line x1="575.52" y1="481.5" x2="575.52" y2="476.2" stroke="#000" stroke-width="1.6" />
<line x1="575.52" y1="270.8" x2="575.52" y2="276.1" stroke="#000" stroke-width="1.6" />
<line x1="594.8" y1="481.5" x2="594.8" y2="476.2" stroke="#000" stroke-width="1.6" />
<line x1="594.8" y1="270.8" x2="594.8" y2="276.1" stroke="#000" stroke-width="1.6" />
<line x1="614.08" y1="481.5" x2="614.08" y2="476.2" stroke="#000" stroke-width="1.6" />
<line x1="614.08" y1="270.8" x2="614.08" y2="276.1" stroke="#000" stroke-width="1.6" />
<line x1="633.36" y1="481.5" x2="633.36" y2="476.2" stroke="#000" stroke-width="1.6" />
<line x1="633.36" y1="270.8" x2="633.36" y2="276.1" stroke="#000" stroke-width="1.6" />
<line x1="652.64" y1="481.5" x2="652.64" y2="476.2" stroke="#000" stroke-width="1.6" />
<line x1="652.64" y1="270.8" x2="652.64" y2="276.1" stroke="#000" stroke-width="1.6" />
<line x1="402" y1="481.5" x2="402" y2="474.3" stroke="#000" stroke-width="1.6" />
<line x1="402" y1="270.8" x2="402" y2="278" stroke="#000" stroke-width="1.6" />
<line x1="440.56" y1="481.5" x2="440.56" y2="474.3" stroke="#000" stroke-width="1.6" />
<line x1="440.56" y1="270.8" x2="440.56" y2="278" stroke="#000" stroke-width="1.6" />
<line x1="479.12" y1="481.5" x2="479.12" y2="474.3" stroke="#000" stroke-width="1.6" />
<line x1="479.12" y1="270.8" x2="479.12" y2="278" stroke="#000" stroke-width="1.6" />
<line x1="517.68" y1="481.5" x2="517.68" y2="474.3" stroke="#000" stroke-width="1.6" />
<line x1="517.68" y1="270.8" x2="517.68" y2="278" stroke="#000" stroke-width="1.6" />
<line x1="556.24" y1="481.5" x2="556.24" y2="474.3" stroke="#000" stroke-width="1.6" />
<line x1="556.24" y1="270.8" x2="556.24" y2="278" stroke="#000" stroke-width="1.6" />
<line x1="594.8" y1="481.5" x2="594.8" y2="474.3" stroke="#000" stroke-width="1.6" />
<line x1="594.8" y1="270.8" x2="594.8" y2="278" stroke="#000" stroke-width="1.6" />
<line x1="633.36" y1="481.5" x2="633.36" y2="474.3" stroke="#000" stroke-width="1.6" />
<line x1="633.36" y1="270.8" x2="633.36" y2="278" stroke="#000" stroke-width="1.6" />
<line x1="386.3" y1="478.43" x2="390.6" y2="478.43" stroke="#000" stroke-width="1.6" />
<line x1="660.5" y1="478.43" x2="656.2" y2="478.43" stroke="#000" stroke-width="1.6" />
<line x1="386.3" y1="472.56" x2="390.6" y2="472.56" stroke="#000" stroke-width="1.6" />
<line x1="660.5" y1="472.56" x2="656.2" y2="472.56" stroke="#000" stroke-width="1.6" />
<line x1="386.3" y1="466.7" x2="390.6" y2="466.7" stroke="#000" stroke-width="1.6" />
<line x1="660.5" y1="466.7" x2="656.2" y2="466.7" stroke="#000" stroke-width="1.6" />
<line x1="386.3" y1="460.83" x2="390.6" y2="460.83" stroke="#000" stroke-width="1.6" />
<line x1="660.5" y1="460.83" x2="656.2" y2="460.83" stroke="#000" stroke-width="1.6" />
<line x1="386.3" y1="454.97" x2="390.6" y2="454.97" stroke="#000" stroke-width="1.6" />
<line x1="660.5" y1="454.97" x2="656.2" y2="454.97" stroke="#000" stroke-width="1.6" />
<line x1="386.3" y1="449.11" x2="390.6" y2="449.11" stroke="#000" stroke-width="1.6" />
<line x1="660.5" y1="449.11" x2="656.2" y2="449.11" stroke="#000" stroke-width="1.6" />
<line x1="386.3" y1="443.24" x2="390.6" y2="443.24" stroke="#000" stroke-width="1.6" />
<line x1="660.5" y1="443.24" x2="656.2" y2="443.24" stroke="#000" stroke-width="1.6" />
<line x1="386.3" y1="437.38" x2="390.6" y2="437.38" stroke="#000" stroke-width="1.6" />
<line x1="660.5" y1="437.38" x2="656.2" y2="437.38" stroke="#000" stroke-width="1.6" />
<line x1="386.3" y1="431.51" x2="390.6" y2="431.51" stroke="#000" stroke-width="1.6" />
<line x1="660.5" y1="431.51" x2="656.2" y2="431.51" stroke="#000" stroke-width="1.6" />
<line x1="386.3" y1="425.64" x2="390.6" y2="425.64" stroke="#000" stroke-width="1.6" />
<line x1="660.5" y1="425.64" x2="656.2" y2="425.64" stroke="#000" stroke-width="1.6" />
<line x1="386.3" y1="419.78" x2="390.6" y2="419.78" stroke="#000" stroke-width="1.6" />
<line x1="660.5" y1="419.78" x2="656.2" y2="419.78" stroke="#000" stroke-width="1.6" />
<line x1="386.3" y1="413.91" x2="390.6" y2="413.91" stroke="#000" stroke-width="1.6" />
<line x1="660.5" y1="413.91" x2="656.2" y2="413.91" stroke="#000" stroke-width="1.6" />
<line x1="386.3" y1="408.05" x2="390.6" y2="408.05" stroke="#000" stroke-width="1.6" />
<line x1="660.5" y1="408.05" x2="656.2" y2="408.05" stroke="#000" stroke-width="1.6" />
<line x1="386.3" y1="402.19" x2="390.6" y2="402.19" stroke="#000" stroke-width="1.6" />
<line x1="660.5" y1="402.19" x2="656.2" y2="402.19" stroke="#000" stroke-width="1.6" />
<line x1="386.3" y1="396.32" x2="390.6" y2="396.32" stroke="#000" stroke-width="1.6" />
<line x1="660.5" y1="396.32" x2="656.2" y2="396.32" stroke="#000" stroke-width="1.6" />
<line x1="386.3" y1="390.45" x2="390.6" y2="390.45" stroke="#000" stroke-width="1.6" />
<line x1="660.5" y1="390.45" x2="656.2" y2="390.45" stroke="#000" stroke-width="1.6" />
<line x1="386.3" y1="384.59" x2="390.6" y2="384.59" stroke="#000" stroke-width="1.6" />
<line x1="660.5" y1="384.59" x2="656.2" y2="384.59" stroke="#000" stroke-width="1.6" />
<line x1="386.3" y1="378.72" x2="390.6" y2="378.72" stroke="#000" stroke-width="1.6" />
<line x1="660.5" y1="378.72" x2="656.2" y2="378.72" stroke="#000" stroke-width="1.6" />
<line x1="386.3" y1="372.86" x2="390.6" y2="372.86" stroke="#000" stroke-width="1.6" />
<line x1="660.5" y1="372.86" x2="656.2" y2="372.86" stroke="#000" stroke-width="1.6" />
<line x1="386.3" y1="367" x2="390.6" y2="367" stroke="#000" stroke-width="1.6" />
<line x1="660.5" y1="367" x2="656.2" y2="367" stroke="#000" stroke-width="1.6" />
<line x1="386.3" y1="361.13" x2="390.6" y2="361.13" stroke="#000" stroke-width="1.6" />
<line x1="660.5" y1="361.13" x2="656.2" y2="361.13" stroke="#000" stroke-width="1.6" />
<line x1="386.3" y1="355.26" x2="390.6" y2="355.26" stroke="#000" stroke-width="1.6" />
<line x1="660.5" y1="355.26" x2="656.2" y2="355.26" stroke="#000" stroke-width="1.6" />
<line x1="386.3" y1="349.4" x2="390.6" y2="349.4" stroke="#000" stroke-width="1.6" />
<line x1="660.5" y1="349.4" x2="656.2" y2="349.4" stroke="#000" stroke-width="1.6" />
<line x1="386.3" y1="343.53" x2="390.6" y2="343.53" stroke="#000" stroke-width="1.6" />
<line x1="660.5" y1="343.53" x2="656.2" y2="343.53" stroke="#000" stroke-width="1.6" />
<line x1="386.3" y1="337.67" x2="390.6" y2="337.67" stroke="#000" stroke-width="1.6" />
<line x1="660.5" y1="337.67" x2="656.2" y2="337.67" stroke="#000" stroke-width="1.6" />
<line x1="386.3" y1="331.8" x2="390.6" y2="331.8" stroke="#000" stroke-width="1.6" />
<line x1="660.5" y1="331.8" x2="656.2" y2="331.8" stroke="#000" stroke-width="1.6" />
<line x1="386.3" y1="325.94" x2="390.6" y2="325.94" stroke="#000" stroke-width="1.6" />
<line x1="660.5" y1="325.94" x2="656.2" y2="325.94" stroke="#000" stroke-width="1.6" />
<line x1="386.3" y1="320.07" x2="390.6" y2="320.07" stroke="#000" stroke-width="1.6" />
<line x1="660.5" y1="320.07" x2="656.2" y2="320.07" stroke="#000" stroke-width="1.6" />
<line x1="386.3" y1="314.21" x2="390.6" y2="314.21" stroke="#000" stroke-width="1.6" />
<line x1="660.5" y1="314.21" x2="656.2" y2="314.21" stroke="#000" stroke-width="1.6" />
<line x1="386.3" y1="308.34" x2="390.6" y2="308.34" stroke="#000" stroke-width="1.6" />
<line x1="660.5" y1="308.34" x2="656.2" y2="308.34" stroke="#000" stroke-width="1.6" />
<line x1="386.3" y1="302.48" x2="390.6" y2="302.48" stroke="#000" stroke-width="1.6" />
<line x1="660.5" y1="302.48" x2="656.2" y2="302.48" stroke="#000" stroke-width="1.6" />
<line x1="386.3" y1="296.62" x2="390.6" y2="296.62" stroke="#000" stroke-width="1.6" />
<line x1="660.5" y1="296.62" x2="656.2" y2="296.62" stroke="#000" stroke-width="1.6" />
<line x1="386.3" y1="290.75" x2="390.6" y2="290.75" stroke="#000" stroke-width="1.6" />
<line x1="660.5" y1="290.75" x2="656.2" y2="290.75" stroke="#000" stroke-width="1.6" />
<line x1="386.3" y1="284.88" x2="390.6" y2="284.88" stroke="#000" stroke-width="1.6" />
<line x1="660.5" y1="284.88" x2="656.2" y2="284.88" stroke="#000" stroke-width="1.6" />
<line x1="386.3" y1="279.02" x2="390.6" y2="279.02" stroke="#000" stroke-width="1.6" />
<line x1="660.5" y1="279.02" x2="656.2" y2="279.02" stroke="#000" stroke-width="1.6" />
<line x1="386.3" y1="273.15" x2="390.6" y2="273.15" stroke="#000" stroke-width="1.6" />
<line x1="660.5" y1="273.15" x2="656.2" y2="273.15" stroke="#000" stroke-width="1.6" />
<line x1="386.3" y1="466.7" x2="393.5" y2="466.7" stroke="#000" stroke-width="1.6" />
<line x1="660.5" y1="466.7" x2="653.3" y2="466.7" stroke="#000" stroke-width="1.6" />
<line x1="386.3" y1="443.24" x2="393.5" y2="443.24" stroke="#000" stroke-width="1.6" />
<line x1="660.5" y1="443.24" x2="653.3" y2="443.24" stroke="#000" stroke-width="1.6" />
<line x1="386.3" y1="419.78" x2="393.5" y2="419.78" stroke="#000" stroke-width="1.6" />
<line x1="660.5" y1="419.78" x2="653.3" y2="419.78" stroke="#000" stroke-width="1.6" />
<line x1="386.3" y1="396.32" x2="393.5" y2="396.32" stroke="#000" stroke-width="1.6" />
<line x1="660.5" y1="396.32" x2="653.3" y2="396.32" stroke="#000" stroke-width="1.6" />
<line x1="386.3" y1="372.86" x2="393.5" y2="372.86" stroke="#000" stroke-width="1.6" />
<line x1="660.5" y1="372.86" x2="653.3" y2="372.86" stroke="#000" stroke-width="1.6" />
<line x1="386.3" y1="349.4" x2="393.5" y2="349.4" stroke="#000" stroke-width="1.6" />
<line x1="660.5" y1="349.4" x2="653.3" y2="349.4" stroke="#000" stroke-width="1.6" />
<line x1="386.3" y1="325.94" x2="393.5" y2="325.94" stroke="#000" stroke-width="1.6" />
<line x1="660.5" y1="325.94" x2="653.3" y2="325.94" stroke="#000" stroke-width="1.6" />
<line x1="386.3" y1="302.48" x2="393.5" y2="302.48" stroke="#000" stroke-width="1.6" />
<line x1="660.5" y1="302.48" x2="653.3" y2="302.48" stroke="#000" stroke-width="1.6" />
<line x1="386.3" y1="279.02" x2="393.5" y2="279.02" stroke="#000" stroke-width="1.6" />
<line x1="660.5" y1="279.02" x2="653.3" y2="279.02" stroke="#000" stroke-width="1.6" />
<text transform="translate(382.4,472.7) scale(1,1.07)" font-family="'Liberation Serif', serif" font-size="15" font-weight="bold" text-anchor="end" fill="#000" >40</text>
<text transform="translate(382.4,449.24) scale(1,1.07)" font-family="'Liberation Serif', serif" font-size="15" font-weight="bold" text-anchor="end" fill="#000" >60</text>
<text transform="translate(382.4,425.78) scale(1,1.07)" font-family="'Liberation Serif', serif" font-size="15" font-weight="bold" text-anchor="end" fill="#000" >80</text>
<text transform="translate(382.4,402.32) scale(1,1.07)" font-family="'Liberation Serif', serif" font-size="15" font-weight="bold" text-anchor="end" fill="#000" >100</text>
<text transform="translate(382.4,378.86) scale(1,1.07)" font-family="'Liberation Serif', serif" font-size="15" font-weight="bold" text-anchor="end" fill="#000" >120</text>
<text transform="translate(382.4,355.4) scale(1,1.07)" font-family="'Liberation Serif', serif" font-size="15" font-weight="bold" text-anchor="end" fill="#000" >140</text>
<text transform="translate(382.4,331.94) scale(1,1.07)" font-family="'Liberation Serif', serif" font-size="15" font-weight="bold" text-anchor="end" fill="#000" >160</text>
<text transform="translate(382.4,308.48) scale(1,1.07)" font-family="'Liberation Serif', serif" font-size="15" font-weight="bold" text-anchor="end" fill="#000" >180</text>
<text transform="translate(382.4,285.02) scale(1,1.07)" font-family="'Liberation Serif', serif" font-size="15" font-weight="bold" text-anchor="end" fill="#000" >200</text>
<text transform="translate(402,499.8) scale(1,1.07)" font-family="'Liberation Serif', serif" font-size="15" font-weight="bold" text-anchor="middle" fill="#000" >2</text>
<text transform="translate(440.56,499.8) scale(1,1.07)" font-family="'Liberation Serif', serif" font-size="15" font-weight="bold" text-anchor="middle" fill="#000" >4</text>
<text transform="translate(479.12,499.8) scale(1,1.07)" font-family="'Liberation Serif', serif" font-size="15" font-weight="bold" text-anchor="middle" fill="#000" >6</text>
<text transform="translate(517.68,499.8) scale(1,1.07)" font-family="'Liberation Serif', serif" font-size="15" font-weight="bold" text-anchor="middle" fill="#000" >8</text>
<text transform="translate(556.24,499.8) scale(1,1.07)" font-family="'Liberation Serif', serif" font-size="15" font-weight="bold" text-anchor="middle" fill="#000" >10</text>
<text transform="translate(594.8,499.8) scale(1,1.07)" font-family="'Liberation Serif', serif" font-size="15" font-weight="bold" text-anchor="middle" fill="#000" >12</text>
<text transform="translate(633.36,499.8) scale(1,1.07)" font-family="'Liberation Serif', serif" font-size="15" font-weight="bold" text-anchor="middle" fill="#000" >14</text>
<text transform="translate(523.4,511) scale(1,1.07)" font-family="'Liberation Serif', serif" font-size="14.5" font-weight="bold" text-anchor="middle" fill="#000" >T (K)</text>
<text transform="translate(355.5,375) rotate(-90) scale(1.07,1)" font-family="'Liberation Serif', serif" font-size="14" font-weight="bold" text-anchor="middle">L<tspan font-size="9.5" dy="4">&#966;</tspan><tspan dy="-4"> (nm)</tspan></text>
<polygon points="456,280.6 456,290.6 446.4,285.6" fill="#f01ed2" stroke="#f01ed2" stroke-width="1" stroke-linejoin="round"/>
<text transform="translate(464.9,289) scale(1,1.07)" font-family="'Liberation Serif', serif" font-size="10.8">V<tspan font-size="8" dy="2.5" dx="-0.8">g</tspan><tspan dy="-2.5">=60V</tspan></text>
<line x1="504.2" y1="285.3" x2="513.1" y2="285.3" stroke="#f01ed2" stroke-width="2" />
<line x1="521.9" y1="285.3" x2="525.1" y2="285.3" stroke="#f01ed2" stroke-width="2" />
<text transform="translate(529.9,289) scale(1,1.07)" font-family="'Liberation Serif', serif" font-size="10.8" font-weight="normal" text-anchor="start" fill="#000" >Fit</text>
<polygon points="447,295.95 457,295.95 452,305.65" fill="#1414f0" stroke="#1414f0" stroke-width="1" stroke-linejoin="round"/>
<text transform="translate(464.9,303.5) scale(1,1.07)" font-family="'Liberation Serif', serif" font-size="10.8">V<tspan font-size="8" dy="2.5" dx="-0.8">g</tspan><tspan dy="-2.5">=-10V</tspan></text>
<line x1="505" y1="299.8" x2="513.9" y2="299.8" stroke="#1e1ee6" stroke-width="2" />
<line x1="522.7" y1="299.8" x2="525.9" y2="299.8" stroke="#1e1ee6" stroke-width="2" />
<text transform="translate(531.2,303.5) scale(1,1.07)" font-family="'Liberation Serif', serif" font-size="10.8" font-weight="normal" text-anchor="start" fill="#000" >Fit</text>
<polygon points="550.6,289.8 560.6,289.8 555.6,280.8" fill="#000000" stroke="#000000" stroke-width="1" stroke-linejoin="round"/>
<text transform="translate(568.5,289) scale(1,1.07)" font-family="'Liberation Serif', serif" font-size="10.8">V<tspan font-size="8" dy="2.5" dx="-0.8">g</tspan><tspan dy="-2.5">=45V</tspan></text>
<line x1="610.2" y1="285.3" x2="617" y2="285.3" stroke="#000" stroke-width="2" />
<line x1="628.5" y1="285.3" x2="631.5" y2="285.3" stroke="#000" stroke-width="2" />
<text transform="translate(636.5,289) scale(1,1.07)" font-family="'Liberation Serif', serif" font-size="10.8" font-weight="normal" text-anchor="start" fill="#000" >Fit</text>
<rect x="551.7" y="294.6" width="9" height="9" rx="1.2" fill="#f01414"/>
<text transform="translate(568.5,303.5) scale(1,1.07)" font-family="'Liberation Serif', serif" font-size="10.8">V<tspan font-size="8" dy="2.5" dx="-0.8">g</tspan><tspan dy="-2.5">=-60V</tspan></text>
<line x1="610.2" y1="299.5" x2="617.3" y2="299.5" stroke="#dc2828" stroke-width="2" />
<line x1="627.2" y1="299.5" x2="630.5" y2="299.5" stroke="#dc2828" stroke-width="2" />
<text transform="translate(636.5,303.5) scale(1,1.07)" font-family="'Liberation Serif', serif" font-size="10.8" font-weight="normal" text-anchor="start" fill="#000" >Fit</text>
<rect x="533.7" y="311.8" width="114.0" height="70.0" fill="#fff"/>
<polyline points="540.47,320.87 550.38,325.68 580.3,323.24 637.52,322.72" fill="none" stroke="#000" stroke-width="1.6" stroke-dasharray="3.5,3" stroke-linejoin="round" />
<polyline points="540.47,323.46 550.38,330.86 580.3,332.34 637.52,322.72" fill="none" stroke="#f01ed2" stroke-width="1.6" stroke-dasharray="3.5,3" stroke-linejoin="round" />
<polyline points="540.47,359.87 550.38,363.42 580.3,366.9 637.52,371.56" fill="none" stroke="#dc2828" stroke-width="1.6" stroke-dasharray="3.5,3" stroke-linejoin="round" />
<polyline points="540.47,361.5 550.38,367.56 580.3,369.34 637.52,372.3" fill="none" stroke="#1e1ee6" stroke-width="1.6" stroke-dasharray="3.5,3" stroke-linejoin="round" />
<polygon points="536.47,324.37 544.47,324.37 540.47,317.37" fill="#000000" stroke="#000000" stroke-width="1" stroke-linejoin="round"/>
<polygon points="546.38,329.18 554.38,329.18 550.38,322.18" fill="#000000" stroke="#000000" stroke-width="1" stroke-linejoin="round"/>
<polygon points="576.3,326.74 584.3,326.74 580.3,319.74" fill="#000000" stroke="#000000" stroke-width="1" stroke-linejoin="round"/>
<polygon points="633.52,326.22 641.52,326.22 637.52,319.22" fill="#000000" stroke="#000000" stroke-width="1" stroke-linejoin="round"/>
<polygon points="543.97,319.46 543.97,327.46 536.97,323.46" fill="#f01ed2" stroke="#f01ed2" stroke-width="1" stroke-linejoin="round"/>
<polygon points="553.88,326.86 553.88,334.86 546.88,330.86" fill="#f01ed2" stroke="#f01ed2" stroke-width="1" stroke-linejoin="round"/>
<polygon points="583.8,328.34 583.8,336.34 576.8,332.34" fill="#f01ed2" stroke="#f01ed2" stroke-width="1" stroke-linejoin="round"/>
<polygon points="641.02,318.72 641.02,326.72 634.02,322.72" fill="#f01ed2" stroke="#f01ed2" stroke-width="1" stroke-linejoin="round"/>
<rect x="536.97" y="356.37" width="7" height="7" rx="1.2" fill="#f01414"/>
<rect x="546.88" y="359.92" width="7" height="7" rx="1.2" fill="#f01414"/>
<rect x="576.8" y="363.4" width="7" height="7" rx="1.2" fill="#f01414"/>
<rect x="634.02" y="368.06" width="7" height="7" rx="1.2" fill="#f01414"/>
<polygon points="536.47,358 544.47,358 540.47,365" fill="#1414f0" stroke="#1414f0" stroke-width="1" stroke-linejoin="round"/>
<polygon points="546.38,364.06 554.38,364.06 550.38,371.06" fill="#1414f0" stroke="#1414f0" stroke-width="1" stroke-linejoin="round"/>
<polygon points="576.3,365.84 584.3,365.84 580.3,372.84" fill="#1414f0" stroke="#1414f0" stroke-width="1" stroke-linejoin="round"/>
<polygon points="633.52,368.8 641.52,368.8 637.52,375.8" fill="#1414f0" stroke="#1414f0" stroke-width="1" stroke-linejoin="round"/>
<rect x="533.7" y="311.8" width="114" height="70" fill="none" stroke="#000" stroke-width="1.8"/>
<line x1="537.12" y1="381.8" x2="537.12" y2="379.3" stroke="#000" stroke-width="1.2" />
<line x1="537.12" y1="311.8" x2="537.12" y2="314.3" stroke="#000" stroke-width="1.2" />
<line x1="544.25" y1="381.8" x2="544.25" y2="379.3" stroke="#000" stroke-width="1.2" />
<line x1="544.25" y1="311.8" x2="544.25" y2="314.3" stroke="#000" stroke-width="1.2" />
<line x1="551.38" y1="381.8" x2="551.38" y2="379.3" stroke="#000" stroke-width="1.2" />
<line x1="551.38" y1="311.8" x2="551.38" y2="314.3" stroke="#000" stroke-width="1.2" />
<line x1="558.5" y1="381.8" x2="558.5" y2="379.3" stroke="#000" stroke-width="1.2" />
<line x1="558.5" y1="311.8" x2="558.5" y2="314.3" stroke="#000" stroke-width="1.2" />
<line x1="565.62" y1="381.8" x2="565.62" y2="379.3" stroke="#000" stroke-width="1.2" />
<line x1="565.62" y1="311.8" x2="565.62" y2="314.3" stroke="#000" stroke-width="1.2" />
<line x1="572.75" y1="381.8" x2="572.75" y2="379.3" stroke="#000" stroke-width="1.2" />
<line x1="572.75" y1="311.8" x2="572.75" y2="314.3" stroke="#000" stroke-width="1.2" />
<line x1="579.88" y1="381.8" x2="579.88" y2="379.3" stroke="#000" stroke-width="1.2" />
<line x1="579.88" y1="311.8" x2="579.88" y2="314.3" stroke="#000" stroke-width="1.2" />
<line x1="587" y1="381.8" x2="587" y2="379.3" stroke="#000" stroke-width="1.2" />
<line x1="587" y1="311.8" x2="587" y2="314.3" stroke="#000" stroke-width="1.2" />
<line x1="594.12" y1="381.8" x2="594.12" y2="379.3" stroke="#000" stroke-width="1.2" />
<line x1="594.12" y1="311.8" x2="594.12" y2="314.3" stroke="#000" stroke-width="1.2" />
<line x1="601.25" y1="381.8" x2="601.25" y2="379.3" stroke="#000" stroke-width="1.2" />
<line x1="601.25" y1="311.8" x2="601.25" y2="314.3" stroke="#000" stroke-width="1.2" />
<line x1="608.38" y1="381.8" x2="608.38" y2="379.3" stroke="#000" stroke-width="1.2" />
<line x1="608.38" y1="311.8" x2="608.38" y2="314.3" stroke="#000" stroke-width="1.2" />
<line x1="615.5" y1="381.8" x2="615.5" y2="379.3" stroke="#000" stroke-width="1.2" />
<line x1="615.5" y1="311.8" x2="615.5" y2="314.3" stroke="#000" stroke-width="1.2" />
<line x1="622.62" y1="381.8" x2="622.62" y2="379.3" stroke="#000" stroke-width="1.2" />
<line x1="622.62" y1="311.8" x2="622.62" y2="314.3" stroke="#000" stroke-width="1.2" />
<line x1="629.75" y1="381.8" x2="629.75" y2="379.3" stroke="#000" stroke-width="1.2" />
<line x1="629.75" y1="311.8" x2="629.75" y2="314.3" stroke="#000" stroke-width="1.2" />
<line x1="636.88" y1="381.8" x2="636.88" y2="379.3" stroke="#000" stroke-width="1.2" />
<line x1="636.88" y1="311.8" x2="636.88" y2="314.3" stroke="#000" stroke-width="1.2" />
<line x1="644" y1="381.8" x2="644" y2="379.3" stroke="#000" stroke-width="1.2" />
<line x1="644" y1="311.8" x2="644" y2="314.3" stroke="#000" stroke-width="1.2" />
<line x1="558.5" y1="381.8" x2="558.5" y2="377.3" stroke="#000" stroke-width="1.4" />
<line x1="558.5" y1="311.8" x2="558.5" y2="316.3" stroke="#000" stroke-width="1.4" />
<line x1="587" y1="381.8" x2="587" y2="377.3" stroke="#000" stroke-width="1.4" />
<line x1="587" y1="311.8" x2="587" y2="316.3" stroke="#000" stroke-width="1.4" />
<line x1="615.5" y1="381.8" x2="615.5" y2="377.3" stroke="#000" stroke-width="1.4" />
<line x1="615.5" y1="311.8" x2="615.5" y2="316.3" stroke="#000" stroke-width="1.4" />
<line x1="644" y1="381.8" x2="644" y2="377.3" stroke="#000" stroke-width="1.4" />
<line x1="644" y1="311.8" x2="644" y2="316.3" stroke="#000" stroke-width="1.4" />
<line x1="533.7" y1="379.7" x2="536.2" y2="379.7" stroke="#000" stroke-width="1.2" />
<line x1="647.7" y1="379.7" x2="645.2" y2="379.7" stroke="#000" stroke-width="1.2" />
<line x1="533.7" y1="376" x2="536.2" y2="376" stroke="#000" stroke-width="1.2" />
<line x1="647.7" y1="376" x2="645.2" y2="376" stroke="#000" stroke-width="1.2" />
<line x1="533.7" y1="372.3" x2="536.2" y2="372.3" stroke="#000" stroke-width="1.2" />
<line x1="647.7" y1="372.3" x2="645.2" y2="372.3" stroke="#000" stroke-width="1.2" />
<line x1="533.7" y1="368.6" x2="536.2" y2="368.6" stroke="#000" stroke-width="1.2" />
<line x1="647.7" y1="368.6" x2="645.2" y2="368.6" stroke="#000" stroke-width="1.2" />
<line x1="533.7" y1="364.9" x2="536.2" y2="364.9" stroke="#000" stroke-width="1.2" />
<line x1="647.7" y1="364.9" x2="645.2" y2="364.9" stroke="#000" stroke-width="1.2" />
<line x1="533.7" y1="361.2" x2="536.2" y2="361.2" stroke="#000" stroke-width="1.2" />
<line x1="647.7" y1="361.2" x2="645.2" y2="361.2" stroke="#000" stroke-width="1.2" />
<line x1="533.7" y1="357.5" x2="536.2" y2="357.5" stroke="#000" stroke-width="1.2" />
<line x1="647.7" y1="357.5" x2="645.2" y2="357.5" stroke="#000" stroke-width="1.2" />
<line x1="533.7" y1="353.8" x2="536.2" y2="353.8" stroke="#000" stroke-width="1.2" />
<line x1="647.7" y1="353.8" x2="645.2" y2="353.8" stroke="#000" stroke-width="1.2" />
<line x1="533.7" y1="350.1" x2="536.2" y2="350.1" stroke="#000" stroke-width="1.2" />
<line x1="647.7" y1="350.1" x2="645.2" y2="350.1" stroke="#000" stroke-width="1.2" />
<line x1="533.7" y1="346.4" x2="536.2" y2="346.4" stroke="#000" stroke-width="1.2" />
<line x1="647.7" y1="346.4" x2="645.2" y2="346.4" stroke="#000" stroke-width="1.2" />
<line x1="533.7" y1="342.7" x2="536.2" y2="342.7" stroke="#000" stroke-width="1.2" />
<line x1="647.7" y1="342.7" x2="645.2" y2="342.7" stroke="#000" stroke-width="1.2" />
<line x1="533.7" y1="339" x2="536.2" y2="339" stroke="#000" stroke-width="1.2" />
<line x1="647.7" y1="339" x2="645.2" y2="339" stroke="#000" stroke-width="1.2" />
<line x1="533.7" y1="335.3" x2="536.2" y2="335.3" stroke="#000" stroke-width="1.2" />
<line x1="647.7" y1="335.3" x2="645.2" y2="335.3" stroke="#000" stroke-width="1.2" />
<line x1="533.7" y1="331.6" x2="536.2" y2="331.6" stroke="#000" stroke-width="1.2" />
<line x1="647.7" y1="331.6" x2="645.2" y2="331.6" stroke="#000" stroke-width="1.2" />
<line x1="533.7" y1="327.9" x2="536.2" y2="327.9" stroke="#000" stroke-width="1.2" />
<line x1="647.7" y1="327.9" x2="645.2" y2="327.9" stroke="#000" stroke-width="1.2" />
<line x1="533.7" y1="324.2" x2="536.2" y2="324.2" stroke="#000" stroke-width="1.2" />
<line x1="647.7" y1="324.2" x2="645.2" y2="324.2" stroke="#000" stroke-width="1.2" />
<line x1="533.7" y1="320.5" x2="536.2" y2="320.5" stroke="#000" stroke-width="1.2" />
<line x1="647.7" y1="320.5" x2="645.2" y2="320.5" stroke="#000" stroke-width="1.2" />
<line x1="533.7" y1="372.3" x2="538.2" y2="372.3" stroke="#000" stroke-width="1.4" />
<line x1="647.7" y1="372.3" x2="643.2" y2="372.3" stroke="#000" stroke-width="1.4" />
<line x1="533.7" y1="357.5" x2="538.2" y2="357.5" stroke="#000" stroke-width="1.4" />
<line x1="647.7" y1="357.5" x2="643.2" y2="357.5" stroke="#000" stroke-width="1.4" />
<line x1="533.7" y1="342.7" x2="538.2" y2="342.7" stroke="#000" stroke-width="1.4" />
<line x1="647.7" y1="342.7" x2="643.2" y2="342.7" stroke="#000" stroke-width="1.4" />
<line x1="533.7" y1="327.9" x2="538.2" y2="327.9" stroke="#000" stroke-width="1.4" />
<line x1="647.7" y1="327.9" x2="643.2" y2="327.9" stroke="#000" stroke-width="1.4" />
<text transform="translate(530.2,376.6) scale(1,1.07)" font-family="'Liberation Serif', serif" font-size="12.5" font-weight="bold" text-anchor="end" fill="#000" >0.4</text>
<text transform="translate(530.2,361.8) scale(1,1.07)" font-family="'Liberation Serif', serif" font-size="12.5" font-weight="bold" text-anchor="end" fill="#000" >0.6</text>
<text transform="translate(530.2,347) scale(1,1.07)" font-family="'Liberation Serif', serif" font-size="12.5" font-weight="bold" text-anchor="end" fill="#000" >0.8</text>
<text transform="translate(530.2,332.2) scale(1,1.07)" font-family="'Liberation Serif', serif" font-size="12.5" font-weight="bold" text-anchor="end" fill="#000" >1.0</text>
<text transform="translate(558.5,398.8) scale(1,1.07)" font-family="'Liberation Serif', serif" font-size="12" font-weight="bold" text-anchor="middle" fill="#000" >4</text>
<text transform="translate(587,398.8) scale(1,1.07)" font-family="'Liberation Serif', serif" font-size="12" font-weight="bold" text-anchor="middle" fill="#000" >8</text>
<text transform="translate(615.5,398.8) scale(1,1.07)" font-family="'Liberation Serif', serif" font-size="12" font-weight="bold" text-anchor="middle" fill="#000" >12</text>
<text transform="translate(644,398.8) scale(1,1.07)" font-family="'Liberation Serif', serif" font-size="12" font-weight="bold" text-anchor="middle" fill="#000" >16</text>
<text transform="translate(590.8,412) scale(1,1.07)" font-family="'Liberation Serif', serif" font-size="12.5" font-weight="bold" text-anchor="middle" fill="#000" >T (K)</text>
<text transform="translate(511,346.5) rotate(-90) scale(1.07,1)" font-family="'Liberation Serif', serif" font-size="13.5" text-anchor="middle">|&#945;|</text>
<text transform="translate(4.3,14.6) scale(1,1.07)" font-family="'Liberation Sans', sans-serif" font-size="16" font-weight="bold" text-anchor="start" fill="#000" >a</text>
<text transform="translate(336.8,12.8) scale(1,1.07)" font-family="'Liberation Sans', sans-serif" font-size="16" font-weight="bold" text-anchor="start" fill="#000" >b</text>
<text transform="translate(4.3,259.7) scale(1,1.07)" font-family="'Liberation Sans', sans-serif" font-size="16" font-weight="bold" text-anchor="start" fill="#000" >c</text>
<text transform="translate(336.2,260.7) scale(1,1.07)" font-family="'Liberation Sans', sans-serif" font-size="16" font-weight="bold" text-anchor="start" fill="#000" >d</text>
</svg>
</body></html>
